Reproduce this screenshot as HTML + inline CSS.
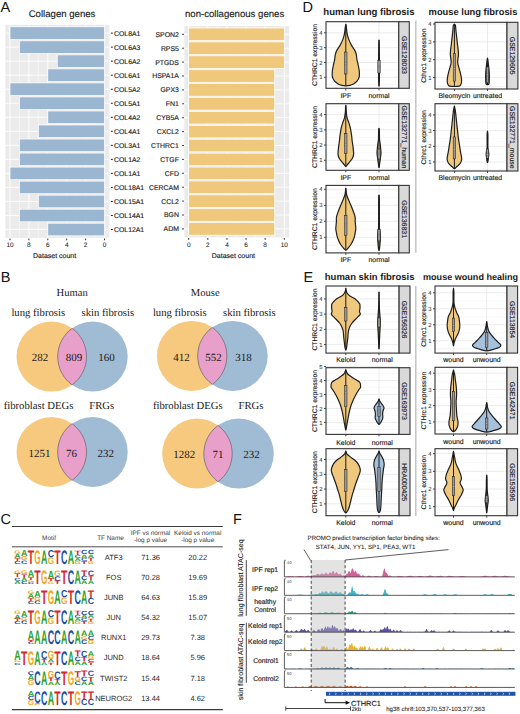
<!DOCTYPE html>
<html><head><meta charset="utf-8"><style>
html,body{margin:0;padding:0;background:#fff;}
svg{display:block;}
text{text-rendering:geometricPrecision;}
</style></head><body>
<svg width="520" height="714" viewBox="0 0 520 714">
<rect width="520" height="714" fill="#fff"/>
<text x="0.60" y="12.20" font-size="14.5" font-family='"Liberation Sans", sans-serif' font-weight="normal" fill="#111" text-anchor="start" >A</text>
<rect x="5.30" y="24.70" width="104.10" height="213.20" fill="#ebebeb" />
<line x1="104.50" y1="24.70" x2="104.50" y2="237.90" stroke="#ffffff" stroke-width="0.9" />
<line x1="95.05" y1="24.70" x2="95.05" y2="237.90" stroke="#ffffff" stroke-width="0.45" />
<line x1="85.60" y1="24.70" x2="85.60" y2="237.90" stroke="#ffffff" stroke-width="0.9" />
<line x1="76.15" y1="24.70" x2="76.15" y2="237.90" stroke="#ffffff" stroke-width="0.45" />
<line x1="66.70" y1="24.70" x2="66.70" y2="237.90" stroke="#ffffff" stroke-width="0.9" />
<line x1="57.25" y1="24.70" x2="57.25" y2="237.90" stroke="#ffffff" stroke-width="0.45" />
<line x1="47.80" y1="24.70" x2="47.80" y2="237.90" stroke="#ffffff" stroke-width="0.9" />
<line x1="38.35" y1="24.70" x2="38.35" y2="237.90" stroke="#ffffff" stroke-width="0.45" />
<line x1="28.90" y1="24.70" x2="28.90" y2="237.90" stroke="#ffffff" stroke-width="0.9" />
<line x1="19.45" y1="24.70" x2="19.45" y2="237.90" stroke="#ffffff" stroke-width="0.45" />
<line x1="10.00" y1="24.70" x2="10.00" y2="237.90" stroke="#ffffff" stroke-width="0.9" />
<line x1="5.30" y1="33.10" x2="109.40" y2="33.10" stroke="#ffffff" stroke-width="0.9" />
<line x1="5.30" y1="47.13" x2="109.40" y2="47.13" stroke="#ffffff" stroke-width="0.9" />
<line x1="5.30" y1="61.16" x2="109.40" y2="61.16" stroke="#ffffff" stroke-width="0.9" />
<line x1="5.30" y1="75.19" x2="109.40" y2="75.19" stroke="#ffffff" stroke-width="0.9" />
<line x1="5.30" y1="89.22" x2="109.40" y2="89.22" stroke="#ffffff" stroke-width="0.9" />
<line x1="5.30" y1="103.25" x2="109.40" y2="103.25" stroke="#ffffff" stroke-width="0.9" />
<line x1="5.30" y1="117.28" x2="109.40" y2="117.28" stroke="#ffffff" stroke-width="0.9" />
<line x1="5.30" y1="131.31" x2="109.40" y2="131.31" stroke="#ffffff" stroke-width="0.9" />
<line x1="5.30" y1="145.34" x2="109.40" y2="145.34" stroke="#ffffff" stroke-width="0.9" />
<line x1="5.30" y1="159.37" x2="109.40" y2="159.37" stroke="#ffffff" stroke-width="0.9" />
<line x1="5.30" y1="173.40" x2="109.40" y2="173.40" stroke="#ffffff" stroke-width="0.9" />
<line x1="5.30" y1="187.43" x2="109.40" y2="187.43" stroke="#ffffff" stroke-width="0.9" />
<line x1="5.30" y1="201.46" x2="109.40" y2="201.46" stroke="#ffffff" stroke-width="0.9" />
<line x1="5.30" y1="215.49" x2="109.40" y2="215.49" stroke="#ffffff" stroke-width="0.9" />
<line x1="5.30" y1="229.52" x2="109.40" y2="229.52" stroke="#ffffff" stroke-width="0.9" />
<rect x="10.00" y="26.80" width="94.50" height="12.60" fill="#9bb6d0" stroke="#ffffff" stroke-width="0.7"/>
<line x1="110.90" y1="33.10" x2="112.80" y2="33.10" stroke="#222" stroke-width="1.0" />
<text x="114.10" y="35.55" font-size="6.85" font-family='"Liberation Sans", sans-serif' font-weight="normal" fill="#1e1e1e" text-anchor="start"  stroke="#1e1e1e" stroke-width="0.15">COL8A1</text>
<rect x="19.45" y="40.83" width="85.05" height="12.60" fill="#9bb6d0" stroke="#ffffff" stroke-width="0.7"/>
<line x1="110.90" y1="47.13" x2="112.80" y2="47.13" stroke="#222" stroke-width="1.0" />
<text x="114.10" y="49.58" font-size="6.85" font-family='"Liberation Sans", sans-serif' font-weight="normal" fill="#1e1e1e" text-anchor="start"  stroke="#1e1e1e" stroke-width="0.15">COL6A3</text>
<rect x="57.25" y="54.86" width="47.25" height="12.60" fill="#9bb6d0" stroke="#ffffff" stroke-width="0.7"/>
<line x1="110.90" y1="61.16" x2="112.80" y2="61.16" stroke="#222" stroke-width="1.0" />
<text x="114.10" y="63.61" font-size="6.85" font-family='"Liberation Sans", sans-serif' font-weight="normal" fill="#1e1e1e" text-anchor="start"  stroke="#1e1e1e" stroke-width="0.15">COL6A2</text>
<rect x="47.80" y="68.89" width="56.70" height="12.60" fill="#9bb6d0" stroke="#ffffff" stroke-width="0.7"/>
<line x1="110.90" y1="75.19" x2="112.80" y2="75.19" stroke="#222" stroke-width="1.0" />
<text x="114.10" y="77.64" font-size="6.85" font-family='"Liberation Sans", sans-serif' font-weight="normal" fill="#1e1e1e" text-anchor="start"  stroke="#1e1e1e" stroke-width="0.15">COL6A1</text>
<rect x="10.00" y="82.92" width="94.50" height="12.60" fill="#9bb6d0" stroke="#ffffff" stroke-width="0.7"/>
<line x1="110.90" y1="89.22" x2="112.80" y2="89.22" stroke="#222" stroke-width="1.0" />
<text x="114.10" y="91.67" font-size="6.85" font-family='"Liberation Sans", sans-serif' font-weight="normal" fill="#1e1e1e" text-anchor="start"  stroke="#1e1e1e" stroke-width="0.15">COL5A2</text>
<rect x="19.45" y="96.95" width="85.05" height="12.60" fill="#9bb6d0" stroke="#ffffff" stroke-width="0.7"/>
<line x1="110.90" y1="103.25" x2="112.80" y2="103.25" stroke="#222" stroke-width="1.0" />
<text x="114.10" y="105.70" font-size="6.85" font-family='"Liberation Sans", sans-serif' font-weight="normal" fill="#1e1e1e" text-anchor="start"  stroke="#1e1e1e" stroke-width="0.15">COL5A1</text>
<rect x="47.80" y="110.98" width="56.70" height="12.60" fill="#9bb6d0" stroke="#ffffff" stroke-width="0.7"/>
<line x1="110.90" y1="117.28" x2="112.80" y2="117.28" stroke="#222" stroke-width="1.0" />
<text x="114.10" y="119.73" font-size="6.85" font-family='"Liberation Sans", sans-serif' font-weight="normal" fill="#1e1e1e" text-anchor="start"  stroke="#1e1e1e" stroke-width="0.15">COL4A2</text>
<rect x="38.35" y="125.01" width="66.15" height="12.60" fill="#9bb6d0" stroke="#ffffff" stroke-width="0.7"/>
<line x1="110.90" y1="131.31" x2="112.80" y2="131.31" stroke="#222" stroke-width="1.0" />
<text x="114.10" y="133.76" font-size="6.85" font-family='"Liberation Sans", sans-serif' font-weight="normal" fill="#1e1e1e" text-anchor="start"  stroke="#1e1e1e" stroke-width="0.15">COL4A1</text>
<rect x="19.45" y="139.04" width="85.05" height="12.60" fill="#9bb6d0" stroke="#ffffff" stroke-width="0.7"/>
<line x1="110.90" y1="145.34" x2="112.80" y2="145.34" stroke="#222" stroke-width="1.0" />
<text x="114.10" y="147.79" font-size="6.85" font-family='"Liberation Sans", sans-serif' font-weight="normal" fill="#1e1e1e" text-anchor="start"  stroke="#1e1e1e" stroke-width="0.15">COL3A1</text>
<rect x="19.45" y="153.07" width="85.05" height="12.60" fill="#9bb6d0" stroke="#ffffff" stroke-width="0.7"/>
<line x1="110.90" y1="159.37" x2="112.80" y2="159.37" stroke="#222" stroke-width="1.0" />
<text x="114.10" y="161.82" font-size="6.85" font-family='"Liberation Sans", sans-serif' font-weight="normal" fill="#1e1e1e" text-anchor="start"  stroke="#1e1e1e" stroke-width="0.15">COL1A2</text>
<rect x="10.00" y="167.10" width="94.50" height="12.60" fill="#9bb6d0" stroke="#ffffff" stroke-width="0.7"/>
<line x1="110.90" y1="173.40" x2="112.80" y2="173.40" stroke="#222" stroke-width="1.0" />
<text x="114.10" y="175.85" font-size="6.85" font-family='"Liberation Sans", sans-serif' font-weight="normal" fill="#1e1e1e" text-anchor="start"  stroke="#1e1e1e" stroke-width="0.15">COL1A1</text>
<rect x="19.45" y="181.13" width="85.05" height="12.60" fill="#9bb6d0" stroke="#ffffff" stroke-width="0.7"/>
<line x1="110.90" y1="187.43" x2="112.80" y2="187.43" stroke="#222" stroke-width="1.0" />
<text x="114.10" y="189.88" font-size="6.85" font-family='"Liberation Sans", sans-serif' font-weight="normal" fill="#1e1e1e" text-anchor="start"  stroke="#1e1e1e" stroke-width="0.15">COL18A1</text>
<rect x="38.35" y="195.16" width="66.15" height="12.60" fill="#9bb6d0" stroke="#ffffff" stroke-width="0.7"/>
<line x1="110.90" y1="201.46" x2="112.80" y2="201.46" stroke="#222" stroke-width="1.0" />
<text x="114.10" y="203.91" font-size="6.85" font-family='"Liberation Sans", sans-serif' font-weight="normal" fill="#1e1e1e" text-anchor="start"  stroke="#1e1e1e" stroke-width="0.15">COL15A1</text>
<rect x="19.45" y="209.19" width="85.05" height="12.60" fill="#9bb6d0" stroke="#ffffff" stroke-width="0.7"/>
<line x1="110.90" y1="215.49" x2="112.80" y2="215.49" stroke="#222" stroke-width="1.0" />
<text x="114.10" y="217.94" font-size="6.85" font-family='"Liberation Sans", sans-serif' font-weight="normal" fill="#1e1e1e" text-anchor="start"  stroke="#1e1e1e" stroke-width="0.15">COL14A1</text>
<rect x="47.80" y="223.22" width="56.70" height="12.60" fill="#9bb6d0" stroke="#ffffff" stroke-width="0.7"/>
<line x1="110.90" y1="229.52" x2="112.80" y2="229.52" stroke="#222" stroke-width="1.0" />
<text x="114.10" y="231.97" font-size="6.85" font-family='"Liberation Sans", sans-serif' font-weight="normal" fill="#1e1e1e" text-anchor="start"  stroke="#1e1e1e" stroke-width="0.15">COL12A1</text>
<line x1="104.50" y1="238.50" x2="104.50" y2="240.30" stroke="#222" stroke-width="0.9" />
<text x="104.50" y="247.00" font-size="6.5" font-family='"Liberation Sans", sans-serif' font-weight="normal" fill="#222" text-anchor="middle"  stroke="#222" stroke-width="0.06">0</text>
<line x1="85.60" y1="238.50" x2="85.60" y2="240.30" stroke="#222" stroke-width="0.9" />
<text x="85.60" y="247.00" font-size="6.5" font-family='"Liberation Sans", sans-serif' font-weight="normal" fill="#222" text-anchor="middle"  stroke="#222" stroke-width="0.06">2</text>
<line x1="66.70" y1="238.50" x2="66.70" y2="240.30" stroke="#222" stroke-width="0.9" />
<text x="66.70" y="247.00" font-size="6.5" font-family='"Liberation Sans", sans-serif' font-weight="normal" fill="#222" text-anchor="middle"  stroke="#222" stroke-width="0.06">4</text>
<line x1="47.80" y1="238.50" x2="47.80" y2="240.30" stroke="#222" stroke-width="0.9" />
<text x="47.80" y="247.00" font-size="6.5" font-family='"Liberation Sans", sans-serif' font-weight="normal" fill="#222" text-anchor="middle"  stroke="#222" stroke-width="0.06">6</text>
<line x1="28.90" y1="238.50" x2="28.90" y2="240.30" stroke="#222" stroke-width="0.9" />
<text x="28.90" y="247.00" font-size="6.5" font-family='"Liberation Sans", sans-serif' font-weight="normal" fill="#222" text-anchor="middle"  stroke="#222" stroke-width="0.06">8</text>
<line x1="10.00" y1="238.50" x2="10.00" y2="240.30" stroke="#222" stroke-width="0.9" />
<text x="10.00" y="247.00" font-size="6.5" font-family='"Liberation Sans", sans-serif' font-weight="normal" fill="#222" text-anchor="middle"  stroke="#222" stroke-width="0.06">10</text>
<text x="54.60" y="258.00" font-size="7.0" font-family='"Liberation Sans", sans-serif' font-weight="normal" fill="#222" text-anchor="middle"  stroke="#222" stroke-width="0.15">Dataset count</text>
<text x="28.70" y="16.90" font-size="9.6" font-family='"Liberation Sans", sans-serif' font-weight="normal" fill="#222" text-anchor="start"  stroke="#222" stroke-width="0.15">Collagen genes</text>
<rect x="184.30" y="26.00" width="104.80" height="211.40" fill="#ebebeb" />
<line x1="188.70" y1="26.00" x2="188.70" y2="237.40" stroke="#ffffff" stroke-width="0.9" />
<line x1="198.26" y1="26.00" x2="198.26" y2="237.40" stroke="#ffffff" stroke-width="0.45" />
<line x1="207.82" y1="26.00" x2="207.82" y2="237.40" stroke="#ffffff" stroke-width="0.9" />
<line x1="217.38" y1="26.00" x2="217.38" y2="237.40" stroke="#ffffff" stroke-width="0.45" />
<line x1="226.94" y1="26.00" x2="226.94" y2="237.40" stroke="#ffffff" stroke-width="0.9" />
<line x1="236.50" y1="26.00" x2="236.50" y2="237.40" stroke="#ffffff" stroke-width="0.45" />
<line x1="246.06" y1="26.00" x2="246.06" y2="237.40" stroke="#ffffff" stroke-width="0.9" />
<line x1="255.62" y1="26.00" x2="255.62" y2="237.40" stroke="#ffffff" stroke-width="0.45" />
<line x1="265.18" y1="26.00" x2="265.18" y2="237.40" stroke="#ffffff" stroke-width="0.9" />
<line x1="274.74" y1="26.00" x2="274.74" y2="237.40" stroke="#ffffff" stroke-width="0.45" />
<line x1="284.30" y1="26.00" x2="284.30" y2="237.40" stroke="#ffffff" stroke-width="0.9" />
<line x1="184.30" y1="34.30" x2="289.10" y2="34.30" stroke="#ffffff" stroke-width="0.9" />
<line x1="184.30" y1="48.20" x2="289.10" y2="48.20" stroke="#ffffff" stroke-width="0.9" />
<line x1="184.30" y1="62.10" x2="289.10" y2="62.10" stroke="#ffffff" stroke-width="0.9" />
<line x1="184.30" y1="76.00" x2="289.10" y2="76.00" stroke="#ffffff" stroke-width="0.9" />
<line x1="184.30" y1="89.90" x2="289.10" y2="89.90" stroke="#ffffff" stroke-width="0.9" />
<line x1="184.30" y1="103.80" x2="289.10" y2="103.80" stroke="#ffffff" stroke-width="0.9" />
<line x1="184.30" y1="117.70" x2="289.10" y2="117.70" stroke="#ffffff" stroke-width="0.9" />
<line x1="184.30" y1="131.60" x2="289.10" y2="131.60" stroke="#ffffff" stroke-width="0.9" />
<line x1="184.30" y1="145.50" x2="289.10" y2="145.50" stroke="#ffffff" stroke-width="0.9" />
<line x1="184.30" y1="159.40" x2="289.10" y2="159.40" stroke="#ffffff" stroke-width="0.9" />
<line x1="184.30" y1="173.30" x2="289.10" y2="173.30" stroke="#ffffff" stroke-width="0.9" />
<line x1="184.30" y1="187.20" x2="289.10" y2="187.20" stroke="#ffffff" stroke-width="0.9" />
<line x1="184.30" y1="201.10" x2="289.10" y2="201.10" stroke="#ffffff" stroke-width="0.9" />
<line x1="184.30" y1="215.00" x2="289.10" y2="215.00" stroke="#ffffff" stroke-width="0.9" />
<line x1="184.30" y1="228.90" x2="289.10" y2="228.90" stroke="#ffffff" stroke-width="0.9" />
<rect x="188.70" y="28.05" width="95.60" height="12.50" fill="#efc87b" stroke="#ffffff" stroke-width="0.7"/>
<line x1="182.20" y1="34.30" x2="183.90" y2="34.30" stroke="#222" stroke-width="1.0" />
<text x="178.90" y="36.75" font-size="6.9" font-family='"Liberation Sans", sans-serif' font-weight="normal" fill="#1e1e1e" text-anchor="end"  stroke="#1e1e1e" stroke-width="0.15">SPON2</text>
<rect x="188.70" y="41.95" width="95.60" height="12.50" fill="#efc87b" stroke="#ffffff" stroke-width="0.7"/>
<line x1="182.20" y1="48.20" x2="183.90" y2="48.20" stroke="#222" stroke-width="1.0" />
<text x="178.90" y="50.65" font-size="6.9" font-family='"Liberation Sans", sans-serif' font-weight="normal" fill="#1e1e1e" text-anchor="end"  stroke="#1e1e1e" stroke-width="0.15">RPS5</text>
<rect x="188.70" y="55.85" width="95.60" height="12.50" fill="#efc87b" stroke="#ffffff" stroke-width="0.7"/>
<line x1="182.20" y1="62.10" x2="183.90" y2="62.10" stroke="#222" stroke-width="1.0" />
<text x="178.90" y="64.55" font-size="6.9" font-family='"Liberation Sans", sans-serif' font-weight="normal" fill="#1e1e1e" text-anchor="end"  stroke="#1e1e1e" stroke-width="0.15">PTGDS</text>
<rect x="188.70" y="69.75" width="86.04" height="12.50" fill="#efc87b" stroke="#ffffff" stroke-width="0.7"/>
<line x1="182.20" y1="76.00" x2="183.90" y2="76.00" stroke="#222" stroke-width="1.0" />
<text x="178.90" y="78.45" font-size="6.9" font-family='"Liberation Sans", sans-serif' font-weight="normal" fill="#1e1e1e" text-anchor="end"  stroke="#1e1e1e" stroke-width="0.15">HSPA1A</text>
<rect x="188.70" y="83.65" width="86.04" height="12.50" fill="#efc87b" stroke="#ffffff" stroke-width="0.7"/>
<line x1="182.20" y1="89.90" x2="183.90" y2="89.90" stroke="#222" stroke-width="1.0" />
<text x="178.90" y="92.35" font-size="6.9" font-family='"Liberation Sans", sans-serif' font-weight="normal" fill="#1e1e1e" text-anchor="end"  stroke="#1e1e1e" stroke-width="0.15">GPX3</text>
<rect x="188.70" y="97.55" width="86.04" height="12.50" fill="#efc87b" stroke="#ffffff" stroke-width="0.7"/>
<line x1="182.20" y1="103.80" x2="183.90" y2="103.80" stroke="#222" stroke-width="1.0" />
<text x="178.90" y="106.25" font-size="6.9" font-family='"Liberation Sans", sans-serif' font-weight="normal" fill="#1e1e1e" text-anchor="end"  stroke="#1e1e1e" stroke-width="0.15">FN1</text>
<rect x="188.70" y="111.45" width="86.04" height="12.50" fill="#efc87b" stroke="#ffffff" stroke-width="0.7"/>
<line x1="182.20" y1="117.70" x2="183.90" y2="117.70" stroke="#222" stroke-width="1.0" />
<text x="178.90" y="120.15" font-size="6.9" font-family='"Liberation Sans", sans-serif' font-weight="normal" fill="#1e1e1e" text-anchor="end"  stroke="#1e1e1e" stroke-width="0.15">CYB5A</text>
<rect x="188.70" y="125.35" width="86.04" height="12.50" fill="#efc87b" stroke="#ffffff" stroke-width="0.7"/>
<line x1="182.20" y1="131.60" x2="183.90" y2="131.60" stroke="#222" stroke-width="1.0" />
<text x="178.90" y="134.05" font-size="6.9" font-family='"Liberation Sans", sans-serif' font-weight="normal" fill="#1e1e1e" text-anchor="end"  stroke="#1e1e1e" stroke-width="0.15">CXCL2</text>
<rect x="188.70" y="139.25" width="86.04" height="12.50" fill="#efc87b" stroke="#ffffff" stroke-width="0.7"/>
<line x1="182.20" y1="145.50" x2="183.90" y2="145.50" stroke="#222" stroke-width="1.0" />
<text x="178.90" y="147.95" font-size="6.9" font-family='"Liberation Sans", sans-serif' font-weight="normal" fill="#1e1e1e" text-anchor="end"  stroke="#1e1e1e" stroke-width="0.15">CTHRC1</text>
<rect x="188.70" y="153.15" width="86.04" height="12.50" fill="#efc87b" stroke="#ffffff" stroke-width="0.7"/>
<line x1="182.20" y1="159.40" x2="183.90" y2="159.40" stroke="#222" stroke-width="1.0" />
<text x="178.90" y="161.85" font-size="6.9" font-family='"Liberation Sans", sans-serif' font-weight="normal" fill="#1e1e1e" text-anchor="end"  stroke="#1e1e1e" stroke-width="0.15">CTGF</text>
<rect x="188.70" y="167.05" width="86.04" height="12.50" fill="#efc87b" stroke="#ffffff" stroke-width="0.7"/>
<line x1="182.20" y1="173.30" x2="183.90" y2="173.30" stroke="#222" stroke-width="1.0" />
<text x="178.90" y="175.75" font-size="6.9" font-family='"Liberation Sans", sans-serif' font-weight="normal" fill="#1e1e1e" text-anchor="end"  stroke="#1e1e1e" stroke-width="0.15">CFD</text>
<rect x="188.70" y="180.95" width="86.04" height="12.50" fill="#efc87b" stroke="#ffffff" stroke-width="0.7"/>
<line x1="182.20" y1="187.20" x2="183.90" y2="187.20" stroke="#222" stroke-width="1.0" />
<text x="178.90" y="189.65" font-size="6.9" font-family='"Liberation Sans", sans-serif' font-weight="normal" fill="#1e1e1e" text-anchor="end"  stroke="#1e1e1e" stroke-width="0.15">CERCAM</text>
<rect x="188.70" y="194.85" width="86.04" height="12.50" fill="#efc87b" stroke="#ffffff" stroke-width="0.7"/>
<line x1="182.20" y1="201.10" x2="183.90" y2="201.10" stroke="#222" stroke-width="1.0" />
<text x="178.90" y="203.55" font-size="6.9" font-family='"Liberation Sans", sans-serif' font-weight="normal" fill="#1e1e1e" text-anchor="end"  stroke="#1e1e1e" stroke-width="0.15">CCL2</text>
<rect x="188.70" y="208.75" width="86.04" height="12.50" fill="#efc87b" stroke="#ffffff" stroke-width="0.7"/>
<line x1="182.20" y1="215.00" x2="183.90" y2="215.00" stroke="#222" stroke-width="1.0" />
<text x="178.90" y="217.45" font-size="6.9" font-family='"Liberation Sans", sans-serif' font-weight="normal" fill="#1e1e1e" text-anchor="end"  stroke="#1e1e1e" stroke-width="0.15">BGN</text>
<rect x="188.70" y="222.65" width="86.04" height="12.50" fill="#efc87b" stroke="#ffffff" stroke-width="0.7"/>
<line x1="182.20" y1="228.90" x2="183.90" y2="228.90" stroke="#222" stroke-width="1.0" />
<text x="178.90" y="231.35" font-size="6.9" font-family='"Liberation Sans", sans-serif' font-weight="normal" fill="#1e1e1e" text-anchor="end"  stroke="#1e1e1e" stroke-width="0.15">ADM</text>
<line x1="188.70" y1="238.00" x2="188.70" y2="239.80" stroke="#222" stroke-width="0.9" />
<text x="188.70" y="247.00" font-size="6.5" font-family='"Liberation Sans", sans-serif' font-weight="normal" fill="#222" text-anchor="middle"  stroke="#222" stroke-width="0.06">0</text>
<line x1="207.82" y1="238.00" x2="207.82" y2="239.80" stroke="#222" stroke-width="0.9" />
<text x="207.82" y="247.00" font-size="6.5" font-family='"Liberation Sans", sans-serif' font-weight="normal" fill="#222" text-anchor="middle"  stroke="#222" stroke-width="0.06">2</text>
<line x1="226.94" y1="238.00" x2="226.94" y2="239.80" stroke="#222" stroke-width="0.9" />
<text x="226.94" y="247.00" font-size="6.5" font-family='"Liberation Sans", sans-serif' font-weight="normal" fill="#222" text-anchor="middle"  stroke="#222" stroke-width="0.06">4</text>
<line x1="246.06" y1="238.00" x2="246.06" y2="239.80" stroke="#222" stroke-width="0.9" />
<text x="246.06" y="247.00" font-size="6.5" font-family='"Liberation Sans", sans-serif' font-weight="normal" fill="#222" text-anchor="middle"  stroke="#222" stroke-width="0.06">6</text>
<line x1="265.18" y1="238.00" x2="265.18" y2="239.80" stroke="#222" stroke-width="0.9" />
<text x="265.18" y="247.00" font-size="6.5" font-family='"Liberation Sans", sans-serif' font-weight="normal" fill="#222" text-anchor="middle"  stroke="#222" stroke-width="0.06">8</text>
<line x1="284.30" y1="238.00" x2="284.30" y2="239.80" stroke="#222" stroke-width="0.9" />
<text x="284.30" y="247.00" font-size="6.5" font-family='"Liberation Sans", sans-serif' font-weight="normal" fill="#222" text-anchor="middle"  stroke="#222" stroke-width="0.06">10</text>
<text x="233.40" y="258.00" font-size="7.0" font-family='"Liberation Sans", sans-serif' font-weight="normal" fill="#222" text-anchor="middle"  stroke="#222" stroke-width="0.15">Dataset count</text>
<text x="185.00" y="17.10" font-size="9.6" font-family='"Liberation Sans", sans-serif' font-weight="normal" fill="#222" text-anchor="start"  stroke="#222" stroke-width="0.15">non-collagenous genes</text>
<text x="0.80" y="282.40" font-size="14.5" font-family='"Liberation Sans", sans-serif' font-weight="normal" fill="#111" text-anchor="start" >B</text>
<text x="56.60" y="295.70" font-size="10.6" font-family='"Liberation Serif", serif' font-weight="normal" fill="#1a1a1a" text-anchor="start" >Human</text>
<text x="190.80" y="296.20" font-size="10.6" font-family='"Liberation Serif", serif' font-weight="normal" fill="#1a1a1a" text-anchor="start" >Mouse</text>
<text x="11.40" y="316.00" font-size="10.7" font-family='"Liberation Serif", serif' font-weight="normal" fill="#1a1a1a" text-anchor="start" >lung fibrosis</text>
<text x="81.50" y="316.00" font-size="10.7" font-family='"Liberation Serif", serif' font-weight="normal" fill="#1a1a1a" text-anchor="start" >skin fibrosis</text>
<text x="152.90" y="316.00" font-size="10.7" font-family='"Liberation Serif", serif' font-weight="normal" fill="#1a1a1a" text-anchor="start" >lung fibrosis</text>
<text x="223.00" y="316.00" font-size="10.7" font-family='"Liberation Serif", serif' font-weight="normal" fill="#1a1a1a" text-anchor="start" >skin fibrosis</text>
<circle cx="51.5" cy="356.6" r="35" fill="#f6c97e"/>
<circle cx="92.7" cy="356.6" r="35" fill="#a0bbd4"/>
<path d="M72.10,328.30 A35,35 0 0 1 72.10,384.90 A35,35 0 0 1 72.10,328.30 Z" fill="#e89fca" stroke="#555" stroke-width="0.6"/>
<text x="40.10" y="360.60" font-size="11" font-family='"Liberation Serif", serif' font-weight="normal" fill="#1a1a1a" text-anchor="middle" >282</text>
<text x="74.10" y="360.60" font-size="11" font-family='"Liberation Serif", serif' font-weight="normal" fill="#1a1a1a" text-anchor="middle" >809</text>
<text x="106.50" y="360.60" font-size="11" font-family='"Liberation Serif", serif' font-weight="normal" fill="#1a1a1a" text-anchor="middle" >160</text>
<circle cx="191.9" cy="355.9" r="35" fill="#f6c97e"/>
<circle cx="232.7" cy="355.9" r="35" fill="#a0bbd4"/>
<path d="M212.30,327.46 A35,35 0 0 1 212.30,384.34 A35,35 0 0 1 212.30,327.46 Z" fill="#e89fca" stroke="#555" stroke-width="0.6"/>
<text x="181.50" y="361.20" font-size="11" font-family='"Liberation Serif", serif' font-weight="normal" fill="#1a1a1a" text-anchor="middle" >412</text>
<text x="213.50" y="361.20" font-size="11" font-family='"Liberation Serif", serif' font-weight="normal" fill="#1a1a1a" text-anchor="middle" >552</text>
<text x="243.40" y="361.20" font-size="11" font-family='"Liberation Serif", serif' font-weight="normal" fill="#1a1a1a" text-anchor="middle" >318</text>
<text x="3.70" y="409.00" font-size="10.7" font-family='"Liberation Serif", serif' font-weight="normal" fill="#1a1a1a" text-anchor="start" >fibroblast DEGs</text>
<text x="89.20" y="409.00" font-size="10.7" font-family='"Liberation Serif", serif' font-weight="normal" fill="#1a1a1a" text-anchor="start" >FRGs</text>
<text x="152.90" y="409.00" font-size="10.7" font-family='"Liberation Serif", serif' font-weight="normal" fill="#1a1a1a" text-anchor="start" >fibroblast DEGs</text>
<text x="238.50" y="409.00" font-size="10.7" font-family='"Liberation Serif", serif' font-weight="normal" fill="#1a1a1a" text-anchor="start" >FRGs</text>
<circle cx="51.5" cy="452.0" r="35" fill="#f6c97e"/>
<circle cx="92.7" cy="452.0" r="35" fill="#a0bbd4"/>
<path d="M72.10,423.70 A35,35 0 0 1 72.10,480.30 A35,35 0 0 1 72.10,423.70 Z" fill="#e89fca" stroke="#555" stroke-width="0.6"/>
<text x="39.50" y="456.80" font-size="11" font-family='"Liberation Serif", serif' font-weight="normal" fill="#1a1a1a" text-anchor="middle" >1251</text>
<text x="71.50" y="456.80" font-size="11" font-family='"Liberation Serif", serif' font-weight="normal" fill="#1a1a1a" text-anchor="middle" >76</text>
<text x="105.80" y="456.80" font-size="11" font-family='"Liberation Serif", serif' font-weight="normal" fill="#1a1a1a" text-anchor="middle" >232</text>
<circle cx="197.2" cy="453.6" r="35" fill="#f6c97e"/>
<circle cx="238.8" cy="453.6" r="35" fill="#a0bbd4"/>
<path d="M218.00,425.45 A35,35 0 0 1 218.00,481.75 A35,35 0 0 1 218.00,425.45 Z" fill="#e89fca" stroke="#555" stroke-width="0.6"/>
<text x="184.30" y="458.30" font-size="11" font-family='"Liberation Serif", serif' font-weight="normal" fill="#1a1a1a" text-anchor="middle" >1282</text>
<text x="218.00" y="458.30" font-size="11" font-family='"Liberation Serif", serif' font-weight="normal" fill="#1a1a1a" text-anchor="middle" >71</text>
<text x="251.50" y="458.30" font-size="11" font-family='"Liberation Serif", serif' font-weight="normal" fill="#1a1a1a" text-anchor="middle" >232</text>
<text x="0.60" y="523.90" font-size="14.5" font-family='"Liberation Sans", sans-serif' font-weight="normal" fill="#111" text-anchor="start" >C</text>
<line x1="12.00" y1="526.50" x2="222.80" y2="526.50" stroke="#3a3a3a" stroke-width="1.2" />
<line x1="12.00" y1="546.80" x2="222.80" y2="546.80" stroke="#3a3a3a" stroke-width="0.9" />
<line x1="12.00" y1="709.60" x2="222.80" y2="709.60" stroke="#3a3a3a" stroke-width="1.2" />
<text x="49.00" y="540.40" font-size="6.4" font-family='"Liberation Sans", sans-serif' font-weight="normal" fill="#3a3a3a" text-anchor="middle" stroke="none">Motif</text>
<text x="110.50" y="540.40" font-size="6.4" font-family='"Liberation Sans", sans-serif' font-weight="normal" fill="#3a3a3a" text-anchor="middle" stroke="none">TF Name</text>
<text x="150.50" y="535.10" font-size="6.4" font-family='"Liberation Sans", sans-serif' font-weight="normal" fill="#3a3a3a" text-anchor="middle" stroke="none">IPF vs normal</text>
<text x="150.50" y="542.40" font-size="6.4" font-family='"Liberation Sans", sans-serif' font-weight="normal" fill="#3a3a3a" text-anchor="middle" stroke="none">-log p value</text>
<text x="197.70" y="535.10" font-size="6.4" font-family='"Liberation Sans", sans-serif' font-weight="normal" fill="#3a3a3a" text-anchor="middle" stroke="none">Keloid vs normal</text>
<text x="197.70" y="542.40" font-size="6.4" font-family='"Liberation Sans", sans-serif' font-weight="normal" fill="#3a3a3a" text-anchor="middle" stroke="none">-log p value</text>
<text x="113.70" y="559.70" font-size="7.5" font-family='"Liberation Sans", sans-serif' font-weight="normal" fill="#2a2a2a" text-anchor="middle" stroke="none">ATF3</text>
<text x="150.60" y="559.70" font-size="7.5" font-family='"Liberation Sans", sans-serif' font-weight="normal" fill="#2a2a2a" text-anchor="middle" stroke="none">71.36</text>
<text x="197.70" y="559.70" font-size="7.5" font-family='"Liberation Sans", sans-serif' font-weight="normal" fill="#2a2a2a" text-anchor="middle" stroke="none">20.22</text>
<text transform="translate(14.29,553.74) scale(0.820,0.514)" font-size="10" font-weight="bold" font-family='"Liberation Sans", sans-serif' fill="#f2a626">G</text>
<text transform="translate(14.29,558.09) scale(0.884,0.633)" font-size="10" font-weight="bold" font-family='"Liberation Sans", sans-serif' fill="#2fa22f">A</text>
<text transform="translate(14.29,560.81) scale(1.044,0.395)" font-size="10" font-weight="bold" font-family='"Liberation Sans", sans-serif' fill="#d8262a">T</text>
<text transform="translate(14.29,563.80) scale(0.884,0.435)" font-size="10" font-weight="bold" font-family='"Liberation Sans", sans-serif' fill="#1d4f9f">C</text>
<text transform="translate(20.97,556.32) scale(0.884,0.890)" font-size="10" font-weight="bold" font-family='"Liberation Sans", sans-serif' fill="#2fa22f">A</text>
<text transform="translate(20.97,560.40) scale(0.820,0.593)" font-size="10" font-weight="bold" font-family='"Liberation Sans", sans-serif' fill="#f2a626">G</text>
<text transform="translate(20.97,563.80) scale(0.884,0.494)" font-size="10" font-weight="bold" font-family='"Liberation Sans", sans-serif' fill="#1d4f9f">C</text>
<text transform="translate(27.65,563.80) scale(1.044,1.977)" font-size="10" font-weight="bold" font-family='"Liberation Sans", sans-serif' fill="#d8262a">T</text>
<text transform="translate(34.33,563.80) scale(0.820,1.977)" font-size="10" font-weight="bold" font-family='"Liberation Sans", sans-serif' fill="#f2a626">G</text>
<text transform="translate(41.01,563.80) scale(0.884,1.977)" font-size="10" font-weight="bold" font-family='"Liberation Sans", sans-serif' fill="#2fa22f">A</text>
<text transform="translate(47.69,557.00) scale(0.884,0.988)" font-size="10" font-weight="bold" font-family='"Liberation Sans", sans-serif' fill="#1d4f9f">C</text>
<text transform="translate(47.69,563.80) scale(0.820,0.988)" font-size="10" font-weight="bold" font-family='"Liberation Sans", sans-serif' fill="#f2a626">G</text>
<text transform="translate(54.37,563.80) scale(1.044,1.977)" font-size="10" font-weight="bold" font-family='"Liberation Sans", sans-serif' fill="#d8262a">T</text>
<text transform="translate(61.05,563.80) scale(0.884,1.977)" font-size="10" font-weight="bold" font-family='"Liberation Sans", sans-serif' fill="#1d4f9f">C</text>
<text transform="translate(67.73,563.80) scale(0.884,1.977)" font-size="10" font-weight="bold" font-family='"Liberation Sans", sans-serif' fill="#2fa22f">A</text>
<text transform="translate(74.41,554.55) scale(1.044,0.633)" font-size="10" font-weight="bold" font-family='"Liberation Sans", sans-serif' fill="#d8262a">T</text>
<text transform="translate(74.41,557.82) scale(0.884,0.474)" font-size="10" font-weight="bold" font-family='"Liberation Sans", sans-serif' fill="#1d4f9f">C</text>
<text transform="translate(74.41,560.81) scale(0.884,0.435)" font-size="10" font-weight="bold" font-family='"Liberation Sans", sans-serif' fill="#2fa22f">A</text>
<text transform="translate(74.41,563.80) scale(0.820,0.435)" font-size="10" font-weight="bold" font-family='"Liberation Sans", sans-serif' fill="#f2a626">G</text>
<text transform="translate(81.09,554.28) scale(0.884,0.593)" font-size="10" font-weight="bold" font-family='"Liberation Sans", sans-serif' fill="#1d4f9f">C</text>
<text transform="translate(81.09,557.54) scale(0.884,0.474)" font-size="10" font-weight="bold" font-family='"Liberation Sans", sans-serif' fill="#2fa22f">A</text>
<text transform="translate(81.09,560.81) scale(0.884,0.474)" font-size="10" font-weight="bold" font-family='"Liberation Sans", sans-serif' fill="#1d4f9f">C</text>
<text transform="translate(81.09,563.80) scale(1.044,0.435)" font-size="10" font-weight="bold" font-family='"Liberation Sans", sans-serif' fill="#d8262a">T</text>
<text transform="translate(87.77,554.28) scale(0.884,0.593)" font-size="10" font-weight="bold" font-family='"Liberation Sans", sans-serif' fill="#1d4f9f">C</text>
<text transform="translate(87.77,557.82) scale(0.884,0.514)" font-size="10" font-weight="bold" font-family='"Liberation Sans", sans-serif' fill="#2fa22f">A</text>
<text transform="translate(87.77,561.08) scale(1.044,0.474)" font-size="10" font-weight="bold" font-family='"Liberation Sans", sans-serif' fill="#d8262a">T</text>
<text transform="translate(87.77,563.80) scale(0.820,0.395)" font-size="10" font-weight="bold" font-family='"Liberation Sans", sans-serif' fill="#f2a626">G</text>
<text x="113.70" y="579.84" font-size="7.5" font-family='"Liberation Sans", sans-serif' font-weight="normal" fill="#2a2a2a" text-anchor="middle" stroke="none">FOS</text>
<text x="150.60" y="579.84" font-size="7.5" font-family='"Liberation Sans", sans-serif' font-weight="normal" fill="#2a2a2a" text-anchor="middle" stroke="none">70.28</text>
<text x="197.70" y="579.84" font-size="7.5" font-family='"Liberation Sans", sans-serif' font-weight="normal" fill="#2a2a2a" text-anchor="middle" stroke="none">19.69</text>
<text transform="translate(14.29,573.88) scale(0.820,0.514)" font-size="10" font-weight="bold" font-family='"Liberation Sans", sans-serif' fill="#f2a626">G</text>
<text transform="translate(14.29,577.41) scale(1.044,0.514)" font-size="10" font-weight="bold" font-family='"Liberation Sans", sans-serif' fill="#d8262a">T</text>
<text transform="translate(14.29,580.68) scale(0.884,0.474)" font-size="10" font-weight="bold" font-family='"Liberation Sans", sans-serif' fill="#1d4f9f">C</text>
<text transform="translate(14.29,583.94) scale(0.884,0.474)" font-size="10" font-weight="bold" font-family='"Liberation Sans", sans-serif' fill="#2fa22f">A</text>
<text transform="translate(20.97,574.15) scale(0.820,0.553)" font-size="10" font-weight="bold" font-family='"Liberation Sans", sans-serif' fill="#f2a626">G</text>
<text transform="translate(20.97,577.68) scale(1.044,0.514)" font-size="10" font-weight="bold" font-family='"Liberation Sans", sans-serif' fill="#d8262a">T</text>
<text transform="translate(20.97,580.95) scale(0.884,0.474)" font-size="10" font-weight="bold" font-family='"Liberation Sans", sans-serif' fill="#2fa22f">A</text>
<text transform="translate(20.97,583.94) scale(0.884,0.435)" font-size="10" font-weight="bold" font-family='"Liberation Sans", sans-serif' fill="#1d4f9f">C</text>
<text transform="translate(27.65,577.14) scale(0.884,0.988)" font-size="10" font-weight="bold" font-family='"Liberation Sans", sans-serif' fill="#2fa22f">A</text>
<text transform="translate(27.65,579.86) scale(1.044,0.395)" font-size="10" font-weight="bold" font-family='"Liberation Sans", sans-serif' fill="#d8262a">T</text>
<text transform="translate(27.65,581.90) scale(0.820,0.297)" font-size="10" font-weight="bold" font-family='"Liberation Sans", sans-serif' fill="#f2a626">G</text>
<text transform="translate(27.65,583.94) scale(0.884,0.297)" font-size="10" font-weight="bold" font-family='"Liberation Sans", sans-serif' fill="#1d4f9f">C</text>
<text transform="translate(34.33,583.94) scale(1.044,1.977)" font-size="10" font-weight="bold" font-family='"Liberation Sans", sans-serif' fill="#d8262a">T</text>
<text transform="translate(41.01,583.94) scale(0.820,1.977)" font-size="10" font-weight="bold" font-family='"Liberation Sans", sans-serif' fill="#f2a626">G</text>
<text transform="translate(47.69,578.50) scale(0.884,1.186)" font-size="10" font-weight="bold" font-family='"Liberation Sans", sans-serif' fill="#2fa22f">A</text>
<text transform="translate(47.69,581.49) scale(1.044,0.435)" font-size="10" font-weight="bold" font-family='"Liberation Sans", sans-serif' fill="#d8262a">T</text>
<text transform="translate(47.69,583.94) scale(0.820,0.356)" font-size="10" font-weight="bold" font-family='"Liberation Sans", sans-serif' fill="#f2a626">G</text>
<text transform="translate(54.37,575.78) scale(0.820,0.791)" font-size="10" font-weight="bold" font-family='"Liberation Sans", sans-serif' fill="#f2a626">G</text>
<text transform="translate(54.37,580.54) scale(0.884,0.692)" font-size="10" font-weight="bold" font-family='"Liberation Sans", sans-serif' fill="#1d4f9f">C</text>
<text transform="translate(54.37,583.94) scale(1.044,0.494)" font-size="10" font-weight="bold" font-family='"Liberation Sans", sans-serif' fill="#d8262a">T</text>
<text transform="translate(61.05,583.94) scale(1.044,1.977)" font-size="10" font-weight="bold" font-family='"Liberation Sans", sans-serif' fill="#d8262a">T</text>
<text transform="translate(67.73,583.94) scale(0.884,1.977)" font-size="10" font-weight="bold" font-family='"Liberation Sans", sans-serif' fill="#1d4f9f">C</text>
<text transform="translate(74.41,583.94) scale(0.884,1.977)" font-size="10" font-weight="bold" font-family='"Liberation Sans", sans-serif' fill="#2fa22f">A</text>
<text transform="translate(81.09,575.78) scale(1.044,0.791)" font-size="10" font-weight="bold" font-family='"Liberation Sans", sans-serif' fill="#d8262a">T</text>
<text transform="translate(81.09,580.13) scale(0.884,0.633)" font-size="10" font-weight="bold" font-family='"Liberation Sans", sans-serif' fill="#1d4f9f">C</text>
<text transform="translate(81.09,583.94) scale(0.884,0.553)" font-size="10" font-weight="bold" font-family='"Liberation Sans", sans-serif' fill="#2fa22f">A</text>
<text transform="translate(87.77,575.78) scale(0.884,0.791)" font-size="10" font-weight="bold" font-family='"Liberation Sans", sans-serif' fill="#1d4f9f">C</text>
<text transform="translate(87.77,580.13) scale(1.044,0.633)" font-size="10" font-weight="bold" font-family='"Liberation Sans", sans-serif' fill="#d8262a">T</text>
<text transform="translate(87.77,583.94) scale(0.884,0.553)" font-size="10" font-weight="bold" font-family='"Liberation Sans", sans-serif' fill="#2fa22f">A</text>
<text x="113.70" y="599.98" font-size="7.5" font-family='"Liberation Sans", sans-serif' font-weight="normal" fill="#2a2a2a" text-anchor="middle" stroke="none">JUNB</text>
<text x="150.60" y="599.98" font-size="7.5" font-family='"Liberation Sans", sans-serif' font-weight="normal" fill="#2a2a2a" text-anchor="middle" stroke="none">64.63</text>
<text x="197.70" y="599.98" font-size="7.5" font-family='"Liberation Sans", sans-serif' font-weight="normal" fill="#2a2a2a" text-anchor="middle" stroke="none">15.89</text>
<text transform="translate(27.65,594.02) scale(0.820,0.514)" font-size="10" font-weight="bold" font-family='"Liberation Sans", sans-serif' fill="#f2a626">G</text>
<text transform="translate(27.65,598.37) scale(0.884,0.633)" font-size="10" font-weight="bold" font-family='"Liberation Sans", sans-serif' fill="#2fa22f">A</text>
<text transform="translate(27.65,601.09) scale(1.044,0.395)" font-size="10" font-weight="bold" font-family='"Liberation Sans", sans-serif' fill="#d8262a">T</text>
<text transform="translate(27.65,604.08) scale(0.884,0.435)" font-size="10" font-weight="bold" font-family='"Liberation Sans", sans-serif' fill="#1d4f9f">C</text>
<text transform="translate(34.33,596.60) scale(0.884,0.890)" font-size="10" font-weight="bold" font-family='"Liberation Sans", sans-serif' fill="#2fa22f">A</text>
<text transform="translate(34.33,600.68) scale(0.820,0.593)" font-size="10" font-weight="bold" font-family='"Liberation Sans", sans-serif' fill="#f2a626">G</text>
<text transform="translate(34.33,604.08) scale(0.884,0.494)" font-size="10" font-weight="bold" font-family='"Liberation Sans", sans-serif' fill="#1d4f9f">C</text>
<text transform="translate(41.01,604.08) scale(1.044,1.977)" font-size="10" font-weight="bold" font-family='"Liberation Sans", sans-serif' fill="#d8262a">T</text>
<text transform="translate(47.69,604.08) scale(0.820,1.977)" font-size="10" font-weight="bold" font-family='"Liberation Sans", sans-serif' fill="#f2a626">G</text>
<text transform="translate(54.37,604.08) scale(0.884,1.977)" font-size="10" font-weight="bold" font-family='"Liberation Sans", sans-serif' fill="#2fa22f">A</text>
<text transform="translate(61.05,597.28) scale(0.884,0.988)" font-size="10" font-weight="bold" font-family='"Liberation Sans", sans-serif' fill="#1d4f9f">C</text>
<text transform="translate(61.05,604.08) scale(0.820,0.988)" font-size="10" font-weight="bold" font-family='"Liberation Sans", sans-serif' fill="#f2a626">G</text>
<text transform="translate(67.73,604.08) scale(1.044,1.977)" font-size="10" font-weight="bold" font-family='"Liberation Sans", sans-serif' fill="#d8262a">T</text>
<text transform="translate(74.41,604.08) scale(0.884,1.977)" font-size="10" font-weight="bold" font-family='"Liberation Sans", sans-serif' fill="#1d4f9f">C</text>
<text transform="translate(81.09,604.08) scale(0.884,1.977)" font-size="10" font-weight="bold" font-family='"Liberation Sans", sans-serif' fill="#2fa22f">A</text>
<text transform="translate(87.77,597.96) scale(1.044,1.087)" font-size="10" font-weight="bold" font-family='"Liberation Sans", sans-serif' fill="#d8262a">T</text>
<text transform="translate(87.77,604.08) scale(0.884,0.890)" font-size="10" font-weight="bold" font-family='"Liberation Sans", sans-serif' fill="#1d4f9f">C</text>
<text x="113.70" y="620.12" font-size="7.5" font-family='"Liberation Sans", sans-serif' font-weight="normal" fill="#2a2a2a" text-anchor="middle" stroke="none">JUN</text>
<text x="150.60" y="620.12" font-size="7.5" font-family='"Liberation Sans", sans-serif' font-weight="normal" fill="#2a2a2a" text-anchor="middle" stroke="none">54.32</text>
<text x="197.70" y="620.12" font-size="7.5" font-family='"Liberation Sans", sans-serif' font-weight="normal" fill="#2a2a2a" text-anchor="middle" stroke="none">15.07</text>
<text transform="translate(14.29,614.16) scale(0.820,0.514)" font-size="10" font-weight="bold" font-family='"Liberation Sans", sans-serif' fill="#f2a626">G</text>
<text transform="translate(14.29,618.51) scale(0.884,0.633)" font-size="10" font-weight="bold" font-family='"Liberation Sans", sans-serif' fill="#2fa22f">A</text>
<text transform="translate(14.29,621.23) scale(1.044,0.395)" font-size="10" font-weight="bold" font-family='"Liberation Sans", sans-serif' fill="#d8262a">T</text>
<text transform="translate(14.29,624.22) scale(0.884,0.435)" font-size="10" font-weight="bold" font-family='"Liberation Sans", sans-serif' fill="#1d4f9f">C</text>
<text transform="translate(20.97,616.74) scale(0.884,0.890)" font-size="10" font-weight="bold" font-family='"Liberation Sans", sans-serif' fill="#2fa22f">A</text>
<text transform="translate(20.97,620.82) scale(0.820,0.593)" font-size="10" font-weight="bold" font-family='"Liberation Sans", sans-serif' fill="#f2a626">G</text>
<text transform="translate(20.97,624.22) scale(0.884,0.494)" font-size="10" font-weight="bold" font-family='"Liberation Sans", sans-serif' fill="#1d4f9f">C</text>
<text transform="translate(27.65,624.22) scale(1.044,1.977)" font-size="10" font-weight="bold" font-family='"Liberation Sans", sans-serif' fill="#d8262a">T</text>
<text transform="translate(34.33,624.22) scale(0.820,1.977)" font-size="10" font-weight="bold" font-family='"Liberation Sans", sans-serif' fill="#f2a626">G</text>
<text transform="translate(41.01,624.22) scale(0.884,1.977)" font-size="10" font-weight="bold" font-family='"Liberation Sans", sans-serif' fill="#2fa22f">A</text>
<text transform="translate(47.69,617.42) scale(0.884,0.988)" font-size="10" font-weight="bold" font-family='"Liberation Sans", sans-serif' fill="#1d4f9f">C</text>
<text transform="translate(47.69,624.22) scale(0.820,0.988)" font-size="10" font-weight="bold" font-family='"Liberation Sans", sans-serif' fill="#f2a626">G</text>
<text transform="translate(54.37,624.22) scale(1.044,1.977)" font-size="10" font-weight="bold" font-family='"Liberation Sans", sans-serif' fill="#d8262a">T</text>
<text transform="translate(61.05,624.22) scale(0.884,1.977)" font-size="10" font-weight="bold" font-family='"Liberation Sans", sans-serif' fill="#1d4f9f">C</text>
<text transform="translate(67.73,624.22) scale(0.884,1.977)" font-size="10" font-weight="bold" font-family='"Liberation Sans", sans-serif' fill="#2fa22f">A</text>
<text transform="translate(74.41,614.97) scale(1.044,0.633)" font-size="10" font-weight="bold" font-family='"Liberation Sans", sans-serif' fill="#d8262a">T</text>
<text transform="translate(74.41,618.24) scale(0.884,0.474)" font-size="10" font-weight="bold" font-family='"Liberation Sans", sans-serif' fill="#1d4f9f">C</text>
<text transform="translate(74.41,621.23) scale(0.884,0.435)" font-size="10" font-weight="bold" font-family='"Liberation Sans", sans-serif' fill="#2fa22f">A</text>
<text transform="translate(74.41,624.22) scale(0.820,0.435)" font-size="10" font-weight="bold" font-family='"Liberation Sans", sans-serif' fill="#f2a626">G</text>
<text transform="translate(81.09,614.70) scale(0.884,0.593)" font-size="10" font-weight="bold" font-family='"Liberation Sans", sans-serif' fill="#1d4f9f">C</text>
<text transform="translate(81.09,617.96) scale(0.884,0.474)" font-size="10" font-weight="bold" font-family='"Liberation Sans", sans-serif' fill="#2fa22f">A</text>
<text transform="translate(81.09,621.23) scale(0.884,0.474)" font-size="10" font-weight="bold" font-family='"Liberation Sans", sans-serif' fill="#1d4f9f">C</text>
<text transform="translate(81.09,624.22) scale(1.044,0.435)" font-size="10" font-weight="bold" font-family='"Liberation Sans", sans-serif' fill="#d8262a">T</text>
<text transform="translate(87.77,614.70) scale(0.884,0.593)" font-size="10" font-weight="bold" font-family='"Liberation Sans", sans-serif' fill="#1d4f9f">C</text>
<text transform="translate(87.77,618.24) scale(0.884,0.514)" font-size="10" font-weight="bold" font-family='"Liberation Sans", sans-serif' fill="#2fa22f">A</text>
<text transform="translate(87.77,621.50) scale(1.044,0.474)" font-size="10" font-weight="bold" font-family='"Liberation Sans", sans-serif' fill="#d8262a">T</text>
<text transform="translate(87.77,624.22) scale(0.820,0.395)" font-size="10" font-weight="bold" font-family='"Liberation Sans", sans-serif' fill="#f2a626">G</text>
<text x="113.70" y="640.26" font-size="7.5" font-family='"Liberation Sans", sans-serif' font-weight="normal" fill="#2a2a2a" text-anchor="middle" stroke="none">RUNX1</text>
<text x="150.60" y="640.26" font-size="7.5" font-family='"Liberation Sans", sans-serif' font-weight="normal" fill="#2a2a2a" text-anchor="middle" stroke="none">29.73</text>
<text x="197.70" y="640.26" font-size="7.5" font-family='"Liberation Sans", sans-serif' font-weight="normal" fill="#2a2a2a" text-anchor="middle" stroke="none">7.38</text>
<text transform="translate(27.65,640.01) scale(0.884,1.344)" font-size="10" font-weight="bold" font-family='"Liberation Sans", sans-serif' fill="#2fa22f">A</text>
<text transform="translate(27.65,641.91) scale(1.044,0.277)" font-size="10" font-weight="bold" font-family='"Liberation Sans", sans-serif' fill="#d8262a">T</text>
<text transform="translate(27.65,644.36) scale(0.884,0.356)" font-size="10" font-weight="bold" font-family='"Liberation Sans", sans-serif' fill="#1d4f9f">C</text>
<text transform="translate(34.33,644.36) scale(0.884,1.977)" font-size="10" font-weight="bold" font-family='"Liberation Sans", sans-serif' fill="#2fa22f">A</text>
<text transform="translate(41.01,644.36) scale(0.884,1.977)" font-size="10" font-weight="bold" font-family='"Liberation Sans", sans-serif' fill="#2fa22f">A</text>
<text transform="translate(47.69,644.36) scale(0.884,1.977)" font-size="10" font-weight="bold" font-family='"Liberation Sans", sans-serif' fill="#1d4f9f">C</text>
<text transform="translate(54.37,644.36) scale(0.884,1.977)" font-size="10" font-weight="bold" font-family='"Liberation Sans", sans-serif' fill="#1d4f9f">C</text>
<text transform="translate(61.05,644.36) scale(0.884,1.977)" font-size="10" font-weight="bold" font-family='"Liberation Sans", sans-serif' fill="#2fa22f">A</text>
<text transform="translate(67.73,644.36) scale(0.884,1.977)" font-size="10" font-weight="bold" font-family='"Liberation Sans", sans-serif' fill="#1d4f9f">C</text>
<text transform="translate(74.41,644.36) scale(0.884,1.977)" font-size="10" font-weight="bold" font-family='"Liberation Sans", sans-serif' fill="#2fa22f">A</text>
<text transform="translate(81.09,636.20) scale(0.884,0.791)" font-size="10" font-weight="bold" font-family='"Liberation Sans", sans-serif' fill="#2fa22f">A</text>
<text transform="translate(81.09,640.01) scale(0.820,0.553)" font-size="10" font-weight="bold" font-family='"Liberation Sans", sans-serif' fill="#f2a626">G</text>
<text transform="translate(81.09,644.36) scale(0.884,0.633)" font-size="10" font-weight="bold" font-family='"Liberation Sans", sans-serif' fill="#1d4f9f">C</text>
<text transform="translate(87.77,636.20) scale(0.884,0.791)" font-size="10" font-weight="bold" font-family='"Liberation Sans", sans-serif' fill="#2fa22f">A</text>
<text transform="translate(87.77,640.28) scale(0.884,0.593)" font-size="10" font-weight="bold" font-family='"Liberation Sans", sans-serif' fill="#1d4f9f">C</text>
<text transform="translate(87.77,644.36) scale(0.820,0.593)" font-size="10" font-weight="bold" font-family='"Liberation Sans", sans-serif' fill="#f2a626">G</text>
<text x="113.70" y="660.40" font-size="7.5" font-family='"Liberation Sans", sans-serif' font-weight="normal" fill="#2a2a2a" text-anchor="middle" stroke="none">JUND</text>
<text x="150.60" y="660.40" font-size="7.5" font-family='"Liberation Sans", sans-serif' font-weight="normal" fill="#2a2a2a" text-anchor="middle" stroke="none">18.64</text>
<text x="197.70" y="660.40" font-size="7.5" font-family='"Liberation Sans", sans-serif' font-weight="normal" fill="#2a2a2a" text-anchor="middle" stroke="none">5.96</text>
<text transform="translate(14.29,660.42) scale(0.884,1.384)" font-size="10" font-weight="bold" font-family='"Liberation Sans", sans-serif' fill="#2fa22f">A</text>
<text transform="translate(14.29,662.46) scale(0.820,0.297)" font-size="10" font-weight="bold" font-family='"Liberation Sans", sans-serif' fill="#f2a626">G</text>
<text transform="translate(14.29,664.50) scale(0.884,0.297)" font-size="10" font-weight="bold" font-family='"Liberation Sans", sans-serif' fill="#1d4f9f">C</text>
<text transform="translate(20.97,664.50) scale(1.044,1.977)" font-size="10" font-weight="bold" font-family='"Liberation Sans", sans-serif' fill="#d8262a">T</text>
<text transform="translate(27.65,664.50) scale(0.820,1.977)" font-size="10" font-weight="bold" font-family='"Liberation Sans", sans-serif' fill="#f2a626">G</text>
<text transform="translate(34.33,664.50) scale(0.884,1.977)" font-size="10" font-weight="bold" font-family='"Liberation Sans", sans-serif' fill="#2fa22f">A</text>
<text transform="translate(41.01,658.79) scale(0.884,1.147)" font-size="10" font-weight="bold" font-family='"Liberation Sans", sans-serif' fill="#1d4f9f">C</text>
<text transform="translate(41.01,661.78) scale(1.044,0.435)" font-size="10" font-weight="bold" font-family='"Liberation Sans", sans-serif' fill="#d8262a">T</text>
<text transform="translate(41.01,664.50) scale(0.884,0.395)" font-size="10" font-weight="bold" font-family='"Liberation Sans", sans-serif' fill="#2fa22f">A</text>
<text transform="translate(47.69,659.33) scale(0.820,1.226)" font-size="10" font-weight="bold" font-family='"Liberation Sans", sans-serif' fill="#f2a626">G</text>
<text transform="translate(47.69,662.32) scale(0.884,0.435)" font-size="10" font-weight="bold" font-family='"Liberation Sans", sans-serif' fill="#2fa22f">A</text>
<text transform="translate(47.69,664.50) scale(1.044,0.316)" font-size="10" font-weight="bold" font-family='"Liberation Sans", sans-serif' fill="#d8262a">T</text>
<text transform="translate(54.37,664.50) scale(1.044,1.977)" font-size="10" font-weight="bold" font-family='"Liberation Sans", sans-serif' fill="#d8262a">T</text>
<text transform="translate(61.05,664.50) scale(0.884,1.977)" font-size="10" font-weight="bold" font-family='"Liberation Sans", sans-serif' fill="#1d4f9f">C</text>
<text transform="translate(67.73,664.50) scale(0.884,1.977)" font-size="10" font-weight="bold" font-family='"Liberation Sans", sans-serif' fill="#2fa22f">A</text>
<text transform="translate(74.41,656.34) scale(1.044,0.791)" font-size="10" font-weight="bold" font-family='"Liberation Sans", sans-serif' fill="#d8262a">T</text>
<text transform="translate(74.41,660.69) scale(0.884,0.633)" font-size="10" font-weight="bold" font-family='"Liberation Sans", sans-serif' fill="#1d4f9f">C</text>
<text transform="translate(74.41,664.50) scale(0.884,0.553)" font-size="10" font-weight="bold" font-family='"Liberation Sans", sans-serif' fill="#2fa22f">A</text>
<text transform="translate(81.09,657.02) scale(0.884,0.890)" font-size="10" font-weight="bold" font-family='"Liberation Sans", sans-serif' fill="#1d4f9f">C</text>
<text transform="translate(81.09,661.10) scale(1.044,0.593)" font-size="10" font-weight="bold" font-family='"Liberation Sans", sans-serif' fill="#d8262a">T</text>
<text transform="translate(81.09,664.50) scale(0.884,0.494)" font-size="10" font-weight="bold" font-family='"Liberation Sans", sans-serif' fill="#2fa22f">A</text>
<text transform="translate(87.77,655.66) scale(0.884,0.692)" font-size="10" font-weight="bold" font-family='"Liberation Sans", sans-serif' fill="#2fa22f">A</text>
<text transform="translate(87.77,659.06) scale(0.820,0.494)" font-size="10" font-weight="bold" font-family='"Liberation Sans", sans-serif' fill="#f2a626">G</text>
<text transform="translate(87.77,662.05) scale(0.884,0.435)" font-size="10" font-weight="bold" font-family='"Liberation Sans", sans-serif' fill="#1d4f9f">C</text>
<text transform="translate(87.77,664.50) scale(1.044,0.356)" font-size="10" font-weight="bold" font-family='"Liberation Sans", sans-serif' fill="#d8262a">T</text>
<text x="113.70" y="680.54" font-size="7.5" font-family='"Liberation Sans", sans-serif' font-weight="normal" fill="#2a2a2a" text-anchor="middle" stroke="none">TWIST2</text>
<text x="150.60" y="680.54" font-size="7.5" font-family='"Liberation Sans", sans-serif' font-weight="normal" fill="#2a2a2a" text-anchor="middle" stroke="none">15.44</text>
<text x="197.70" y="680.54" font-size="7.5" font-family='"Liberation Sans", sans-serif' font-weight="normal" fill="#2a2a2a" text-anchor="middle" stroke="none">7.18</text>
<text transform="translate(27.65,674.85) scale(0.884,0.553)" font-size="10" font-weight="bold" font-family='"Liberation Sans", sans-serif' fill="#1d4f9f">C</text>
<text transform="translate(27.65,679.74) scale(0.884,0.712)" font-size="10" font-weight="bold" font-family='"Liberation Sans", sans-serif' fill="#2fa22f">A</text>
<text transform="translate(27.65,684.64) scale(0.820,0.712)" font-size="10" font-weight="bold" font-family='"Liberation Sans", sans-serif' fill="#f2a626">G</text>
<text transform="translate(34.33,684.64) scale(0.884,1.977)" font-size="10" font-weight="bold" font-family='"Liberation Sans", sans-serif' fill="#1d4f9f">C</text>
<text transform="translate(41.01,684.64) scale(0.884,1.977)" font-size="10" font-weight="bold" font-family='"Liberation Sans", sans-serif' fill="#2fa22f">A</text>
<text transform="translate(47.69,678.11) scale(0.820,1.028)" font-size="10" font-weight="bold" font-family='"Liberation Sans", sans-serif' fill="#f2a626">G</text>
<text transform="translate(47.69,681.38) scale(1.044,0.474)" font-size="10" font-weight="bold" font-family='"Liberation Sans", sans-serif' fill="#d8262a">T</text>
<text transform="translate(47.69,684.64) scale(0.884,0.474)" font-size="10" font-weight="bold" font-family='"Liberation Sans", sans-serif' fill="#2fa22f">A</text>
<text transform="translate(54.37,678.52) scale(0.884,1.087)" font-size="10" font-weight="bold" font-family='"Liberation Sans", sans-serif' fill="#1d4f9f">C</text>
<text transform="translate(54.37,681.65) scale(1.044,0.455)" font-size="10" font-weight="bold" font-family='"Liberation Sans", sans-serif' fill="#d8262a">T</text>
<text transform="translate(54.37,684.64) scale(0.884,0.435)" font-size="10" font-weight="bold" font-family='"Liberation Sans", sans-serif' fill="#2fa22f">A</text>
<text transform="translate(61.05,684.64) scale(1.044,1.977)" font-size="10" font-weight="bold" font-family='"Liberation Sans", sans-serif' fill="#d8262a">T</text>
<text transform="translate(67.73,684.64) scale(0.820,1.977)" font-size="10" font-weight="bold" font-family='"Liberation Sans", sans-serif' fill="#f2a626">G</text>
<text transform="translate(74.41,676.75) scale(1.044,0.830)" font-size="10" font-weight="bold" font-family='"Liberation Sans", sans-serif' fill="#d8262a">T</text>
<text transform="translate(74.41,680.83) scale(0.820,0.593)" font-size="10" font-weight="bold" font-family='"Liberation Sans", sans-serif' fill="#f2a626">G</text>
<text transform="translate(74.41,684.64) scale(0.884,0.553)" font-size="10" font-weight="bold" font-family='"Liberation Sans", sans-serif' fill="#1d4f9f">C</text>
<text transform="translate(81.09,676.48) scale(1.044,0.791)" font-size="10" font-weight="bold" font-family='"Liberation Sans", sans-serif' fill="#d8262a">T</text>
<text transform="translate(81.09,680.83) scale(0.884,0.633)" font-size="10" font-weight="bold" font-family='"Liberation Sans", sans-serif' fill="#1d4f9f">C</text>
<text transform="translate(81.09,684.64) scale(0.884,0.553)" font-size="10" font-weight="bold" font-family='"Liberation Sans", sans-serif' fill="#2fa22f">A</text>
<text transform="translate(87.77,676.48) scale(0.884,0.791)" font-size="10" font-weight="bold" font-family='"Liberation Sans", sans-serif' fill="#1d4f9f">C</text>
<text transform="translate(87.77,680.56) scale(1.044,0.593)" font-size="10" font-weight="bold" font-family='"Liberation Sans", sans-serif' fill="#d8262a">T</text>
<text transform="translate(87.77,684.64) scale(0.884,0.593)" font-size="10" font-weight="bold" font-family='"Liberation Sans", sans-serif' fill="#2fa22f">A</text>
<text x="113.70" y="700.68" font-size="7.5" font-family='"Liberation Sans", sans-serif' font-weight="normal" fill="#2a2a2a" text-anchor="middle" stroke="none">NEUROG2</text>
<text x="150.60" y="700.68" font-size="7.5" font-family='"Liberation Sans", sans-serif' font-weight="normal" fill="#2a2a2a" text-anchor="middle" stroke="none">13.44</text>
<text x="197.70" y="700.68" font-size="7.5" font-family='"Liberation Sans", sans-serif' font-weight="normal" fill="#2a2a2a" text-anchor="middle" stroke="none">4.62</text>
<text transform="translate(27.65,696.08) scale(0.884,0.712)" font-size="10" font-weight="bold" font-family='"Liberation Sans", sans-serif' fill="#2fa22f">A</text>
<text transform="translate(27.65,700.16) scale(0.884,0.593)" font-size="10" font-weight="bold" font-family='"Liberation Sans", sans-serif' fill="#1d4f9f">C</text>
<text transform="translate(27.65,704.78) scale(0.820,0.672)" font-size="10" font-weight="bold" font-family='"Liberation Sans", sans-serif' fill="#f2a626">G</text>
<text transform="translate(34.33,702.60) scale(0.884,1.660)" font-size="10" font-weight="bold" font-family='"Liberation Sans", sans-serif' fill="#1d4f9f">C</text>
<text transform="translate(34.33,703.69) scale(0.884,0.158)" font-size="10" font-weight="bold" font-family='"Liberation Sans", sans-serif' fill="#2fa22f">A</text>
<text transform="translate(34.33,704.78) scale(0.820,0.158)" font-size="10" font-weight="bold" font-family='"Liberation Sans", sans-serif' fill="#f2a626">G</text>
<text transform="translate(41.01,704.78) scale(0.884,1.977)" font-size="10" font-weight="bold" font-family='"Liberation Sans", sans-serif' fill="#1d4f9f">C</text>
<text transform="translate(47.69,704.78) scale(0.884,1.977)" font-size="10" font-weight="bold" font-family='"Liberation Sans", sans-serif' fill="#2fa22f">A</text>
<text transform="translate(54.37,704.78) scale(1.044,1.977)" font-size="10" font-weight="bold" font-family='"Liberation Sans", sans-serif' fill="#d8262a">T</text>
<text transform="translate(61.05,704.78) scale(0.884,1.977)" font-size="10" font-weight="bold" font-family='"Liberation Sans", sans-serif' fill="#1d4f9f">C</text>
<text transform="translate(67.73,704.78) scale(1.044,1.977)" font-size="10" font-weight="bold" font-family='"Liberation Sans", sans-serif' fill="#d8262a">T</text>
<text transform="translate(74.41,704.78) scale(0.820,1.977)" font-size="10" font-weight="bold" font-family='"Liberation Sans", sans-serif' fill="#f2a626">G</text>
<text transform="translate(81.09,698.66) scale(1.044,1.087)" font-size="10" font-weight="bold" font-family='"Liberation Sans", sans-serif' fill="#d8262a">T</text>
<text transform="translate(81.09,704.78) scale(0.884,0.890)" font-size="10" font-weight="bold" font-family='"Liberation Sans", sans-serif' fill="#1d4f9f">C</text>
<text transform="translate(87.77,698.66) scale(1.044,1.087)" font-size="10" font-weight="bold" font-family='"Liberation Sans", sans-serif' fill="#d8262a">T</text>
<text transform="translate(87.77,704.78) scale(0.884,0.890)" font-size="10" font-weight="bold" font-family='"Liberation Sans", sans-serif' fill="#1d4f9f">C</text>
<text x="302.60" y="11.50" font-size="14.5" font-family='"Liberation Sans", sans-serif' font-weight="normal" fill="#111" text-anchor="start" >D</text>
<text x="303.40" y="282.30" font-size="14.5" font-family='"Liberation Sans", sans-serif' font-weight="normal" fill="#111" text-anchor="start" >E</text>
<text x="323.30" y="15.00" font-size="9.55" font-family='"Liberation Sans", sans-serif' font-weight="bold" fill="#1a1a1a" text-anchor="start" >human lung fibrosis</text>
<text x="428.60" y="15.00" font-size="9.35" font-family='"Liberation Sans", sans-serif' font-weight="bold" fill="#1a1a1a" text-anchor="start" >mouse lung fibrosis</text>
<text x="324.80" y="279.70" font-size="9.5" font-family='"Liberation Sans", sans-serif' font-weight="bold" fill="#1a1a1a" text-anchor="start" >human skin fibrosis</text>
<text x="423.00" y="279.70" font-size="9.07" font-family='"Liberation Sans", sans-serif' font-weight="bold" fill="#1a1a1a" text-anchor="start" >mouse wound healing</text>
<line x1="415.80" y1="20.50" x2="415.80" y2="252.80" stroke="#c4c4c4" stroke-width="1.5" />
<line x1="415.80" y1="286.00" x2="415.80" y2="516.00" stroke="#c4c4c4" stroke-width="1.5" />
<rect x="326.00" y="21.70" width="72.80" height="66.60" fill="#ffffff" />
<line x1="326.00" y1="69.88" x2="398.80" y2="69.88" stroke="#f2f2f2" stroke-width="0.5" />
<line x1="326.00" y1="55.05" x2="398.80" y2="55.05" stroke="#f2f2f2" stroke-width="0.5" />
<line x1="326.00" y1="40.23" x2="398.80" y2="40.23" stroke="#f2f2f2" stroke-width="0.5" />
<line x1="326.00" y1="25.39" x2="398.80" y2="25.39" stroke="#f2f2f2" stroke-width="0.5" />
<line x1="326.00" y1="84.71" x2="398.80" y2="84.71" stroke="#f2f2f2" stroke-width="0.5" />
<line x1="326.00" y1="84.72" x2="398.80" y2="84.72" stroke="#f2f2f2" stroke-width="0.5" />
<line x1="326.00" y1="77.30" x2="398.80" y2="77.30" stroke="#e6e6e6" stroke-width="0.8" />
<line x1="326.00" y1="62.47" x2="398.80" y2="62.47" stroke="#e6e6e6" stroke-width="0.8" />
<line x1="326.00" y1="47.64" x2="398.80" y2="47.64" stroke="#e6e6e6" stroke-width="0.8" />
<line x1="326.00" y1="32.81" x2="398.80" y2="32.81" stroke="#e6e6e6" stroke-width="0.8" />
<line x1="345.80" y1="21.70" x2="345.80" y2="88.30" stroke="#e6e6e6" stroke-width="0.8" />
<line x1="379.00" y1="21.70" x2="379.00" y2="88.30" stroke="#e6e6e6" stroke-width="0.8" />
<path d="M345.80,24.30 C345.85,24.58 345.98,25.30 346.10,26.00 C346.22,26.70 346.32,27.13 346.50,28.50 C346.68,29.87 346.80,32.30 347.20,34.20 C347.60,36.10 348.15,38.00 348.90,39.90 C349.65,41.80 350.77,43.93 351.70,45.60 C352.63,47.27 353.75,48.48 354.50,49.90 C355.25,51.32 355.78,52.45 356.20,54.10 C356.62,55.75 356.65,57.90 357.00,59.80 C357.35,61.70 357.92,63.60 358.30,65.50 C358.68,67.40 359.15,69.30 359.30,71.20 C359.45,73.10 359.58,75.23 359.20,76.90 C358.82,78.57 357.95,80.02 357.00,81.20 C356.05,82.38 354.70,83.30 353.50,84.00 C352.30,84.70 351.08,85.10 349.80,85.40 C348.52,85.70 347.13,85.80 345.80,85.80 C344.47,85.80 343.08,85.70 341.80,85.40 C340.52,85.10 339.30,84.70 338.10,84.00 C336.90,83.30 335.55,82.38 334.60,81.20 C333.65,80.02 332.78,78.57 332.40,76.90 C332.02,75.23 332.15,73.10 332.30,71.20 C332.45,69.30 332.92,67.40 333.30,65.50 C333.68,63.60 334.25,61.70 334.60,59.80 C334.95,57.90 334.98,55.75 335.40,54.10 C335.82,52.45 336.35,51.32 337.10,49.90 C337.85,48.48 338.97,47.27 339.90,45.60 C340.83,43.93 341.95,41.80 342.70,39.90 C343.45,38.00 344.00,36.10 344.40,34.20 C344.80,32.30 344.92,29.87 345.10,28.50 C345.28,27.13 345.38,26.70 345.50,26.00 C345.62,25.30 345.75,24.58 345.80,24.30 Z" fill="#efc87e" stroke="#1e1e1e" stroke-width="1.2" stroke-linejoin="round"/>
<line x1="345.80" y1="24.30" x2="345.80" y2="85.80" stroke="#1a1a1a" stroke-width="1.0"/>
<rect x="344.60" y="52.00" width="2.4" height="22.00" fill="#9a9a9a" stroke="#222" stroke-width="0.55"/>
<circle cx="345.80" cy="63.40" r="0.9" fill="#d8d8d8" stroke="#333" stroke-width="0.4"/>
<path d="M379.00,40.00 C379.03,40.83 379.15,42.50 379.20,45.00 C379.25,47.50 379.27,52.17 379.30,55.00 C379.33,57.83 379.37,59.83 379.40,62.00 C379.43,64.17 379.50,65.83 379.50,68.00 C379.50,70.17 379.43,72.67 379.40,75.00 C379.37,77.33 379.37,80.12 379.30,82.00 C379.23,83.88 379.10,86.30 379.00,86.30 C378.90,86.30 378.77,83.88 378.70,82.00 C378.63,80.12 378.63,77.33 378.60,75.00 C378.57,72.67 378.50,70.17 378.50,68.00 C378.50,65.83 378.57,64.17 378.60,62.00 C378.63,59.83 378.67,57.83 378.70,55.00 C378.73,52.17 378.75,47.50 378.80,45.00 C378.85,42.50 378.97,40.83 379.00,40.00 Z" fill="#efc87e" stroke="#1e1e1e" stroke-width="1.2" stroke-linejoin="round"/>
<line x1="379.00" y1="40.00" x2="379.00" y2="86.30" stroke="#1a1a1a" stroke-width="1.0"/>
<rect x="377.80" y="60.30" width="2.4" height="12.70" fill="#9a9a9a" stroke="#222" stroke-width="0.55"/>
<circle cx="379.00" cy="66.60" r="0.9" fill="#d8d8d8" stroke="#333" stroke-width="0.4"/>
<rect x="326.00" y="21.70" width="72.80" height="66.60" fill="none" stroke="#333" stroke-width="1.1"/>
<rect x="398.80" y="21.70" width="10.50" height="66.60" fill="#d9d9d9" stroke="#333" stroke-width="1.1"/>
<text transform="translate(401.55,55.00) rotate(90)" font-size="6.95" font-family='"Liberation Sans", sans-serif' fill="#1a1a1a" stroke="#1a1a1a" stroke-width="0.15" text-anchor="middle">GSE128033</text>
<line x1="324.00" y1="77.30" x2="326.00" y2="77.30" stroke="#333" stroke-width="0.9" />
<text x="322.60" y="79.40" font-size="5.9" font-family='"Liberation Sans", sans-serif' font-weight="normal" fill="#333" text-anchor="end"  stroke="#333" stroke-width="0.06">1</text>
<line x1="324.00" y1="62.47" x2="326.00" y2="62.47" stroke="#333" stroke-width="0.9" />
<text x="322.60" y="64.57" font-size="5.9" font-family='"Liberation Sans", sans-serif' font-weight="normal" fill="#333" text-anchor="end"  stroke="#333" stroke-width="0.06">2</text>
<line x1="324.00" y1="47.64" x2="326.00" y2="47.64" stroke="#333" stroke-width="0.9" />
<text x="322.60" y="49.74" font-size="5.9" font-family='"Liberation Sans", sans-serif' font-weight="normal" fill="#333" text-anchor="end"  stroke="#333" stroke-width="0.06">3</text>
<line x1="324.00" y1="32.81" x2="326.00" y2="32.81" stroke="#333" stroke-width="0.9" />
<text x="322.60" y="34.91" font-size="5.9" font-family='"Liberation Sans", sans-serif' font-weight="normal" fill="#333" text-anchor="end"  stroke="#333" stroke-width="0.06">4</text>
<line x1="345.80" y1="88.30" x2="345.80" y2="90.30" stroke="#333" stroke-width="0.9" />
<text x="345.80" y="98.00" font-size="6.9" font-family='"Liberation Sans", sans-serif' font-weight="normal" fill="#1a1a1a" text-anchor="middle"  stroke="#1a1a1a" stroke-width="0.15">IPF</text>
<line x1="379.00" y1="88.30" x2="379.00" y2="90.30" stroke="#333" stroke-width="0.9" />
<text x="379.00" y="98.00" font-size="6.9" font-family='"Liberation Sans", sans-serif' font-weight="normal" fill="#1a1a1a" text-anchor="middle"  stroke="#1a1a1a" stroke-width="0.15">normal</text>
<text transform="translate(317.10,55.00) rotate(-90)" font-size="6.75" font-family='"Liberation Sans", sans-serif' fill="#1a1a1a" stroke="#1a1a1a" stroke-width="0.15" text-anchor="middle">CTHRC1 expression</text>
<rect x="435.00" y="22.30" width="72.00" height="66.70" fill="#ffffff" />
<line x1="435.00" y1="68.66" x2="507.00" y2="68.66" stroke="#f2f2f2" stroke-width="0.5" />
<line x1="435.00" y1="50.79" x2="507.00" y2="50.79" stroke="#f2f2f2" stroke-width="0.5" />
<line x1="435.00" y1="32.92" x2="507.00" y2="32.92" stroke="#f2f2f2" stroke-width="0.5" />
<line x1="435.00" y1="86.53" x2="507.00" y2="86.53" stroke="#f2f2f2" stroke-width="0.5" />
<line x1="435.00" y1="86.53" x2="507.00" y2="86.53" stroke="#f2f2f2" stroke-width="0.5" />
<line x1="435.00" y1="77.60" x2="507.00" y2="77.60" stroke="#e6e6e6" stroke-width="0.8" />
<line x1="435.00" y1="59.73" x2="507.00" y2="59.73" stroke="#e6e6e6" stroke-width="0.8" />
<line x1="435.00" y1="41.86" x2="507.00" y2="41.86" stroke="#e6e6e6" stroke-width="0.8" />
<line x1="435.00" y1="23.99" x2="507.00" y2="23.99" stroke="#e6e6e6" stroke-width="0.8" />
<line x1="454.40" y1="22.30" x2="454.40" y2="89.00" stroke="#e6e6e6" stroke-width="0.8" />
<line x1="487.50" y1="22.30" x2="487.50" y2="89.00" stroke="#e6e6e6" stroke-width="0.8" />
<path d="M454.40,24.20 C454.48,24.27 454.72,24.35 454.90,24.60 C455.08,24.85 455.32,24.57 455.50,25.70 C455.68,26.83 455.80,29.50 456.00,31.40 C456.20,33.30 456.48,35.20 456.70,37.10 C456.92,39.00 457.08,40.92 457.30,42.80 C457.52,44.68 457.80,46.52 458.00,48.40 C458.20,50.28 458.50,52.43 458.50,54.10 C458.50,55.77 458.13,56.97 458.00,58.40 C457.87,59.83 457.58,61.28 457.70,62.70 C457.82,64.12 458.33,65.48 458.70,66.90 C459.07,68.32 459.48,69.53 459.90,71.20 C460.32,72.87 460.92,75.23 461.20,76.90 C461.48,78.57 461.68,79.90 461.60,81.20 C461.52,82.50 461.10,83.88 460.70,84.70 C460.30,85.52 460.25,85.80 459.20,86.10 C458.15,86.40 456.00,86.50 454.40,86.50 C452.80,86.50 450.65,86.40 449.60,86.10 C448.55,85.80 448.50,85.52 448.10,84.70 C447.70,83.88 447.28,82.50 447.20,81.20 C447.12,79.90 447.32,78.57 447.60,76.90 C447.88,75.23 448.48,72.87 448.90,71.20 C449.32,69.53 449.73,68.32 450.10,66.90 C450.47,65.48 450.98,64.12 451.10,62.70 C451.22,61.28 450.93,59.83 450.80,58.40 C450.67,56.97 450.30,55.77 450.30,54.10 C450.30,52.43 450.60,50.28 450.80,48.40 C451.00,46.52 451.28,44.68 451.50,42.80 C451.72,40.92 451.88,39.00 452.10,37.10 C452.32,35.20 452.60,33.30 452.80,31.40 C453.00,29.50 453.12,26.83 453.30,25.70 C453.48,24.57 453.72,24.85 453.90,24.60 C454.08,24.35 454.32,24.27 454.40,24.20 Z" fill="#efc87e" stroke="#1e1e1e" stroke-width="1.2" stroke-linejoin="round"/>
<line x1="454.40" y1="24.20" x2="454.40" y2="86.50" stroke="#1a1a1a" stroke-width="1.0"/>
<rect x="453.20" y="53.40" width="2.4" height="27.80" fill="#9a9a9a" stroke="#222" stroke-width="0.55"/>
<circle cx="454.40" cy="68.40" r="0.9" fill="#d8d8d8" stroke="#333" stroke-width="0.4"/>
<path d="M487.50,58.10 C487.57,58.42 487.78,59.23 487.90,60.00 C488.02,60.77 488.03,61.30 488.20,62.70 C488.37,64.10 488.72,66.52 488.90,68.40 C489.08,70.28 489.23,72.12 489.30,74.00 C489.37,75.88 489.37,78.03 489.30,79.70 C489.23,81.37 489.20,83.17 488.90,84.00 C488.60,84.83 487.97,84.70 487.50,84.70 C487.03,84.70 486.40,84.83 486.10,84.00 C485.80,83.17 485.77,81.37 485.70,79.70 C485.63,78.03 485.63,75.88 485.70,74.00 C485.77,72.12 485.92,70.28 486.10,68.40 C486.28,66.52 486.63,64.10 486.80,62.70 C486.97,61.30 486.98,60.77 487.10,60.00 C487.22,59.23 487.43,58.42 487.50,58.10 Z" fill="#6a6a6a" stroke="#1e1e1e" stroke-width="1.2" stroke-linejoin="round"/>
<line x1="487.50" y1="58.10" x2="487.50" y2="84.70" stroke="#1a1a1a" stroke-width="1.0"/>
<rect x="486.30" y="67.00" width="2.4" height="15.60" fill="#9a9a9a" stroke="#222" stroke-width="0.55"/>
<circle cx="487.50" cy="74.80" r="0.9" fill="#d8d8d8" stroke="#333" stroke-width="0.4"/>
<rect x="435.00" y="22.30" width="72.00" height="66.70" fill="none" stroke="#333" stroke-width="1.1"/>
<rect x="507.00" y="22.30" width="10.90" height="66.70" fill="#d9d9d9" stroke="#333" stroke-width="1.1"/>
<text transform="translate(509.95,55.65) rotate(90)" font-size="6.95" font-family='"Liberation Sans", sans-serif' fill="#1a1a1a" stroke="#1a1a1a" stroke-width="0.15" text-anchor="middle">GSE129605</text>
<line x1="433.00" y1="77.60" x2="435.00" y2="77.60" stroke="#333" stroke-width="0.9" />
<text x="431.60" y="79.70" font-size="5.9" font-family='"Liberation Sans", sans-serif' font-weight="normal" fill="#333" text-anchor="end"  stroke="#333" stroke-width="0.06">1</text>
<line x1="433.00" y1="59.73" x2="435.00" y2="59.73" stroke="#333" stroke-width="0.9" />
<text x="431.60" y="61.83" font-size="5.9" font-family='"Liberation Sans", sans-serif' font-weight="normal" fill="#333" text-anchor="end"  stroke="#333" stroke-width="0.06">2</text>
<line x1="433.00" y1="41.86" x2="435.00" y2="41.86" stroke="#333" stroke-width="0.9" />
<text x="431.60" y="43.96" font-size="5.9" font-family='"Liberation Sans", sans-serif' font-weight="normal" fill="#333" text-anchor="end"  stroke="#333" stroke-width="0.06">3</text>
<line x1="433.00" y1="23.99" x2="435.00" y2="23.99" stroke="#333" stroke-width="0.9" />
<text x="431.60" y="26.09" font-size="5.9" font-family='"Liberation Sans", sans-serif' font-weight="normal" fill="#333" text-anchor="end"  stroke="#333" stroke-width="0.06">4</text>
<line x1="454.40" y1="89.00" x2="454.40" y2="91.00" stroke="#333" stroke-width="0.9" />
<text x="454.40" y="98.20" font-size="6.9" font-family='"Liberation Sans", sans-serif' font-weight="normal" fill="#1a1a1a" text-anchor="middle"  stroke="#1a1a1a" stroke-width="0.15">Bleomycin</text>
<line x1="487.50" y1="89.00" x2="487.50" y2="91.00" stroke="#333" stroke-width="0.9" />
<text x="487.50" y="98.20" font-size="6.9" font-family='"Liberation Sans", sans-serif' font-weight="normal" fill="#1a1a1a" text-anchor="middle"  stroke="#1a1a1a" stroke-width="0.15">untreated</text>
<text transform="translate(425.70,55.65) rotate(-90)" font-size="6.75" font-family='"Liberation Sans", sans-serif' fill="#1a1a1a" stroke="#1a1a1a" stroke-width="0.15" text-anchor="middle">Cthrc1 expression</text>
<rect x="326.00" y="103.70" width="72.80" height="66.60" fill="#ffffff" />
<line x1="326.00" y1="152.69" x2="398.80" y2="152.69" stroke="#f2f2f2" stroke-width="0.5" />
<line x1="326.00" y1="137.46" x2="398.80" y2="137.46" stroke="#f2f2f2" stroke-width="0.5" />
<line x1="326.00" y1="122.23" x2="398.80" y2="122.23" stroke="#f2f2f2" stroke-width="0.5" />
<line x1="326.00" y1="107.00" x2="398.80" y2="107.00" stroke="#f2f2f2" stroke-width="0.5" />
<line x1="326.00" y1="167.91" x2="398.80" y2="167.91" stroke="#f2f2f2" stroke-width="0.5" />
<line x1="326.00" y1="167.92" x2="398.80" y2="167.92" stroke="#f2f2f2" stroke-width="0.5" />
<line x1="326.00" y1="160.30" x2="398.80" y2="160.30" stroke="#e6e6e6" stroke-width="0.8" />
<line x1="326.00" y1="145.07" x2="398.80" y2="145.07" stroke="#e6e6e6" stroke-width="0.8" />
<line x1="326.00" y1="129.84" x2="398.80" y2="129.84" stroke="#e6e6e6" stroke-width="0.8" />
<line x1="326.00" y1="114.61" x2="398.80" y2="114.61" stroke="#e6e6e6" stroke-width="0.8" />
<line x1="345.80" y1="103.70" x2="345.80" y2="170.30" stroke="#e6e6e6" stroke-width="0.8" />
<line x1="379.00" y1="103.70" x2="379.00" y2="170.30" stroke="#e6e6e6" stroke-width="0.8" />
<path d="M345.80,105.40 C345.85,106.00 346.02,107.82 346.10,109.00 C346.18,110.18 346.12,110.97 346.30,112.50 C346.48,114.03 346.82,116.62 347.20,118.20 C347.58,119.78 348.12,120.57 348.60,122.00 C349.08,123.43 349.70,125.20 350.10,126.80 C350.50,128.40 350.73,130.02 351.00,131.60 C351.27,133.18 351.50,134.72 351.70,136.30 C351.90,137.88 352.00,139.50 352.20,141.10 C352.40,142.70 352.70,144.32 352.90,145.90 C353.10,147.48 353.28,149.18 353.40,150.60 C353.52,152.02 353.77,153.13 353.60,154.40 C353.43,155.67 353.07,156.93 352.40,158.20 C351.73,159.47 350.47,160.88 349.60,162.00 C348.73,163.12 347.83,164.13 347.20,164.90 C346.57,165.67 346.27,166.60 345.80,166.60 C345.33,166.60 345.03,165.67 344.40,164.90 C343.77,164.13 342.87,163.12 342.00,162.00 C341.13,160.88 339.87,159.47 339.20,158.20 C338.53,156.93 338.17,155.67 338.00,154.40 C337.83,153.13 338.08,152.02 338.20,150.60 C338.32,149.18 338.50,147.48 338.70,145.90 C338.90,144.32 339.20,142.70 339.40,141.10 C339.60,139.50 339.70,137.88 339.90,136.30 C340.10,134.72 340.33,133.18 340.60,131.60 C340.87,130.02 341.10,128.40 341.50,126.80 C341.90,125.20 342.52,123.43 343.00,122.00 C343.48,120.57 344.02,119.78 344.40,118.20 C344.78,116.62 345.12,114.03 345.30,112.50 C345.48,110.97 345.42,110.18 345.50,109.00 C345.58,107.82 345.75,106.00 345.80,105.40 Z" fill="#efc87e" stroke="#1e1e1e" stroke-width="1.2" stroke-linejoin="round"/>
<line x1="345.80" y1="105.40" x2="345.80" y2="166.60" stroke="#1a1a1a" stroke-width="1.0"/>
<rect x="344.60" y="133.50" width="2.4" height="20.00" fill="#9a9a9a" stroke="#222" stroke-width="0.55"/>
<circle cx="345.80" cy="144.40" r="0.9" fill="#d8d8d8" stroke="#333" stroke-width="0.4"/>
<path d="M379.00,128.30 C379.07,128.92 379.32,130.22 379.40,132.00 C379.48,133.78 379.35,136.88 379.50,139.00 C379.65,141.12 380.10,143.03 380.30,144.70 C380.50,146.37 380.58,147.58 380.70,149.00 C380.82,150.42 381.07,151.55 381.00,153.20 C380.93,154.85 380.55,157.00 380.30,158.90 C380.05,160.80 379.72,163.13 379.50,164.60 C379.28,166.07 379.17,167.70 379.00,167.70 C378.83,167.70 378.72,166.07 378.50,164.60 C378.28,163.13 377.95,160.80 377.70,158.90 C377.45,157.00 377.07,154.85 377.00,153.20 C376.93,151.55 377.18,150.42 377.30,149.00 C377.42,147.58 377.50,146.37 377.70,144.70 C377.90,143.03 378.35,141.12 378.50,139.00 C378.65,136.88 378.52,133.78 378.60,132.00 C378.68,130.22 378.93,128.92 379.00,128.30 Z" fill="#efc87e" stroke="#1e1e1e" stroke-width="1.2" stroke-linejoin="round"/>
<line x1="379.00" y1="128.30" x2="379.00" y2="167.70" stroke="#1a1a1a" stroke-width="1.0"/>
<rect x="377.80" y="149.00" width="2.4" height="9.90" fill="#9a9a9a" stroke="#222" stroke-width="0.55"/>
<circle cx="379.00" cy="153.90" r="0.9" fill="#d8d8d8" stroke="#333" stroke-width="0.4"/>
<rect x="326.00" y="103.70" width="72.80" height="66.60" fill="none" stroke="#333" stroke-width="1.1"/>
<rect x="398.80" y="103.70" width="10.50" height="66.60" fill="#d9d9d9" stroke="#333" stroke-width="1.1"/>
<text transform="translate(401.55,137.00) rotate(90)" font-size="6.95" font-family='"Liberation Sans", sans-serif' fill="#1a1a1a" stroke="#1a1a1a" stroke-width="0.15" text-anchor="middle">GSE132771_human</text>
<line x1="324.00" y1="160.30" x2="326.00" y2="160.30" stroke="#333" stroke-width="0.9" />
<text x="322.60" y="162.40" font-size="5.9" font-family='"Liberation Sans", sans-serif' font-weight="normal" fill="#333" text-anchor="end"  stroke="#333" stroke-width="0.06">1</text>
<line x1="324.00" y1="145.07" x2="326.00" y2="145.07" stroke="#333" stroke-width="0.9" />
<text x="322.60" y="147.17" font-size="5.9" font-family='"Liberation Sans", sans-serif' font-weight="normal" fill="#333" text-anchor="end"  stroke="#333" stroke-width="0.06">2</text>
<line x1="324.00" y1="129.84" x2="326.00" y2="129.84" stroke="#333" stroke-width="0.9" />
<text x="322.60" y="131.94" font-size="5.9" font-family='"Liberation Sans", sans-serif' font-weight="normal" fill="#333" text-anchor="end"  stroke="#333" stroke-width="0.06">3</text>
<line x1="324.00" y1="114.61" x2="326.00" y2="114.61" stroke="#333" stroke-width="0.9" />
<text x="322.60" y="116.71" font-size="5.9" font-family='"Liberation Sans", sans-serif' font-weight="normal" fill="#333" text-anchor="end"  stroke="#333" stroke-width="0.06">4</text>
<line x1="345.80" y1="170.30" x2="345.80" y2="172.30" stroke="#333" stroke-width="0.9" />
<text x="345.80" y="179.90" font-size="6.9" font-family='"Liberation Sans", sans-serif' font-weight="normal" fill="#1a1a1a" text-anchor="middle"  stroke="#1a1a1a" stroke-width="0.15">IPF</text>
<line x1="379.00" y1="170.30" x2="379.00" y2="172.30" stroke="#333" stroke-width="0.9" />
<text x="379.00" y="179.90" font-size="6.9" font-family='"Liberation Sans", sans-serif' font-weight="normal" fill="#1a1a1a" text-anchor="middle"  stroke="#1a1a1a" stroke-width="0.15">normal</text>
<text transform="translate(317.10,137.00) rotate(-90)" font-size="6.75" font-family='"Liberation Sans", sans-serif' fill="#1a1a1a" stroke="#1a1a1a" stroke-width="0.15" text-anchor="middle">CTHRC1 expression</text>
<rect x="435.00" y="103.70" width="72.00" height="67.30" fill="#ffffff" />
<line x1="435.00" y1="154.15" x2="507.00" y2="154.15" stroke="#f2f2f2" stroke-width="0.5" />
<line x1="435.00" y1="138.45" x2="507.00" y2="138.45" stroke="#f2f2f2" stroke-width="0.5" />
<line x1="435.00" y1="122.75" x2="507.00" y2="122.75" stroke="#f2f2f2" stroke-width="0.5" />
<line x1="435.00" y1="107.05" x2="507.00" y2="107.05" stroke="#f2f2f2" stroke-width="0.5" />
<line x1="435.00" y1="169.85" x2="507.00" y2="169.85" stroke="#f2f2f2" stroke-width="0.5" />
<line x1="435.00" y1="169.85" x2="507.00" y2="169.85" stroke="#f2f2f2" stroke-width="0.5" />
<line x1="435.00" y1="162.00" x2="507.00" y2="162.00" stroke="#e6e6e6" stroke-width="0.8" />
<line x1="435.00" y1="146.30" x2="507.00" y2="146.30" stroke="#e6e6e6" stroke-width="0.8" />
<line x1="435.00" y1="130.60" x2="507.00" y2="130.60" stroke="#e6e6e6" stroke-width="0.8" />
<line x1="435.00" y1="114.90" x2="507.00" y2="114.90" stroke="#e6e6e6" stroke-width="0.8" />
<line x1="454.40" y1="103.70" x2="454.40" y2="171.00" stroke="#e6e6e6" stroke-width="0.8" />
<line x1="487.50" y1="103.70" x2="487.50" y2="171.00" stroke="#e6e6e6" stroke-width="0.8" />
<path d="M454.40,106.00 C454.47,106.33 454.65,107.25 454.80,108.00 C454.95,108.75 455.10,109.13 455.30,110.50 C455.50,111.87 455.77,114.07 456.00,116.20 C456.23,118.33 456.45,120.93 456.70,123.30 C456.95,125.67 457.23,128.02 457.50,130.40 C457.77,132.78 457.98,135.22 458.30,137.60 C458.62,139.98 459.03,142.33 459.40,144.70 C459.77,147.07 460.12,149.43 460.50,151.80 C460.88,154.17 461.73,157.00 461.70,158.90 C461.67,160.80 461.13,161.90 460.30,163.20 C459.47,164.50 457.68,165.80 456.70,166.70 C455.72,167.60 455.17,168.60 454.40,168.60 C453.63,168.60 453.08,167.60 452.10,166.70 C451.12,165.80 449.33,164.50 448.50,163.20 C447.67,161.90 447.13,160.80 447.10,158.90 C447.07,157.00 447.92,154.17 448.30,151.80 C448.68,149.43 449.03,147.07 449.40,144.70 C449.77,142.33 450.18,139.98 450.50,137.60 C450.82,135.22 451.03,132.78 451.30,130.40 C451.57,128.02 451.85,125.67 452.10,123.30 C452.35,120.93 452.57,118.33 452.80,116.20 C453.03,114.07 453.30,111.87 453.50,110.50 C453.70,109.13 453.85,108.75 454.00,108.00 C454.15,107.25 454.33,106.33 454.40,106.00 Z" fill="#efc87e" stroke="#1e1e1e" stroke-width="1.2" stroke-linejoin="round"/>
<line x1="454.40" y1="106.00" x2="454.40" y2="168.60" stroke="#1a1a1a" stroke-width="1.0"/>
<rect x="453.20" y="136.90" width="2.4" height="22.00" fill="#9a9a9a" stroke="#222" stroke-width="0.55"/>
<circle cx="454.40" cy="149.70" r="0.9" fill="#d8d8d8" stroke="#333" stroke-width="0.4"/>
<path d="M487.50,131.20 C487.57,131.83 487.83,132.28 487.90,135.00 C487.97,137.72 487.78,144.70 487.90,147.50 C488.02,150.30 488.45,150.62 488.60,151.80 C488.75,152.98 488.85,153.42 488.80,154.60 C488.75,155.78 488.45,157.75 488.30,158.90 C488.15,160.05 488.03,160.90 487.90,161.50 C487.77,162.10 487.63,162.50 487.50,162.50 C487.37,162.50 487.23,162.10 487.10,161.50 C486.97,160.90 486.85,160.05 486.70,158.90 C486.55,157.75 486.25,155.78 486.20,154.60 C486.15,153.42 486.25,152.98 486.40,151.80 C486.55,150.62 486.98,150.30 487.10,147.50 C487.22,144.70 487.03,137.72 487.10,135.00 C487.17,132.28 487.43,131.83 487.50,131.20 Z" fill="#efc87e" stroke="#1e1e1e" stroke-width="1.2" stroke-linejoin="round"/>
<line x1="487.50" y1="131.20" x2="487.50" y2="162.50" stroke="#1a1a1a" stroke-width="1.0"/>
<rect x="486.30" y="149.00" width="2.4" height="9.20" fill="#9a9a9a" stroke="#222" stroke-width="0.55"/>
<circle cx="487.50" cy="154.60" r="0.9" fill="#d8d8d8" stroke="#333" stroke-width="0.4"/>
<rect x="435.00" y="103.70" width="72.00" height="67.30" fill="none" stroke="#333" stroke-width="1.1"/>
<rect x="507.00" y="103.70" width="10.90" height="67.30" fill="#d9d9d9" stroke="#333" stroke-width="1.1"/>
<text transform="translate(509.95,137.35) rotate(90)" font-size="6.95" font-family='"Liberation Sans", sans-serif' fill="#1a1a1a" stroke="#1a1a1a" stroke-width="0.15" text-anchor="middle">GSE132771_mouse</text>
<line x1="433.00" y1="162.00" x2="435.00" y2="162.00" stroke="#333" stroke-width="0.9" />
<text x="431.60" y="164.10" font-size="5.9" font-family='"Liberation Sans", sans-serif' font-weight="normal" fill="#333" text-anchor="end"  stroke="#333" stroke-width="0.06">1</text>
<line x1="433.00" y1="146.30" x2="435.00" y2="146.30" stroke="#333" stroke-width="0.9" />
<text x="431.60" y="148.40" font-size="5.9" font-family='"Liberation Sans", sans-serif' font-weight="normal" fill="#333" text-anchor="end"  stroke="#333" stroke-width="0.06">2</text>
<line x1="433.00" y1="130.60" x2="435.00" y2="130.60" stroke="#333" stroke-width="0.9" />
<text x="431.60" y="132.70" font-size="5.9" font-family='"Liberation Sans", sans-serif' font-weight="normal" fill="#333" text-anchor="end"  stroke="#333" stroke-width="0.06">3</text>
<line x1="433.00" y1="114.90" x2="435.00" y2="114.90" stroke="#333" stroke-width="0.9" />
<text x="431.60" y="117.00" font-size="5.9" font-family='"Liberation Sans", sans-serif' font-weight="normal" fill="#333" text-anchor="end"  stroke="#333" stroke-width="0.06">4</text>
<line x1="454.40" y1="171.00" x2="454.40" y2="173.00" stroke="#333" stroke-width="0.9" />
<text x="454.40" y="180.10" font-size="6.9" font-family='"Liberation Sans", sans-serif' font-weight="normal" fill="#1a1a1a" text-anchor="middle"  stroke="#1a1a1a" stroke-width="0.15">Bleomycin</text>
<line x1="487.50" y1="171.00" x2="487.50" y2="173.00" stroke="#333" stroke-width="0.9" />
<text x="487.50" y="180.10" font-size="6.9" font-family='"Liberation Sans", sans-serif' font-weight="normal" fill="#1a1a1a" text-anchor="middle"  stroke="#1a1a1a" stroke-width="0.15">untreated</text>
<text transform="translate(425.70,137.35) rotate(-90)" font-size="6.75" font-family='"Liberation Sans", sans-serif' fill="#1a1a1a" stroke="#1a1a1a" stroke-width="0.15" text-anchor="middle">Cthrc1 expression</text>
<rect x="326.00" y="185.40" width="72.80" height="67.50" fill="#ffffff" />
<line x1="326.00" y1="229.30" x2="398.80" y2="229.30" stroke="#f2f2f2" stroke-width="0.5" />
<line x1="326.00" y1="213.30" x2="398.80" y2="213.30" stroke="#f2f2f2" stroke-width="0.5" />
<line x1="326.00" y1="197.30" x2="398.80" y2="197.30" stroke="#f2f2f2" stroke-width="0.5" />
<line x1="326.00" y1="245.30" x2="398.80" y2="245.30" stroke="#f2f2f2" stroke-width="0.5" />
<line x1="326.00" y1="245.30" x2="398.80" y2="245.30" stroke="#f2f2f2" stroke-width="0.5" />
<line x1="326.00" y1="237.30" x2="398.80" y2="237.30" stroke="#e6e6e6" stroke-width="0.8" />
<line x1="326.00" y1="221.30" x2="398.80" y2="221.30" stroke="#e6e6e6" stroke-width="0.8" />
<line x1="326.00" y1="205.30" x2="398.80" y2="205.30" stroke="#e6e6e6" stroke-width="0.8" />
<line x1="326.00" y1="189.30" x2="398.80" y2="189.30" stroke="#e6e6e6" stroke-width="0.8" />
<line x1="345.80" y1="185.40" x2="345.80" y2="252.90" stroke="#e6e6e6" stroke-width="0.8" />
<line x1="379.00" y1="185.40" x2="379.00" y2="252.90" stroke="#e6e6e6" stroke-width="0.8" />
<path d="M345.80,188.30 C345.85,188.75 345.97,189.97 346.10,191.00 C346.23,192.03 346.23,193.12 346.60,194.50 C346.97,195.88 347.68,197.72 348.30,199.30 C348.92,200.88 349.63,202.42 350.30,204.00 C350.97,205.58 351.67,207.20 352.30,208.80 C352.93,210.40 353.62,212.17 354.10,213.60 C354.58,215.03 355.02,216.13 355.20,217.40 C355.38,218.67 355.15,219.93 355.20,221.20 C355.25,222.47 355.40,223.73 355.50,225.00 C355.60,226.27 355.85,227.53 355.80,228.80 C355.75,230.07 355.42,231.33 355.20,232.60 C354.98,233.87 354.85,235.13 354.50,236.40 C354.15,237.67 353.65,238.93 353.10,240.20 C352.55,241.47 352.00,242.72 351.20,244.00 C350.40,245.28 349.20,246.87 348.30,247.90 C347.40,248.93 346.63,250.20 345.80,250.20 C344.97,250.20 344.20,248.93 343.30,247.90 C342.40,246.87 341.20,245.28 340.40,244.00 C339.60,242.72 339.05,241.47 338.50,240.20 C337.95,238.93 337.45,237.67 337.10,236.40 C336.75,235.13 336.62,233.87 336.40,232.60 C336.18,231.33 335.85,230.07 335.80,228.80 C335.75,227.53 336.00,226.27 336.10,225.00 C336.20,223.73 336.35,222.47 336.40,221.20 C336.45,219.93 336.22,218.67 336.40,217.40 C336.58,216.13 337.02,215.03 337.50,213.60 C337.98,212.17 338.67,210.40 339.30,208.80 C339.93,207.20 340.63,205.58 341.30,204.00 C341.97,202.42 342.68,200.88 343.30,199.30 C343.92,197.72 344.63,195.88 345.00,194.50 C345.37,193.12 345.37,192.03 345.50,191.00 C345.63,189.97 345.75,188.75 345.80,188.30 Z" fill="#efc87e" stroke="#1e1e1e" stroke-width="1.2" stroke-linejoin="round"/>
<line x1="345.80" y1="188.30" x2="345.80" y2="250.20" stroke="#1a1a1a" stroke-width="1.0"/>
<rect x="344.60" y="215.50" width="2.4" height="20.00" fill="#9a9a9a" stroke="#222" stroke-width="0.55"/>
<circle cx="345.80" cy="225.00" r="0.9" fill="#d8d8d8" stroke="#333" stroke-width="0.4"/>
<path d="M379.00,195.10 C379.05,195.92 379.23,194.73 379.30,200.00 C379.37,205.27 379.28,221.53 379.40,226.70 C379.52,231.87 379.85,229.35 380.00,231.00 C380.15,232.65 380.30,234.48 380.30,236.60 C380.30,238.72 380.13,241.68 380.00,243.70 C379.87,245.72 379.67,247.55 379.50,248.70 C379.33,249.85 379.17,250.60 379.00,250.60 C378.83,250.60 378.67,249.85 378.50,248.70 C378.33,247.55 378.13,245.72 378.00,243.70 C377.87,241.68 377.70,238.72 377.70,236.60 C377.70,234.48 377.85,232.65 378.00,231.00 C378.15,229.35 378.48,231.87 378.60,226.70 C378.72,221.53 378.63,205.27 378.70,200.00 C378.77,194.73 378.95,195.92 379.00,195.10 Z" fill="#efc87e" stroke="#1e1e1e" stroke-width="1.2" stroke-linejoin="round"/>
<line x1="379.00" y1="195.10" x2="379.00" y2="250.60" stroke="#1a1a1a" stroke-width="1.0"/>
<rect x="377.80" y="229.50" width="2.4" height="11.40" fill="#9a9a9a" stroke="#222" stroke-width="0.55"/>
<circle cx="379.00" cy="235.20" r="0.9" fill="#d8d8d8" stroke="#333" stroke-width="0.4"/>
<rect x="326.00" y="185.40" width="72.80" height="67.50" fill="none" stroke="#333" stroke-width="1.1"/>
<rect x="398.80" y="185.40" width="10.50" height="67.50" fill="#d9d9d9" stroke="#333" stroke-width="1.1"/>
<text transform="translate(401.55,219.15) rotate(90)" font-size="6.95" font-family='"Liberation Sans", sans-serif' fill="#1a1a1a" stroke="#1a1a1a" stroke-width="0.15" text-anchor="middle">GSE136831</text>
<line x1="324.00" y1="237.30" x2="326.00" y2="237.30" stroke="#333" stroke-width="0.9" />
<text x="322.60" y="239.40" font-size="5.9" font-family='"Liberation Sans", sans-serif' font-weight="normal" fill="#333" text-anchor="end"  stroke="#333" stroke-width="0.06">1</text>
<line x1="324.00" y1="221.30" x2="326.00" y2="221.30" stroke="#333" stroke-width="0.9" />
<text x="322.60" y="223.40" font-size="5.9" font-family='"Liberation Sans", sans-serif' font-weight="normal" fill="#333" text-anchor="end"  stroke="#333" stroke-width="0.06">2</text>
<line x1="324.00" y1="205.30" x2="326.00" y2="205.30" stroke="#333" stroke-width="0.9" />
<text x="322.60" y="207.40" font-size="5.9" font-family='"Liberation Sans", sans-serif' font-weight="normal" fill="#333" text-anchor="end"  stroke="#333" stroke-width="0.06">3</text>
<line x1="324.00" y1="189.30" x2="326.00" y2="189.30" stroke="#333" stroke-width="0.9" />
<text x="322.60" y="191.40" font-size="5.9" font-family='"Liberation Sans", sans-serif' font-weight="normal" fill="#333" text-anchor="end"  stroke="#333" stroke-width="0.06">4</text>
<line x1="345.80" y1="252.90" x2="345.80" y2="254.90" stroke="#333" stroke-width="0.9" />
<text x="345.80" y="261.80" font-size="6.9" font-family='"Liberation Sans", sans-serif' font-weight="normal" fill="#1a1a1a" text-anchor="middle"  stroke="#1a1a1a" stroke-width="0.15">IPF</text>
<line x1="379.00" y1="252.90" x2="379.00" y2="254.90" stroke="#333" stroke-width="0.9" />
<text x="379.00" y="261.80" font-size="6.9" font-family='"Liberation Sans", sans-serif' font-weight="normal" fill="#1a1a1a" text-anchor="middle"  stroke="#1a1a1a" stroke-width="0.15">normal</text>
<text transform="translate(317.10,219.15) rotate(-90)" font-size="6.75" font-family='"Liberation Sans", sans-serif' fill="#1a1a1a" stroke="#1a1a1a" stroke-width="0.15" text-anchor="middle">CTHRC1 expression</text>
<rect x="326.00" y="286.00" width="73.10" height="67.10" fill="#ffffff" />
<line x1="326.00" y1="336.99" x2="399.10" y2="336.99" stroke="#f2f2f2" stroke-width="0.5" />
<line x1="326.00" y1="321.75" x2="399.10" y2="321.75" stroke="#f2f2f2" stroke-width="0.5" />
<line x1="326.00" y1="306.53" x2="399.10" y2="306.53" stroke="#f2f2f2" stroke-width="0.5" />
<line x1="326.00" y1="291.30" x2="399.10" y2="291.30" stroke="#f2f2f2" stroke-width="0.5" />
<line x1="326.00" y1="352.22" x2="399.10" y2="352.22" stroke="#f2f2f2" stroke-width="0.5" />
<line x1="326.00" y1="352.22" x2="399.10" y2="352.22" stroke="#f2f2f2" stroke-width="0.5" />
<line x1="326.00" y1="344.60" x2="399.10" y2="344.60" stroke="#e6e6e6" stroke-width="0.8" />
<line x1="326.00" y1="329.37" x2="399.10" y2="329.37" stroke="#e6e6e6" stroke-width="0.8" />
<line x1="326.00" y1="314.14" x2="399.10" y2="314.14" stroke="#e6e6e6" stroke-width="0.8" />
<line x1="326.00" y1="298.91" x2="399.10" y2="298.91" stroke="#e6e6e6" stroke-width="0.8" />
<line x1="345.80" y1="286.00" x2="345.80" y2="353.10" stroke="#e6e6e6" stroke-width="0.8" />
<line x1="379.00" y1="286.00" x2="379.00" y2="353.10" stroke="#e6e6e6" stroke-width="0.8" />
<path d="M345.80,288.30 C345.85,288.67 345.93,289.80 346.10,290.50 C346.27,291.20 346.52,291.92 346.80,292.50 C347.08,293.08 347.42,293.52 347.80,294.00 C348.18,294.48 348.52,294.93 349.10,295.40 C349.68,295.87 350.47,296.33 351.30,296.80 C352.13,297.27 353.33,297.73 354.10,298.20 C354.87,298.67 355.37,299.13 355.90,299.60 C356.43,300.07 356.80,300.47 357.30,301.00 C357.80,301.53 358.47,302.20 358.90,302.80 C359.33,303.40 359.72,303.70 359.90,304.60 C360.08,305.50 360.03,307.30 360.00,308.20 C359.97,309.10 359.78,309.42 359.70,310.00 C359.62,310.58 359.40,311.05 359.50,311.70 C359.60,312.35 360.30,313.30 360.30,313.90 C360.30,314.50 359.87,314.83 359.50,315.30 C359.13,315.77 358.72,316.08 358.10,316.70 C357.48,317.32 356.50,318.28 355.80,319.00 C355.10,319.72 354.52,320.33 353.90,321.00 C353.28,321.67 352.65,322.28 352.10,323.00 C351.55,323.72 351.07,324.47 350.60,325.30 C350.13,326.13 349.65,327.07 349.30,328.00 C348.95,328.93 348.70,329.90 348.50,330.90 C348.30,331.90 348.22,332.82 348.10,334.00 C347.98,335.18 347.97,336.38 347.80,338.00 C347.63,339.62 347.30,342.12 347.10,343.70 C346.90,345.28 346.82,346.43 346.60,347.50 C346.38,348.57 346.07,350.10 345.80,350.10 C345.53,350.10 345.22,348.57 345.00,347.50 C344.78,346.43 344.70,345.28 344.50,343.70 C344.30,342.12 343.97,339.62 343.80,338.00 C343.63,336.38 343.62,335.18 343.50,334.00 C343.38,332.82 343.30,331.90 343.10,330.90 C342.90,329.90 342.65,328.93 342.30,328.00 C341.95,327.07 341.47,326.13 341.00,325.30 C340.53,324.47 340.05,323.72 339.50,323.00 C338.95,322.28 338.32,321.67 337.70,321.00 C337.08,320.33 336.50,319.72 335.80,319.00 C335.10,318.28 334.12,317.32 333.50,316.70 C332.88,316.08 332.47,315.77 332.10,315.30 C331.73,314.83 331.30,314.50 331.30,313.90 C331.30,313.30 332.00,312.35 332.10,311.70 C332.20,311.05 331.98,310.58 331.90,310.00 C331.82,309.42 331.63,309.10 331.60,308.20 C331.57,307.30 331.52,305.50 331.70,304.60 C331.88,303.70 332.27,303.40 332.70,302.80 C333.13,302.20 333.80,301.53 334.30,301.00 C334.80,300.47 335.17,300.07 335.70,299.60 C336.23,299.13 336.73,298.67 337.50,298.20 C338.27,297.73 339.47,297.27 340.30,296.80 C341.13,296.33 341.92,295.87 342.50,295.40 C343.08,294.93 343.42,294.48 343.80,294.00 C344.18,293.52 344.52,293.08 344.80,292.50 C345.08,291.92 345.33,291.20 345.50,290.50 C345.67,289.80 345.75,288.67 345.80,288.30 Z" fill="#efc87e" stroke="#1e1e1e" stroke-width="1.2" stroke-linejoin="round"/>
<line x1="345.80" y1="288.30" x2="345.80" y2="350.10" stroke="#1a1a1a" stroke-width="1.0"/>
<rect x="344.60" y="307.50" width="2.4" height="13.50" fill="#9a9a9a" stroke="#222" stroke-width="0.55"/>
<circle cx="345.80" cy="313.90" r="0.9" fill="#d8d8d8" stroke="#333" stroke-width="0.4"/>
<path d="M379.00,292.00 C379.02,293.33 379.02,297.00 379.10,300.00 C379.18,303.00 379.33,307.00 379.50,310.00 C379.67,313.00 379.97,316.00 380.10,318.00 C380.23,320.00 380.30,320.33 380.30,322.00 C380.30,323.67 380.20,325.83 380.10,328.00 C380.00,330.17 379.82,332.67 379.70,335.00 C379.58,337.33 379.52,339.67 379.40,342.00 C379.28,344.33 379.13,349.00 379.00,349.00 C378.87,349.00 378.72,344.33 378.60,342.00 C378.48,339.67 378.42,337.33 378.30,335.00 C378.18,332.67 378.00,330.17 377.90,328.00 C377.80,325.83 377.70,323.67 377.70,322.00 C377.70,320.33 377.77,320.00 377.90,318.00 C378.03,316.00 378.33,313.00 378.50,310.00 C378.67,307.00 378.82,303.00 378.90,300.00 C378.98,297.00 378.98,293.33 379.00,292.00 Z" fill="#efc87e" stroke="#1e1e1e" stroke-width="1.2" stroke-linejoin="round"/>
<line x1="379.00" y1="292.00" x2="379.00" y2="349.00" stroke="#1a1a1a" stroke-width="1.0"/>
<rect x="377.80" y="318.00" width="2.4" height="9.00" fill="#9a9a9a" stroke="#222" stroke-width="0.55"/>
<circle cx="379.00" cy="322.50" r="0.9" fill="#d8d8d8" stroke="#333" stroke-width="0.4"/>
<rect x="326.00" y="286.00" width="73.10" height="67.10" fill="none" stroke="#333" stroke-width="1.1"/>
<rect x="399.10" y="286.00" width="10.90" height="67.10" fill="#d9d9d9" stroke="#333" stroke-width="1.1"/>
<text transform="translate(402.05,319.55) rotate(90)" font-size="6.95" font-family='"Liberation Sans", sans-serif' fill="#1a1a1a" stroke="#1a1a1a" stroke-width="0.15" text-anchor="middle">GSE156326</text>
<line x1="324.00" y1="344.60" x2="326.00" y2="344.60" stroke="#333" stroke-width="0.9" />
<text x="322.60" y="346.70" font-size="5.9" font-family='"Liberation Sans", sans-serif' font-weight="normal" fill="#333" text-anchor="end"  stroke="#333" stroke-width="0.06">1</text>
<line x1="324.00" y1="329.37" x2="326.00" y2="329.37" stroke="#333" stroke-width="0.9" />
<text x="322.60" y="331.47" font-size="5.9" font-family='"Liberation Sans", sans-serif' font-weight="normal" fill="#333" text-anchor="end"  stroke="#333" stroke-width="0.06">2</text>
<line x1="324.00" y1="314.14" x2="326.00" y2="314.14" stroke="#333" stroke-width="0.9" />
<text x="322.60" y="316.24" font-size="5.9" font-family='"Liberation Sans", sans-serif' font-weight="normal" fill="#333" text-anchor="end"  stroke="#333" stroke-width="0.06">3</text>
<line x1="324.00" y1="298.91" x2="326.00" y2="298.91" stroke="#333" stroke-width="0.9" />
<text x="322.60" y="301.01" font-size="5.9" font-family='"Liberation Sans", sans-serif' font-weight="normal" fill="#333" text-anchor="end"  stroke="#333" stroke-width="0.06">4</text>
<line x1="345.80" y1="353.10" x2="345.80" y2="355.10" stroke="#333" stroke-width="0.9" />
<text x="345.80" y="362.10" font-size="6.9" font-family='"Liberation Sans", sans-serif' font-weight="normal" fill="#1a1a1a" text-anchor="middle"  stroke="#1a1a1a" stroke-width="0.15">Keloid</text>
<line x1="379.00" y1="353.10" x2="379.00" y2="355.10" stroke="#333" stroke-width="0.9" />
<text x="382.30" y="362.10" font-size="6.9" font-family='"Liberation Sans", sans-serif' font-weight="normal" fill="#1a1a1a" text-anchor="middle"  stroke="#1a1a1a" stroke-width="0.15">normal</text>
<text transform="translate(317.10,319.55) rotate(-90)" font-size="6.75" font-family='"Liberation Sans", sans-serif' fill="#1a1a1a" stroke="#1a1a1a" stroke-width="0.15" text-anchor="middle">CTHRC1 expression</text>
<rect x="435.00" y="286.00" width="72.00" height="67.10" fill="#ffffff" />
<line x1="435.00" y1="332.80" x2="507.00" y2="332.80" stroke="#f2f2f2" stroke-width="0.5" />
<line x1="435.00" y1="316.80" x2="507.00" y2="316.80" stroke="#f2f2f2" stroke-width="0.5" />
<line x1="435.00" y1="300.80" x2="507.00" y2="300.80" stroke="#f2f2f2" stroke-width="0.5" />
<line x1="435.00" y1="348.80" x2="507.00" y2="348.80" stroke="#f2f2f2" stroke-width="0.5" />
<line x1="435.00" y1="348.80" x2="507.00" y2="348.80" stroke="#f2f2f2" stroke-width="0.5" />
<line x1="435.00" y1="340.80" x2="507.00" y2="340.80" stroke="#e6e6e6" stroke-width="0.8" />
<line x1="435.00" y1="324.80" x2="507.00" y2="324.80" stroke="#e6e6e6" stroke-width="0.8" />
<line x1="435.00" y1="308.80" x2="507.00" y2="308.80" stroke="#e6e6e6" stroke-width="0.8" />
<line x1="435.00" y1="292.80" x2="507.00" y2="292.80" stroke="#e6e6e6" stroke-width="0.8" />
<line x1="453.50" y1="286.00" x2="453.50" y2="353.10" stroke="#e6e6e6" stroke-width="0.8" />
<line x1="486.70" y1="286.00" x2="486.70" y2="353.10" stroke="#e6e6e6" stroke-width="0.8" />
<path d="M453.50,288.30 C453.57,288.92 453.83,290.05 453.90,292.00 C453.97,293.95 453.87,298.02 453.90,300.00 C453.93,301.98 453.90,302.53 454.10,303.90 C454.30,305.27 454.68,306.78 455.10,308.20 C455.52,309.62 456.00,310.98 456.60,312.40 C457.20,313.82 458.23,315.27 458.70,316.70 C459.17,318.13 459.22,319.57 459.40,321.00 C459.58,322.43 459.80,323.88 459.80,325.30 C459.80,326.72 459.70,328.08 459.40,329.50 C459.10,330.92 458.60,332.38 458.00,333.80 C457.40,335.22 456.43,336.58 455.80,338.00 C455.17,339.42 454.58,340.98 454.20,342.30 C453.82,343.62 453.73,345.90 453.50,345.90 C453.27,345.90 453.18,343.62 452.80,342.30 C452.42,340.98 451.83,339.42 451.20,338.00 C450.57,336.58 449.60,335.22 449.00,333.80 C448.40,332.38 447.90,330.92 447.60,329.50 C447.30,328.08 447.20,326.72 447.20,325.30 C447.20,323.88 447.42,322.43 447.60,321.00 C447.78,319.57 447.83,318.13 448.30,316.70 C448.77,315.27 449.80,313.82 450.40,312.40 C451.00,310.98 451.48,309.62 451.90,308.20 C452.32,306.78 452.70,305.27 452.90,303.90 C453.10,302.53 453.07,301.98 453.10,300.00 C453.13,298.02 453.03,293.95 453.10,292.00 C453.17,290.05 453.43,288.92 453.50,288.30 Z" fill="#efc87e" stroke="#1e1e1e" stroke-width="1.2" stroke-linejoin="round"/>
<line x1="453.50" y1="288.30" x2="453.50" y2="345.90" stroke="#1a1a1a" stroke-width="1.0"/>
<rect x="452.30" y="318.10" width="2.4" height="13.60" fill="#9a9a9a" stroke="#222" stroke-width="0.55"/>
<circle cx="453.50" cy="325.30" r="0.9" fill="#d8d8d8" stroke="#333" stroke-width="0.4"/>
<path d="M486.70,321.70 C486.77,322.08 486.97,323.17 487.10,324.00 C487.23,324.83 487.23,325.55 487.50,326.70 C487.77,327.85 488.03,329.48 488.70,330.90 C489.37,332.32 490.50,333.88 491.50,335.20 C492.50,336.52 493.58,337.62 494.70,338.80 C495.82,339.98 497.17,341.23 498.20,342.30 C499.23,343.37 500.70,344.37 500.90,345.20 C501.10,346.03 500.68,346.60 499.40,347.30 C498.12,348.00 495.32,348.80 493.20,349.40 C491.08,350.00 488.87,350.90 486.70,350.90 C484.53,350.90 482.32,350.00 480.20,349.40 C478.08,348.80 475.28,348.00 474.00,347.30 C472.72,346.60 472.30,346.03 472.50,345.20 C472.70,344.37 474.17,343.37 475.20,342.30 C476.23,341.23 477.58,339.98 478.70,338.80 C479.82,337.62 480.90,336.52 481.90,335.20 C482.90,333.88 484.03,332.32 484.70,330.90 C485.37,329.48 485.63,327.85 485.90,326.70 C486.17,325.55 486.17,324.83 486.30,324.00 C486.43,323.17 486.63,322.08 486.70,321.70 Z" fill="#a6c1db" stroke="#1e1e1e" stroke-width="1.2" stroke-linejoin="round"/>
<line x1="486.70" y1="321.70" x2="486.70" y2="350.90" stroke="#1a1a1a" stroke-width="1.0"/>
<rect x="485.50" y="332.40" width="2.4" height="15.10" fill="#9a9a9a" stroke="#222" stroke-width="0.55"/>
<circle cx="486.70" cy="343.00" r="0.9" fill="#d8d8d8" stroke="#333" stroke-width="0.4"/>
<rect x="435.00" y="286.00" width="72.00" height="67.10" fill="none" stroke="#333" stroke-width="1.1"/>
<rect x="507.00" y="286.00" width="10.60" height="67.10" fill="#d9d9d9" stroke="#333" stroke-width="1.1"/>
<text transform="translate(509.80,319.55) rotate(90)" font-size="6.95" font-family='"Liberation Sans", sans-serif' fill="#1a1a1a" stroke="#1a1a1a" stroke-width="0.15" text-anchor="middle">GSE113854</text>
<line x1="433.00" y1="340.80" x2="435.00" y2="340.80" stroke="#333" stroke-width="0.9" />
<text x="431.60" y="342.90" font-size="5.9" font-family='"Liberation Sans", sans-serif' font-weight="normal" fill="#333" text-anchor="end"  stroke="#333" stroke-width="0.06">1</text>
<line x1="433.00" y1="324.80" x2="435.00" y2="324.80" stroke="#333" stroke-width="0.9" />
<text x="431.60" y="326.90" font-size="5.9" font-family='"Liberation Sans", sans-serif' font-weight="normal" fill="#333" text-anchor="end"  stroke="#333" stroke-width="0.06">2</text>
<line x1="433.00" y1="308.80" x2="435.00" y2="308.80" stroke="#333" stroke-width="0.9" />
<text x="431.60" y="310.90" font-size="5.9" font-family='"Liberation Sans", sans-serif' font-weight="normal" fill="#333" text-anchor="end"  stroke="#333" stroke-width="0.06">3</text>
<line x1="433.00" y1="292.80" x2="435.00" y2="292.80" stroke="#333" stroke-width="0.9" />
<text x="431.60" y="294.90" font-size="5.9" font-family='"Liberation Sans", sans-serif' font-weight="normal" fill="#333" text-anchor="end"  stroke="#333" stroke-width="0.06">4</text>
<line x1="453.50" y1="353.10" x2="453.50" y2="355.10" stroke="#333" stroke-width="0.9" />
<text x="453.50" y="362.20" font-size="6.9" font-family='"Liberation Sans", sans-serif' font-weight="normal" fill="#1a1a1a" text-anchor="middle"  stroke="#1a1a1a" stroke-width="0.15">wound</text>
<line x1="486.70" y1="353.10" x2="486.70" y2="355.10" stroke="#333" stroke-width="0.9" />
<text x="486.70" y="362.20" font-size="6.9" font-family='"Liberation Sans", sans-serif' font-weight="normal" fill="#1a1a1a" text-anchor="middle"  stroke="#1a1a1a" stroke-width="0.15">unwound</text>
<text transform="translate(425.70,319.55) rotate(-90)" font-size="6.75" font-family='"Liberation Sans", sans-serif' fill="#1a1a1a" stroke="#1a1a1a" stroke-width="0.15" text-anchor="middle">Cthrc1 expression</text>
<rect x="326.00" y="367.70" width="73.10" height="66.70" fill="#ffffff" />
<line x1="326.00" y1="415.41" x2="399.10" y2="415.41" stroke="#f2f2f2" stroke-width="0.5" />
<line x1="326.00" y1="401.43" x2="399.10" y2="401.43" stroke="#f2f2f2" stroke-width="0.5" />
<line x1="326.00" y1="387.45" x2="399.10" y2="387.45" stroke="#f2f2f2" stroke-width="0.5" />
<line x1="326.00" y1="373.47" x2="399.10" y2="373.47" stroke="#f2f2f2" stroke-width="0.5" />
<line x1="326.00" y1="429.39" x2="399.10" y2="429.39" stroke="#f2f2f2" stroke-width="0.5" />
<line x1="326.00" y1="429.39" x2="399.10" y2="429.39" stroke="#f2f2f2" stroke-width="0.5" />
<line x1="326.00" y1="422.40" x2="399.10" y2="422.40" stroke="#e6e6e6" stroke-width="0.8" />
<line x1="326.00" y1="408.42" x2="399.10" y2="408.42" stroke="#e6e6e6" stroke-width="0.8" />
<line x1="326.00" y1="394.44" x2="399.10" y2="394.44" stroke="#e6e6e6" stroke-width="0.8" />
<line x1="326.00" y1="380.46" x2="399.10" y2="380.46" stroke="#e6e6e6" stroke-width="0.8" />
<line x1="326.00" y1="366.48" x2="399.10" y2="366.48" stroke="#e6e6e6" stroke-width="0.8" />
<line x1="345.80" y1="367.70" x2="345.80" y2="434.40" stroke="#e6e6e6" stroke-width="0.8" />
<line x1="379.00" y1="367.70" x2="379.00" y2="434.40" stroke="#e6e6e6" stroke-width="0.8" />
<path d="M345.80,369.70 C345.93,370.08 346.28,371.28 346.60,372.00 C346.92,372.72 347.08,373.33 347.70,374.00 C348.32,374.67 349.35,375.30 350.30,376.00 C351.25,376.70 352.32,377.48 353.40,378.20 C354.48,378.92 355.72,379.58 356.80,380.30 C357.88,381.02 359.27,381.42 359.90,382.50 C360.53,383.58 360.62,385.80 360.60,386.80 C360.58,387.80 360.15,387.92 359.80,388.50 C359.45,389.08 359.20,389.17 358.50,390.30 C357.80,391.43 356.55,393.52 355.60,395.30 C354.65,397.08 353.63,399.10 352.80,401.00 C351.97,402.90 351.20,404.80 350.60,406.70 C350.00,408.60 349.62,410.52 349.20,412.40 C348.78,414.28 348.45,416.12 348.10,418.00 C347.75,419.88 347.38,422.12 347.10,423.70 C346.82,425.28 346.62,426.43 346.40,427.50 C346.18,428.57 346.00,430.10 345.80,430.10 C345.60,430.10 345.42,428.57 345.20,427.50 C344.98,426.43 344.78,425.28 344.50,423.70 C344.22,422.12 343.85,419.88 343.50,418.00 C343.15,416.12 342.82,414.28 342.40,412.40 C341.98,410.52 341.60,408.60 341.00,406.70 C340.40,404.80 339.63,402.90 338.80,401.00 C337.97,399.10 336.95,397.08 336.00,395.30 C335.05,393.52 333.80,391.43 333.10,390.30 C332.40,389.17 332.15,389.08 331.80,388.50 C331.45,387.92 331.02,387.80 331.00,386.80 C330.98,385.80 331.07,383.58 331.70,382.50 C332.33,381.42 333.72,381.02 334.80,380.30 C335.88,379.58 337.12,378.92 338.20,378.20 C339.28,377.48 340.35,376.70 341.30,376.00 C342.25,375.30 343.28,374.67 343.90,374.00 C344.52,373.33 344.68,372.72 345.00,372.00 C345.32,371.28 345.67,370.08 345.80,369.70 Z" fill="#efc87e" stroke="#1e1e1e" stroke-width="1.2" stroke-linejoin="round"/>
<line x1="345.80" y1="369.70" x2="345.80" y2="430.10" stroke="#1a1a1a" stroke-width="1.0"/>
<rect x="344.60" y="385.30" width="2.4" height="21.40" fill="#9a9a9a" stroke="#222" stroke-width="0.55"/>
<circle cx="345.80" cy="392.40" r="0.9" fill="#d8d8d8" stroke="#333" stroke-width="0.4"/>
<path d="M379.00,398.90 C379.08,399.17 379.23,399.92 379.50,400.50 C379.77,401.08 380.05,401.60 380.60,402.40 C381.15,403.20 382.23,404.35 382.80,405.30 C383.37,406.25 383.97,407.15 384.00,408.10 C384.03,409.05 383.23,410.05 383.00,411.00 C382.77,411.95 382.63,412.63 382.60,413.80 C382.57,414.97 382.97,416.82 382.80,418.00 C382.63,419.18 382.08,419.95 381.60,420.90 C381.12,421.85 380.33,423.10 379.90,423.70 C379.47,424.30 379.30,424.50 379.00,424.50 C378.70,424.50 378.53,424.30 378.10,423.70 C377.67,423.10 376.88,421.85 376.40,420.90 C375.92,419.95 375.37,419.18 375.20,418.00 C375.03,416.82 375.43,414.97 375.40,413.80 C375.37,412.63 375.23,411.95 375.00,411.00 C374.77,410.05 373.97,409.05 374.00,408.10 C374.03,407.15 374.63,406.25 375.20,405.30 C375.77,404.35 376.85,403.20 377.40,402.40 C377.95,401.60 378.23,401.08 378.50,400.50 C378.77,399.92 378.92,399.17 379.00,398.90 Z" fill="#a6c1db" stroke="#1e1e1e" stroke-width="1.2" stroke-linejoin="round"/>
<line x1="379.00" y1="398.90" x2="379.00" y2="424.50" stroke="#1a1a1a" stroke-width="1.0"/>
<rect x="377.80" y="406.50" width="2.4" height="10.00" fill="#9a9a9a" stroke="#222" stroke-width="0.55"/>
<circle cx="379.00" cy="411.20" r="0.9" fill="#d8d8d8" stroke="#333" stroke-width="0.4"/>
<rect x="326.00" y="367.70" width="73.10" height="66.70" fill="none" stroke="#333" stroke-width="1.1"/>
<rect x="399.10" y="367.70" width="10.90" height="66.70" fill="#d9d9d9" stroke="#333" stroke-width="1.1"/>
<text transform="translate(402.05,401.05) rotate(90)" font-size="6.95" font-family='"Liberation Sans", sans-serif' fill="#1a1a1a" stroke="#1a1a1a" stroke-width="0.15" text-anchor="middle">GSE163973</text>
<line x1="324.00" y1="422.40" x2="326.00" y2="422.40" stroke="#333" stroke-width="0.9" />
<text x="322.60" y="424.50" font-size="5.9" font-family='"Liberation Sans", sans-serif' font-weight="normal" fill="#333" text-anchor="end"  stroke="#333" stroke-width="0.06">1</text>
<line x1="324.00" y1="408.42" x2="326.00" y2="408.42" stroke="#333" stroke-width="0.9" />
<text x="322.60" y="410.52" font-size="5.9" font-family='"Liberation Sans", sans-serif' font-weight="normal" fill="#333" text-anchor="end"  stroke="#333" stroke-width="0.06">2</text>
<line x1="324.00" y1="394.44" x2="326.00" y2="394.44" stroke="#333" stroke-width="0.9" />
<text x="322.60" y="396.54" font-size="5.9" font-family='"Liberation Sans", sans-serif' font-weight="normal" fill="#333" text-anchor="end"  stroke="#333" stroke-width="0.06">3</text>
<line x1="324.00" y1="380.46" x2="326.00" y2="380.46" stroke="#333" stroke-width="0.9" />
<text x="322.60" y="382.56" font-size="5.9" font-family='"Liberation Sans", sans-serif' font-weight="normal" fill="#333" text-anchor="end"  stroke="#333" stroke-width="0.06">4</text>
<line x1="324.00" y1="366.48" x2="326.00" y2="366.48" stroke="#333" stroke-width="0.9" />
<text x="322.60" y="368.58" font-size="5.9" font-family='"Liberation Sans", sans-serif' font-weight="normal" fill="#333" text-anchor="end"  stroke="#333" stroke-width="0.06">5</text>
<line x1="345.80" y1="434.40" x2="345.80" y2="436.40" stroke="#333" stroke-width="0.9" />
<text x="345.80" y="444.70" font-size="6.9" font-family='"Liberation Sans", sans-serif' font-weight="normal" fill="#1a1a1a" text-anchor="middle"  stroke="#1a1a1a" stroke-width="0.15">Keloid</text>
<line x1="379.00" y1="434.40" x2="379.00" y2="436.40" stroke="#333" stroke-width="0.9" />
<text x="382.30" y="444.70" font-size="6.9" font-family='"Liberation Sans", sans-serif' font-weight="normal" fill="#1a1a1a" text-anchor="middle"  stroke="#1a1a1a" stroke-width="0.15">normal</text>
<text transform="translate(317.10,401.05) rotate(-90)" font-size="6.75" font-family='"Liberation Sans", sans-serif' fill="#1a1a1a" stroke="#1a1a1a" stroke-width="0.15" text-anchor="middle">CTHRC1 expression</text>
<rect x="435.00" y="367.30" width="72.00" height="66.70" fill="#ffffff" />
<line x1="435.00" y1="413.78" x2="507.00" y2="413.78" stroke="#f2f2f2" stroke-width="0.5" />
<line x1="435.00" y1="397.55" x2="507.00" y2="397.55" stroke="#f2f2f2" stroke-width="0.5" />
<line x1="435.00" y1="381.32" x2="507.00" y2="381.32" stroke="#f2f2f2" stroke-width="0.5" />
<line x1="435.00" y1="430.01" x2="507.00" y2="430.01" stroke="#f2f2f2" stroke-width="0.5" />
<line x1="435.00" y1="430.01" x2="507.00" y2="430.01" stroke="#f2f2f2" stroke-width="0.5" />
<line x1="435.00" y1="421.90" x2="507.00" y2="421.90" stroke="#e6e6e6" stroke-width="0.8" />
<line x1="435.00" y1="405.67" x2="507.00" y2="405.67" stroke="#e6e6e6" stroke-width="0.8" />
<line x1="435.00" y1="389.44" x2="507.00" y2="389.44" stroke="#e6e6e6" stroke-width="0.8" />
<line x1="435.00" y1="373.21" x2="507.00" y2="373.21" stroke="#e6e6e6" stroke-width="0.8" />
<line x1="453.50" y1="367.30" x2="453.50" y2="434.00" stroke="#e6e6e6" stroke-width="0.8" />
<line x1="486.70" y1="367.30" x2="486.70" y2="434.00" stroke="#e6e6e6" stroke-width="0.8" />
<path d="M453.50,370.00 C453.58,370.33 453.80,371.25 454.00,372.00 C454.20,372.75 454.47,373.13 454.70,374.50 C454.93,375.87 455.13,378.07 455.40,380.20 C455.67,382.33 456.10,384.93 456.30,387.30 C456.50,389.67 456.63,392.02 456.60,394.40 C456.57,396.78 456.13,399.22 456.10,401.60 C456.07,403.98 456.27,406.33 456.40,408.70 C456.53,411.07 456.63,413.67 456.90,415.80 C457.17,417.93 457.85,419.85 458.00,421.50 C458.15,423.15 458.10,424.40 457.80,425.70 C457.50,427.00 456.92,428.30 456.20,429.30 C455.48,430.30 454.40,431.70 453.50,431.70 C452.60,431.70 451.52,430.30 450.80,429.30 C450.08,428.30 449.50,427.00 449.20,425.70 C448.90,424.40 448.85,423.15 449.00,421.50 C449.15,419.85 449.83,417.93 450.10,415.80 C450.37,413.67 450.47,411.07 450.60,408.70 C450.73,406.33 450.93,403.98 450.90,401.60 C450.87,399.22 450.43,396.78 450.40,394.40 C450.37,392.02 450.50,389.67 450.70,387.30 C450.90,384.93 451.33,382.33 451.60,380.20 C451.87,378.07 452.07,375.87 452.30,374.50 C452.53,373.13 452.80,372.75 453.00,372.00 C453.20,371.25 453.42,370.33 453.50,370.00 Z" fill="#efc87e" stroke="#1e1e1e" stroke-width="1.2" stroke-linejoin="round"/>
<line x1="453.50" y1="370.00" x2="453.50" y2="431.70" stroke="#1a1a1a" stroke-width="1.0"/>
<rect x="452.30" y="391.60" width="2.4" height="29.20" fill="#9a9a9a" stroke="#222" stroke-width="0.55"/>
<circle cx="453.50" cy="405.10" r="0.9" fill="#d8d8d8" stroke="#333" stroke-width="0.4"/>
<path d="M486.70,402.70 C486.78,403.08 487.07,404.23 487.20,405.00 C487.33,405.77 487.20,406.22 487.50,407.30 C487.80,408.38 488.22,410.08 489.00,411.50 C489.78,412.92 491.07,414.38 492.20,415.80 C493.33,417.22 494.67,418.70 495.80,420.00 C496.93,421.30 498.08,422.52 499.00,423.60 C499.92,424.68 501.22,425.67 501.30,426.50 C501.38,427.33 500.83,427.90 499.50,428.60 C498.17,429.30 495.43,430.12 493.30,430.70 C491.17,431.28 488.90,432.10 486.70,432.10 C484.50,432.10 482.23,431.28 480.10,430.70 C477.97,430.12 475.23,429.30 473.90,428.60 C472.57,427.90 472.02,427.33 472.10,426.50 C472.18,425.67 473.48,424.68 474.40,423.60 C475.32,422.52 476.47,421.30 477.60,420.00 C478.73,418.70 480.07,417.22 481.20,415.80 C482.33,414.38 483.62,412.92 484.40,411.50 C485.18,410.08 485.60,408.38 485.90,407.30 C486.20,406.22 486.07,405.77 486.20,405.00 C486.33,404.23 486.62,403.08 486.70,402.70 Z" fill="#a6c1db" stroke="#1e1e1e" stroke-width="1.2" stroke-linejoin="round"/>
<line x1="486.70" y1="402.70" x2="486.70" y2="432.10" stroke="#1a1a1a" stroke-width="1.0"/>
<rect x="485.50" y="418.00" width="2.4" height="11.00" fill="#9a9a9a" stroke="#222" stroke-width="0.55"/>
<circle cx="486.70" cy="423.60" r="0.9" fill="#d8d8d8" stroke="#333" stroke-width="0.4"/>
<rect x="435.00" y="367.30" width="72.00" height="66.70" fill="none" stroke="#333" stroke-width="1.1"/>
<rect x="507.00" y="367.30" width="10.60" height="66.70" fill="#d9d9d9" stroke="#333" stroke-width="1.1"/>
<text transform="translate(509.80,400.65) rotate(90)" font-size="6.95" font-family='"Liberation Sans", sans-serif' fill="#1a1a1a" stroke="#1a1a1a" stroke-width="0.15" text-anchor="middle">GSE142471</text>
<line x1="433.00" y1="421.90" x2="435.00" y2="421.90" stroke="#333" stroke-width="0.9" />
<text x="431.60" y="424.00" font-size="5.9" font-family='"Liberation Sans", sans-serif' font-weight="normal" fill="#333" text-anchor="end"  stroke="#333" stroke-width="0.06">1</text>
<line x1="433.00" y1="405.67" x2="435.00" y2="405.67" stroke="#333" stroke-width="0.9" />
<text x="431.60" y="407.77" font-size="5.9" font-family='"Liberation Sans", sans-serif' font-weight="normal" fill="#333" text-anchor="end"  stroke="#333" stroke-width="0.06">2</text>
<line x1="433.00" y1="389.44" x2="435.00" y2="389.44" stroke="#333" stroke-width="0.9" />
<text x="431.60" y="391.54" font-size="5.9" font-family='"Liberation Sans", sans-serif' font-weight="normal" fill="#333" text-anchor="end"  stroke="#333" stroke-width="0.06">3</text>
<line x1="433.00" y1="373.21" x2="435.00" y2="373.21" stroke="#333" stroke-width="0.9" />
<text x="431.60" y="375.31" font-size="5.9" font-family='"Liberation Sans", sans-serif' font-weight="normal" fill="#333" text-anchor="end"  stroke="#333" stroke-width="0.06">4</text>
<line x1="453.50" y1="434.00" x2="453.50" y2="436.00" stroke="#333" stroke-width="0.9" />
<text x="453.50" y="444.00" font-size="6.9" font-family='"Liberation Sans", sans-serif' font-weight="normal" fill="#1a1a1a" text-anchor="middle"  stroke="#1a1a1a" stroke-width="0.15">wound</text>
<line x1="486.70" y1="434.00" x2="486.70" y2="436.00" stroke="#333" stroke-width="0.9" />
<text x="486.70" y="444.00" font-size="6.9" font-family='"Liberation Sans", sans-serif' font-weight="normal" fill="#1a1a1a" text-anchor="middle"  stroke="#1a1a1a" stroke-width="0.15">unwound</text>
<text transform="translate(425.70,400.65) rotate(-90)" font-size="6.75" font-family='"Liberation Sans", sans-serif' fill="#1a1a1a" stroke="#1a1a1a" stroke-width="0.15" text-anchor="middle">CTHrc1 expression</text>
<rect x="326.00" y="448.70" width="73.10" height="67.00" fill="#ffffff" />
<line x1="326.00" y1="496.50" x2="399.10" y2="496.50" stroke="#f2f2f2" stroke-width="0.5" />
<line x1="326.00" y1="481.70" x2="399.10" y2="481.70" stroke="#f2f2f2" stroke-width="0.5" />
<line x1="326.00" y1="466.90" x2="399.10" y2="466.90" stroke="#f2f2f2" stroke-width="0.5" />
<line x1="326.00" y1="452.10" x2="399.10" y2="452.10" stroke="#f2f2f2" stroke-width="0.5" />
<line x1="326.00" y1="511.30" x2="399.10" y2="511.30" stroke="#f2f2f2" stroke-width="0.5" />
<line x1="326.00" y1="511.30" x2="399.10" y2="511.30" stroke="#f2f2f2" stroke-width="0.5" />
<line x1="326.00" y1="503.90" x2="399.10" y2="503.90" stroke="#e6e6e6" stroke-width="0.8" />
<line x1="326.00" y1="489.10" x2="399.10" y2="489.10" stroke="#e6e6e6" stroke-width="0.8" />
<line x1="326.00" y1="474.30" x2="399.10" y2="474.30" stroke="#e6e6e6" stroke-width="0.8" />
<line x1="326.00" y1="459.50" x2="399.10" y2="459.50" stroke="#e6e6e6" stroke-width="0.8" />
<line x1="345.80" y1="448.70" x2="345.80" y2="515.70" stroke="#e6e6e6" stroke-width="0.8" />
<line x1="379.00" y1="448.70" x2="379.00" y2="515.70" stroke="#e6e6e6" stroke-width="0.8" />
<path d="M345.80,451.00 C345.90,451.30 346.13,452.22 346.40,452.80 C346.67,453.38 346.63,453.73 347.40,454.50 C348.17,455.27 349.75,456.45 351.00,457.40 C352.25,458.35 353.72,459.13 354.90,460.20 C356.08,461.27 357.30,462.62 358.10,463.80 C358.90,464.98 359.33,466.23 359.70,467.30 C360.07,468.37 360.33,469.13 360.30,470.20 C360.27,471.27 359.87,472.52 359.50,473.70 C359.13,474.88 358.68,475.75 358.10,477.30 C357.52,478.85 356.65,481.10 356.00,483.00 C355.35,484.90 354.80,486.80 354.20,488.70 C353.60,490.60 352.93,492.52 352.40,494.40 C351.87,496.28 351.47,498.12 351.00,500.00 C350.53,501.88 350.08,504.03 349.60,505.70 C349.12,507.37 348.73,508.80 348.10,510.00 C347.47,511.20 346.57,512.90 345.80,512.90 C345.03,512.90 344.13,511.20 343.50,510.00 C342.87,508.80 342.48,507.37 342.00,505.70 C341.52,504.03 341.07,501.88 340.60,500.00 C340.13,498.12 339.73,496.28 339.20,494.40 C338.67,492.52 338.00,490.60 337.40,488.70 C336.80,486.80 336.25,484.90 335.60,483.00 C334.95,481.10 334.08,478.85 333.50,477.30 C332.92,475.75 332.47,474.88 332.10,473.70 C331.73,472.52 331.33,471.27 331.30,470.20 C331.27,469.13 331.53,468.37 331.90,467.30 C332.27,466.23 332.70,464.98 333.50,463.80 C334.30,462.62 335.52,461.27 336.70,460.20 C337.88,459.13 339.35,458.35 340.60,457.40 C341.85,456.45 343.43,455.27 344.20,454.50 C344.97,453.73 344.93,453.38 345.20,452.80 C345.47,452.22 345.70,451.30 345.80,451.00 Z" fill="#efc87e" stroke="#1e1e1e" stroke-width="1.2" stroke-linejoin="round"/>
<line x1="345.80" y1="451.00" x2="345.80" y2="512.90" stroke="#1a1a1a" stroke-width="1.0"/>
<rect x="344.60" y="469.50" width="2.4" height="22.00" fill="#9a9a9a" stroke="#222" stroke-width="0.55"/>
<circle cx="345.80" cy="478.00" r="0.9" fill="#d8d8d8" stroke="#333" stroke-width="0.4"/>
<path d="M379.00,451.00 C379.10,451.30 379.33,452.22 379.60,452.80 C379.87,453.38 380.15,453.72 380.60,454.50 C381.05,455.28 381.82,456.55 382.30,457.50 C382.78,458.45 383.18,459.03 383.50,460.20 C383.82,461.37 384.20,463.07 384.20,464.50 C384.20,465.93 383.73,467.15 383.50,468.80 C383.27,470.45 383.03,472.27 382.80,474.40 C382.57,476.53 382.27,479.22 382.10,481.60 C381.93,483.98 381.93,486.10 381.80,488.70 C381.67,491.30 381.45,494.37 381.30,497.20 C381.15,500.03 381.07,503.45 380.90,505.70 C380.73,507.95 380.62,509.55 380.30,510.70 C379.98,511.85 379.43,512.60 379.00,512.60 C378.57,512.60 378.02,511.85 377.70,510.70 C377.38,509.55 377.27,507.95 377.10,505.70 C376.93,503.45 376.85,500.03 376.70,497.20 C376.55,494.37 376.33,491.30 376.20,488.70 C376.07,486.10 376.07,483.98 375.90,481.60 C375.73,479.22 375.43,476.53 375.20,474.40 C374.97,472.27 374.73,470.45 374.50,468.80 C374.27,467.15 373.80,465.93 373.80,464.50 C373.80,463.07 374.18,461.37 374.50,460.20 C374.82,459.03 375.22,458.45 375.70,457.50 C376.18,456.55 376.95,455.28 377.40,454.50 C377.85,453.72 378.13,453.38 378.40,452.80 C378.67,452.22 378.90,451.30 379.00,451.00 Z" fill="#a6c1db" stroke="#1e1e1e" stroke-width="1.2" stroke-linejoin="round"/>
<line x1="379.00" y1="451.00" x2="379.00" y2="512.60" stroke="#1a1a1a" stroke-width="1.0"/>
<rect x="377.80" y="467.30" width="2.4" height="24.20" fill="#9a9a9a" stroke="#222" stroke-width="0.55"/>
<circle cx="379.00" cy="475.90" r="0.9" fill="#d8d8d8" stroke="#333" stroke-width="0.4"/>
<rect x="326.00" y="448.70" width="73.10" height="67.00" fill="none" stroke="#333" stroke-width="1.1"/>
<rect x="399.10" y="448.70" width="10.90" height="67.00" fill="#d9d9d9" stroke="#333" stroke-width="1.1"/>
<text transform="translate(402.05,482.20) rotate(90)" font-size="6.95" font-family='"Liberation Sans", sans-serif' fill="#1a1a1a" stroke="#1a1a1a" stroke-width="0.15" text-anchor="middle">HRA000425</text>
<line x1="324.00" y1="503.90" x2="326.00" y2="503.90" stroke="#333" stroke-width="0.9" />
<text x="322.60" y="506.00" font-size="5.9" font-family='"Liberation Sans", sans-serif' font-weight="normal" fill="#333" text-anchor="end"  stroke="#333" stroke-width="0.06">1</text>
<line x1="324.00" y1="489.10" x2="326.00" y2="489.10" stroke="#333" stroke-width="0.9" />
<text x="322.60" y="491.20" font-size="5.9" font-family='"Liberation Sans", sans-serif' font-weight="normal" fill="#333" text-anchor="end"  stroke="#333" stroke-width="0.06">2</text>
<line x1="324.00" y1="474.30" x2="326.00" y2="474.30" stroke="#333" stroke-width="0.9" />
<text x="322.60" y="476.40" font-size="5.9" font-family='"Liberation Sans", sans-serif' font-weight="normal" fill="#333" text-anchor="end"  stroke="#333" stroke-width="0.06">3</text>
<line x1="324.00" y1="459.50" x2="326.00" y2="459.50" stroke="#333" stroke-width="0.9" />
<text x="322.60" y="461.60" font-size="5.9" font-family='"Liberation Sans", sans-serif' font-weight="normal" fill="#333" text-anchor="end"  stroke="#333" stroke-width="0.06">4</text>
<line x1="345.80" y1="515.70" x2="345.80" y2="517.70" stroke="#333" stroke-width="0.9" />
<text x="345.80" y="524.90" font-size="6.9" font-family='"Liberation Sans", sans-serif' font-weight="normal" fill="#1a1a1a" text-anchor="middle"  stroke="#1a1a1a" stroke-width="0.15">Keloid</text>
<line x1="379.00" y1="515.70" x2="379.00" y2="517.70" stroke="#333" stroke-width="0.9" />
<text x="382.30" y="524.90" font-size="6.9" font-family='"Liberation Sans", sans-serif' font-weight="normal" fill="#1a1a1a" text-anchor="middle"  stroke="#1a1a1a" stroke-width="0.15">normal</text>
<text transform="translate(317.10,482.20) rotate(-90)" font-size="6.75" font-family='"Liberation Sans", sans-serif' fill="#1a1a1a" stroke="#1a1a1a" stroke-width="0.15" text-anchor="middle">CTHRC1 expression</text>
<rect x="435.00" y="448.70" width="72.00" height="67.00" fill="#ffffff" />
<line x1="435.00" y1="497.87" x2="507.00" y2="497.87" stroke="#f2f2f2" stroke-width="0.5" />
<line x1="435.00" y1="480.19" x2="507.00" y2="480.19" stroke="#f2f2f2" stroke-width="0.5" />
<line x1="435.00" y1="462.53" x2="507.00" y2="462.53" stroke="#f2f2f2" stroke-width="0.5" />
<line x1="435.00" y1="506.70" x2="507.00" y2="506.70" stroke="#e6e6e6" stroke-width="0.8" />
<line x1="435.00" y1="489.03" x2="507.00" y2="489.03" stroke="#e6e6e6" stroke-width="0.8" />
<line x1="435.00" y1="471.36" x2="507.00" y2="471.36" stroke="#e6e6e6" stroke-width="0.8" />
<line x1="435.00" y1="453.69" x2="507.00" y2="453.69" stroke="#e6e6e6" stroke-width="0.8" />
<line x1="453.50" y1="448.70" x2="453.50" y2="515.70" stroke="#e6e6e6" stroke-width="0.8" />
<line x1="486.70" y1="448.70" x2="486.70" y2="515.70" stroke="#e6e6e6" stroke-width="0.8" />
<path d="M453.50,451.40 C453.58,451.83 453.80,453.00 454.00,454.00 C454.20,455.00 454.40,455.88 454.70,457.40 C455.00,458.92 455.20,461.20 455.80,463.10 C456.40,465.00 457.50,466.92 458.30,468.80 C459.10,470.68 460.08,472.75 460.60,474.40 C461.12,476.05 461.48,477.27 461.40,478.70 C461.32,480.13 459.97,481.57 460.10,483.00 C460.23,484.43 461.68,486.12 462.20,487.30 C462.72,488.48 463.32,488.92 463.20,490.10 C463.08,491.28 462.32,492.75 461.50,494.40 C460.68,496.05 459.30,498.12 458.30,500.00 C457.30,501.88 456.18,504.28 455.50,505.70 C454.82,507.12 454.53,507.67 454.20,508.50 C453.87,509.33 453.73,510.70 453.50,510.70 C453.27,510.70 453.13,509.33 452.80,508.50 C452.47,507.67 452.18,507.12 451.50,505.70 C450.82,504.28 449.70,501.88 448.70,500.00 C447.70,498.12 446.32,496.05 445.50,494.40 C444.68,492.75 443.92,491.28 443.80,490.10 C443.68,488.92 444.28,488.48 444.80,487.30 C445.32,486.12 446.77,484.43 446.90,483.00 C447.03,481.57 445.68,480.13 445.60,478.70 C445.52,477.27 445.88,476.05 446.40,474.40 C446.92,472.75 447.90,470.68 448.70,468.80 C449.50,466.92 450.60,465.00 451.20,463.10 C451.80,461.20 452.00,458.92 452.30,457.40 C452.60,455.88 452.80,455.00 453.00,454.00 C453.20,453.00 453.42,451.83 453.50,451.40 Z" fill="#efc87e" stroke="#1e1e1e" stroke-width="1.2" stroke-linejoin="round"/>
<line x1="453.50" y1="451.40" x2="453.50" y2="510.70" stroke="#1a1a1a" stroke-width="1.0"/>
<rect x="452.30" y="476.60" width="2.4" height="19.20" fill="#9a9a9a" stroke="#222" stroke-width="0.55"/>
<circle cx="453.50" cy="486.50" r="0.9" fill="#d8d8d8" stroke="#333" stroke-width="0.4"/>
<path d="M486.70,475.20 C486.75,476.00 486.93,477.75 487.00,480.00 C487.07,482.25 486.97,486.07 487.10,488.70 C487.23,491.33 487.62,493.92 487.80,495.80 C487.98,497.68 488.20,498.58 488.20,500.00 C488.20,501.42 487.97,502.87 487.80,504.30 C487.63,505.73 487.38,507.17 487.20,508.60 C487.02,510.03 486.87,512.90 486.70,512.90 C486.53,512.90 486.38,510.03 486.20,508.60 C486.02,507.17 485.77,505.73 485.60,504.30 C485.43,502.87 485.20,501.42 485.20,500.00 C485.20,498.58 485.42,497.68 485.60,495.80 C485.78,493.92 486.17,491.33 486.30,488.70 C486.43,486.07 486.33,482.25 486.40,480.00 C486.47,477.75 486.65,476.00 486.70,475.20 Z" fill="#efc87e" stroke="#1e1e1e" stroke-width="1.2" stroke-linejoin="round"/>
<line x1="486.70" y1="475.20" x2="486.70" y2="512.90" stroke="#1a1a1a" stroke-width="1.0"/>
<rect x="485.50" y="495.80" width="2.4" height="7.10" fill="#9a9a9a" stroke="#222" stroke-width="0.55"/>
<circle cx="486.70" cy="499.80" r="0.9" fill="#d8d8d8" stroke="#333" stroke-width="0.4"/>
<rect x="435.00" y="448.70" width="72.00" height="67.00" fill="none" stroke="#333" stroke-width="1.1"/>
<rect x="507.00" y="448.70" width="10.60" height="67.00" fill="#d9d9d9" stroke="#333" stroke-width="1.1"/>
<text transform="translate(509.80,482.20) rotate(90)" font-size="6.95" font-family='"Liberation Sans", sans-serif' fill="#1a1a1a" stroke="#1a1a1a" stroke-width="0.15" text-anchor="middle">GSE153596</text>
<line x1="433.00" y1="506.70" x2="435.00" y2="506.70" stroke="#333" stroke-width="0.9" />
<text x="431.60" y="508.80" font-size="5.9" font-family='"Liberation Sans", sans-serif' font-weight="normal" fill="#333" text-anchor="end"  stroke="#333" stroke-width="0.06">1</text>
<line x1="433.00" y1="489.03" x2="435.00" y2="489.03" stroke="#333" stroke-width="0.9" />
<text x="431.60" y="491.13" font-size="5.9" font-family='"Liberation Sans", sans-serif' font-weight="normal" fill="#333" text-anchor="end"  stroke="#333" stroke-width="0.06">2</text>
<line x1="433.00" y1="471.36" x2="435.00" y2="471.36" stroke="#333" stroke-width="0.9" />
<text x="431.60" y="473.46" font-size="5.9" font-family='"Liberation Sans", sans-serif' font-weight="normal" fill="#333" text-anchor="end"  stroke="#333" stroke-width="0.06">3</text>
<line x1="433.00" y1="453.69" x2="435.00" y2="453.69" stroke="#333" stroke-width="0.9" />
<text x="431.60" y="455.79" font-size="5.9" font-family='"Liberation Sans", sans-serif' font-weight="normal" fill="#333" text-anchor="end"  stroke="#333" stroke-width="0.06">4</text>
<line x1="453.50" y1="515.70" x2="453.50" y2="517.70" stroke="#333" stroke-width="0.9" />
<text x="453.50" y="525.00" font-size="6.9" font-family='"Liberation Sans", sans-serif' font-weight="normal" fill="#1a1a1a" text-anchor="middle"  stroke="#1a1a1a" stroke-width="0.15">wound</text>
<line x1="486.70" y1="515.70" x2="486.70" y2="517.70" stroke="#333" stroke-width="0.9" />
<text x="486.70" y="525.00" font-size="6.9" font-family='"Liberation Sans", sans-serif' font-weight="normal" fill="#1a1a1a" text-anchor="middle"  stroke="#1a1a1a" stroke-width="0.15">unwound</text>
<text transform="translate(425.70,482.20) rotate(-90)" font-size="6.75" font-family='"Liberation Sans", sans-serif' fill="#1a1a1a" stroke="#1a1a1a" stroke-width="0.15" text-anchor="middle">Cthrc1 expression</text>
<text x="233.10" y="523.80" font-size="14.5" font-family='"Liberation Sans", sans-serif' font-weight="normal" fill="#111" text-anchor="start" >F</text>
<text x="307.60" y="539.60" font-size="6.1" font-family='"Liberation Sans", sans-serif' font-weight="normal" fill="#222" text-anchor="start"  stroke="#222" stroke-width="0.06">PROMO predict transcription factor binding sites:</text>
<text x="315.70" y="548.90" font-size="6.2" font-family='"Liberation Sans", sans-serif' font-weight="normal" fill="#222" text-anchor="start"  stroke="#222" stroke-width="0.06">STAT4, JUN, YY1, SP1, PEA3, WT1</text>
<line x1="304.00" y1="549.60" x2="310.60" y2="560.40" stroke="#333" stroke-width="0.8" />
<line x1="345.10" y1="560.00" x2="448.50" y2="549.60" stroke="#333" stroke-width="0.8" />
<path d="M284.40,576.90 L284.40,576.72 L284.90,576.66 L285.40,576.50 L285.90,576.63 L286.40,576.56 L286.90,576.46 L287.40,576.53 L287.90,576.33 L288.40,576.22 L288.90,576.09 L289.40,576.29 L289.90,576.19 L290.40,576.28 L290.90,576.06 L291.40,576.16 L291.90,576.47 L292.40,576.22 L292.90,576.30 L293.40,576.48 L293.90,576.55 L294.40,576.76 L294.90,576.84 L295.40,576.62 L295.90,576.73 L296.40,576.61 L296.90,576.51 L297.40,576.48 L297.90,576.22 L298.40,576.13 L298.90,575.90 L299.40,575.95 L299.90,575.88 L300.40,575.94 L300.90,575.93 L301.40,576.08 L301.90,576.25 L302.40,576.10 L302.90,576.21 L303.40,576.35 L303.90,576.48 L304.40,576.67 L304.90,576.70 L305.40,576.58 L305.90,576.50 L306.40,576.07 L306.90,576.00 L307.40,575.68 L307.90,575.77 L308.40,575.60 L308.90,575.77 L309.40,576.26 L309.90,576.38 L310.40,576.31 L310.90,576.33 L311.40,575.95 L311.90,575.91 L312.40,575.77 L312.90,575.34 L313.40,575.11 L313.90,575.21 L314.40,575.31 L314.90,575.36 L315.40,575.36 L315.90,575.04 L316.40,574.78 L316.90,574.29 L317.40,574.02 L317.90,573.88 L318.40,573.69 L318.90,574.17 L319.40,574.44 L319.90,574.94 L320.40,574.48 L320.90,573.79 L321.40,573.63 L321.90,573.28 L322.40,573.54 L322.90,573.73 L323.40,574.26 L323.90,574.78 L324.40,573.93 L324.90,573.43 L325.40,573.19 L325.90,572.80 L326.40,573.11 L326.90,573.38 L327.40,573.74 L327.90,574.42 L328.40,574.39 L328.90,573.20 L329.40,572.77 L329.90,572.42 L330.40,572.39 L330.90,573.12 L331.40,573.85 L331.90,572.59 L332.40,571.44 L332.90,570.71 L333.40,571.08 L333.90,571.90 L334.40,573.29 L334.90,574.16 L335.40,573.06 L335.90,572.49 L336.40,572.11 L336.90,572.16 L337.40,573.00 L337.90,573.89 L338.40,574.54 L338.90,574.33 L339.40,574.05 L339.90,573.84 L340.40,573.75 L340.90,574.07 L341.40,574.90 L341.90,575.24 L342.40,575.67 L342.90,575.39 L343.40,575.26 L343.90,575.46 L344.40,575.80 L344.90,575.88 L345.40,575.74 L345.90,574.80 L346.40,574.21 L346.90,573.62 L347.40,573.88 L347.90,572.88 L348.40,571.55 L348.90,570.67 L349.40,571.20 L349.90,572.31 L350.40,573.59 L350.90,571.88 L351.40,570.29 L351.90,569.06 L352.40,568.20 L352.90,568.73 L353.40,569.89 L353.90,571.40 L354.40,572.46 L354.90,571.45 L355.40,570.85 L355.90,571.03 L356.40,571.91 L356.90,573.37 L357.40,574.00 L357.90,573.40 L358.40,573.56 L358.90,574.36 L359.40,574.17 L359.90,574.43 L360.40,575.34 L360.90,576.15 L361.40,576.59 L361.90,575.88 L362.40,575.46 L362.90,575.07 L363.40,575.54 L363.90,575.77 L364.40,576.29 L364.90,576.49 L365.40,576.75 L365.90,576.53 L366.40,576.81 L366.90,576.54 L367.40,576.28 L367.90,575.97 L368.40,575.78 L368.90,575.66 L369.40,575.68 L369.90,575.86 L370.40,576.32 L370.90,576.42 L371.40,576.48 L371.90,576.56 L372.40,576.71 L372.90,576.53 L373.40,576.42 L373.90,576.40 L374.40,576.23 L374.90,576.16 L375.40,575.96 L375.90,575.89 L376.40,576.10 L376.90,576.01 L377.40,576.04 L377.90,576.24 L378.40,576.43 L378.90,576.64 L379.40,576.58 L379.90,576.67 L380.40,576.73 L380.90,576.54 L381.40,576.64 L381.90,575.94 L382.40,575.17 L382.90,573.23 L383.40,571.03 L383.90,569.13 L384.40,568.16 L384.90,569.03 L385.40,570.99 L385.90,573.11 L386.40,572.83 L386.90,573.14 L387.40,573.90 L387.90,574.84 L388.40,575.89 L388.90,576.10 L389.40,575.54 L389.90,575.47 L390.40,575.62 L390.90,575.72 L391.40,576.24 L391.90,576.38 L392.40,576.71 L392.90,576.71 L393.40,576.61 L393.90,576.56 L394.40,576.56 L394.90,576.71 L395.40,576.60 L395.90,576.64 L396.40,576.63 L396.90,576.42 L397.40,576.20 L397.90,576.09 L398.40,576.03 L398.90,575.86 L399.40,576.03 L399.90,576.04 L400.40,575.95 L400.90,576.07 L401.40,576.17 L401.90,576.20 L402.40,576.23 L402.90,576.38 L403.40,576.54 L403.90,576.43 L404.40,576.44 L404.90,576.67 L405.40,576.75 L405.90,576.70 L406.40,576.32 L406.90,576.50 L407.40,576.14 L407.90,576.06 L408.40,576.02 L408.90,575.74 L409.40,575.93 L409.90,575.85 L410.40,575.76 L410.90,575.97 L411.40,575.79 L411.90,576.12 L412.40,576.29 L412.90,576.45 L413.40,576.37 L413.90,576.53 L414.40,576.54 L414.90,576.58 L415.40,576.51 L415.90,576.40 L416.40,576.41 L416.90,576.49 L417.40,576.28 L417.90,576.26 L418.40,576.20 L418.90,575.94 L419.40,575.78 L419.90,575.94 L420.40,575.92 L420.90,575.95 L421.40,575.92 L421.90,576.09 L422.40,576.18 L422.90,576.25 L423.40,576.48 L423.90,576.43 L424.40,576.45 L424.90,576.79 L425.40,576.45 L425.90,576.46 L426.40,576.58 L426.90,576.36 L427.40,576.17 L427.90,575.94 L428.40,575.99 L428.90,575.81 L429.40,575.63 L429.90,575.62 L430.40,575.59 L430.90,575.82 L431.40,575.85 L431.90,576.13 L432.40,576.09 L432.90,576.18 L433.40,576.36 L433.90,576.43 L434.40,576.68 L434.90,576.49 L435.40,576.45 L435.90,576.39 L436.40,576.47 L436.90,576.28 L437.40,576.33 L437.90,576.00 L438.40,575.90 L438.90,575.98 L439.40,576.00 L439.90,575.85 L440.40,575.82 L440.90,575.80 L441.40,575.99 L441.90,576.26 L442.40,576.11 L442.90,576.49 L443.40,576.34 L443.90,576.64 L444.40,576.65 L444.90,576.54 L445.40,576.74 L445.90,576.68 L446.40,576.47 L446.90,576.30 L447.40,576.15 L447.90,576.08 L448.40,575.87 L448.90,575.93 L449.40,575.70 L449.90,575.97 L450.40,575.94 L450.90,575.89 L451.40,576.06 L451.90,576.02 L452.40,576.17 L452.90,576.33 L453.40,576.32 L453.90,576.51 L454.40,576.66 L454.90,576.69 L455.40,576.56 L455.90,576.56 L456.40,576.79 L456.90,576.54 L457.40,576.46 L457.90,576.57 L458.40,576.48 L458.90,576.52 L459.40,576.31 L459.90,576.21 L460.40,576.07 L460.90,576.18 L461.40,575.79 L461.90,575.92 L462.40,575.97 L462.90,575.88 L463.40,576.05 L463.90,576.17 L464.40,576.21 L464.90,576.53 L465.40,576.46 L465.90,576.58 L466.40,576.45 L466.90,576.50 L467.40,576.76 L467.90,576.71 L468.40,576.84 L468.90,576.74 L469.40,576.61 L469.90,576.58 L470.40,576.73 L470.90,576.79 L471.40,576.83 L471.90,576.68 L472.40,576.58 L472.90,576.85 L473.40,576.63 L473.90,576.89 L474.40,576.83 L474.90,576.82 L475.40,576.66 L475.90,576.79 L476.40,576.78 L476.90,576.68 L477.40,576.86 L477.90,576.64 L478.40,576.85 L478.90,576.70 L479.40,576.77 L479.90,576.76 L480.40,576.61 L480.90,576.58 L481.40,576.52 L481.90,576.41 L482.40,576.26 L482.90,576.27 L483.40,576.13 L483.90,575.88 L484.40,575.81 L484.90,575.82 L485.40,575.72 L485.90,575.86 L486.40,575.86 L486.90,576.19 L487.40,576.13 L487.90,576.23 L488.40,576.30 L488.90,576.59 L489.40,576.66 L489.90,576.50 L490.40,576.70 L490.90,576.36 L491.40,576.32 L491.90,576.47 L492.40,576.31 L492.90,576.00 L493.40,576.04 L493.90,575.98 L494.40,575.64 L494.90,575.75 L495.40,575.64 L495.90,575.93 L496.40,575.94 L496.90,575.96 L497.40,576.33 L497.90,576.40 L498.40,576.35 L498.90,576.36 L499.40,576.42 L499.90,576.77 L500.40,576.60 L500.90,576.45 L501.40,576.45 L501.90,576.28 L502.40,576.33 L502.90,576.23 L503.40,576.09 L503.90,576.00 L504.40,575.74 L504.90,575.72 L505.40,575.72 L505.90,575.93 L506.40,576.01 L506.90,576.13 L507.40,576.04 L507.90,576.12 L508.40,576.26 L508.90,576.65 L509.40,576.73 L509.90,576.48 L510.40,576.68 L510.90,576.60 L511.40,576.77 L511.90,576.73 L512.40,576.72 L512.90,576.75 L513.40,576.69 L513.90,576.90 L514.40,576.65 L514.80,576.90 Z" fill="#d4609a"/>
<path d="M284.40,595.32 L284.40,595.15 L284.90,595.09 L285.40,595.09 L285.90,595.27 L286.40,595.32 L286.90,595.19 L287.40,595.22 L287.90,595.04 L288.40,595.08 L288.90,595.11 L289.40,595.12 L289.90,595.09 L290.40,595.27 L290.90,595.17 L291.40,595.26 L291.90,595.00 L292.40,595.30 L292.90,595.03 L293.40,595.29 L293.90,595.07 L294.40,595.18 L294.90,595.13 L295.40,594.95 L295.90,595.20 L296.40,595.13 L296.90,594.77 L297.40,594.84 L297.90,594.90 L298.40,594.51 L298.90,594.46 L299.40,594.70 L299.90,594.57 L300.40,594.68 L300.90,594.66 L301.40,594.61 L301.90,594.84 L302.40,594.74 L302.90,595.04 L303.40,595.07 L303.90,594.90 L304.40,595.09 L304.90,595.12 L305.40,595.08 L305.90,595.13 L306.40,595.18 L306.90,595.30 L307.40,595.06 L307.90,594.96 L308.40,594.93 L308.90,595.00 L309.40,595.02 L309.90,594.90 L310.40,594.63 L310.90,594.47 L311.40,594.54 L311.90,594.44 L312.40,594.42 L312.90,594.47 L313.40,594.52 L313.90,594.70 L314.40,594.64 L314.90,594.12 L315.40,594.06 L315.90,593.94 L316.40,594.08 L316.90,594.17 L317.40,594.41 L317.90,594.12 L318.40,593.88 L318.90,593.22 L319.40,592.95 L319.90,592.58 L320.40,592.90 L320.90,593.14 L321.40,592.73 L321.90,591.63 L322.40,591.32 L322.90,591.41 L323.40,592.35 L323.90,593.21 L324.40,592.52 L324.90,591.79 L325.40,591.54 L325.90,591.19 L326.40,591.55 L326.90,591.61 L327.40,592.33 L327.90,592.99 L328.40,593.40 L328.90,592.99 L329.40,592.69 L329.90,592.03 L330.40,591.44 L330.90,591.41 L331.40,591.52 L331.90,591.94 L332.40,592.44 L332.90,592.84 L333.40,593.32 L333.90,593.06 L334.40,592.65 L334.90,592.29 L335.40,591.79 L335.90,591.45 L336.40,591.51 L336.90,591.89 L337.40,592.52 L337.90,592.99 L338.40,593.47 L338.90,592.82 L339.40,592.46 L339.90,592.00 L340.40,592.11 L340.90,592.76 L341.40,593.29 L341.90,593.68 L342.40,593.92 L342.90,593.50 L343.40,593.73 L343.90,593.99 L344.40,594.39 L344.90,594.89 L345.40,595.07 L345.90,595.18 L346.40,595.02 L346.90,594.88 L347.40,594.76 L347.90,593.93 L348.40,593.32 L348.90,592.64 L349.40,592.18 L349.90,592.16 L350.40,592.95 L350.90,591.52 L351.40,588.74 L351.90,586.60 L352.40,586.44 L352.90,588.39 L353.40,591.03 L353.90,591.37 L354.40,590.86 L354.90,591.18 L355.40,592.16 L355.90,593.27 L356.40,593.68 L356.90,593.53 L357.40,593.81 L357.90,593.91 L358.40,594.27 L358.90,594.66 L359.40,594.85 L359.90,594.83 L360.40,594.77 L360.90,594.43 L361.40,594.32 L361.90,594.29 L362.40,594.26 L362.90,594.49 L363.40,594.54 L363.90,594.84 L364.40,595.03 L364.90,594.93 L365.40,594.92 L365.90,594.52 L366.40,594.21 L366.90,594.19 L367.40,594.30 L367.90,594.45 L368.40,594.75 L368.90,594.84 L369.40,595.17 L369.90,595.25 L370.40,595.20 L370.90,595.07 L371.40,595.05 L371.90,595.09 L372.40,594.99 L372.90,595.19 L373.40,595.31 L373.90,595.15 L374.40,595.16 L374.90,595.26 L375.40,595.09 L375.90,595.20 L376.40,595.24 L376.90,595.21 L377.40,594.99 L377.90,595.32 L378.40,595.19 L378.90,595.22 L379.40,595.25 L379.90,595.17 L380.40,595.24 L380.90,595.00 L381.40,595.14 L381.90,595.02 L382.40,595.04 L382.90,594.42 L383.40,593.24 L383.90,591.38 L384.40,589.81 L384.90,588.96 L385.40,589.59 L385.90,591.39 L386.40,593.37 L386.90,593.34 L387.40,593.42 L387.90,594.10 L388.40,594.56 L388.90,594.90 L389.40,594.93 L389.90,595.12 L390.40,595.08 L390.90,595.20 L391.40,595.06 L391.90,595.21 L392.40,595.15 L392.90,595.19 L393.40,595.21 L393.90,595.27 L394.40,595.24 L394.90,595.13 L395.40,595.23 L395.90,595.30 L396.40,595.04 L396.90,595.22 L397.40,594.99 L397.90,595.11 L398.40,595.18 L398.90,595.01 L399.40,595.01 L399.90,595.21 L400.40,595.28 L400.90,595.10 L401.40,595.03 L401.90,595.11 L402.40,595.05 L402.90,595.18 L403.40,595.10 L403.90,595.23 L404.40,595.18 L404.90,595.19 L405.40,595.19 L405.90,595.18 L406.40,595.04 L406.90,595.26 L407.40,595.25 L407.90,595.23 L408.40,594.98 L408.90,595.14 L409.40,595.30 L409.90,595.03 L410.40,595.01 L410.90,595.03 L411.40,595.19 L411.90,595.06 L412.40,595.21 L412.90,595.27 L413.40,595.02 L413.90,595.03 L414.40,595.25 L414.90,595.01 L415.40,595.31 L415.90,595.21 L416.40,595.32 L416.90,595.26 L417.40,595.26 L417.90,595.07 L418.40,595.22 L418.90,595.25 L419.40,595.25 L419.90,595.21 L420.40,595.01 L420.90,595.09 L421.40,595.24 L421.90,594.99 L422.40,594.96 L422.90,594.87 L423.40,594.69 L423.90,594.48 L424.40,594.30 L424.90,594.34 L425.40,594.33 L425.90,594.49 L426.40,594.58 L426.90,594.83 L427.40,594.96 L427.90,595.02 L428.40,595.01 L428.90,595.20 L429.40,594.99 L429.90,595.14 L430.40,595.01 L430.90,595.06 L431.40,594.93 L431.90,594.97 L432.40,594.95 L432.90,594.81 L433.40,594.55 L433.90,594.29 L434.40,594.10 L434.90,594.28 L435.40,594.33 L435.90,594.45 L436.40,594.65 L436.90,594.86 L437.40,595.04 L437.90,595.08 L438.40,595.21 L438.90,595.05 L439.40,595.09 L439.90,594.98 L440.40,594.98 L440.90,595.04 L441.40,594.94 L441.90,595.21 L442.40,595.04 L442.90,594.66 L443.40,594.65 L443.90,594.56 L444.40,594.23 L444.90,594.27 L445.40,594.26 L445.90,594.46 L446.40,594.66 L446.90,594.89 L447.40,594.86 L447.90,594.85 L448.40,594.91 L448.90,595.02 L449.40,594.98 L449.90,595.19 L450.40,595.21 L450.90,594.98 L451.40,595.07 L451.90,594.99 L452.40,595.14 L452.90,594.94 L453.40,594.70 L453.90,594.45 L454.40,594.29 L454.90,594.26 L455.40,594.43 L455.90,594.52 L456.40,594.50 L456.90,594.62 L457.40,594.93 L457.90,595.13 L458.40,595.04 L458.90,595.11 L459.40,595.18 L459.90,595.24 L460.40,595.18 L460.90,595.11 L461.40,595.28 L461.90,595.13 L462.40,594.99 L462.90,595.06 L463.40,595.23 L463.90,595.17 L464.40,595.28 L464.90,595.06 L465.40,595.10 L465.90,595.26 L466.40,595.13 L466.90,595.11 L467.40,595.12 L467.90,595.19 L468.40,595.21 L468.90,595.20 L469.40,594.97 L469.90,595.20 L470.40,595.14 L470.90,595.16 L471.40,595.26 L471.90,595.18 L472.40,595.25 L472.90,595.21 L473.40,595.19 L473.90,595.20 L474.40,594.99 L474.90,595.22 L475.40,595.20 L475.90,595.09 L476.40,595.18 L476.90,595.14 L477.40,595.09 L477.90,595.29 L478.40,595.08 L478.90,595.28 L479.40,595.23 L479.90,595.03 L480.40,594.97 L480.90,595.07 L481.40,595.22 L481.90,595.07 L482.40,595.05 L482.90,594.73 L483.40,594.79 L483.90,594.64 L484.40,594.36 L484.90,594.30 L485.40,594.34 L485.90,594.49 L486.40,594.47 L486.90,594.80 L487.40,594.77 L487.90,595.06 L488.40,595.10 L488.90,595.08 L489.40,594.85 L489.90,594.69 L490.40,594.67 L490.90,594.37 L491.40,594.14 L491.90,594.15 L492.40,594.12 L492.90,594.27 L493.40,594.43 L493.90,594.75 L494.40,594.94 L494.90,595.16 L495.40,594.93 L495.90,595.01 L496.40,595.17 L496.90,594.98 L497.40,595.00 L497.90,595.27 L498.40,595.03 L498.90,595.17 L499.40,595.21 L499.90,595.23 L500.40,595.18 L500.90,595.30 L501.40,595.30 L501.90,595.28 L502.40,595.21 L502.90,595.26 L503.40,595.28 L503.90,595.03 L504.40,595.19 L504.90,595.14 L505.40,595.10 L505.90,594.97 L506.40,595.20 L506.90,595.10 L507.40,594.76 L507.90,594.56 L508.40,594.32 L508.90,594.22 L509.40,594.08 L509.90,594.06 L510.40,593.84 L510.90,594.05 L511.40,594.35 L511.90,594.51 L512.40,594.90 L512.90,594.95 L513.40,594.91 L513.90,595.24 L514.40,595.09 L514.80,595.32 Z" fill="#3db6c9"/>
<path d="M284.40,613.74 L284.40,613.65 L284.90,613.50 L285.40,613.50 L285.90,613.44 L286.40,613.67 L286.90,613.66 L287.40,613.69 L287.90,613.66 L288.40,613.48 L288.90,613.69 L289.40,613.55 L289.90,613.67 L290.40,613.64 L290.90,613.59 L291.40,613.45 L291.90,613.53 L292.40,613.73 L292.90,613.64 L293.40,613.69 L293.90,613.44 L294.40,613.46 L294.90,613.46 L295.40,613.45 L295.90,613.48 L296.40,613.41 L296.90,613.46 L297.40,613.65 L297.90,613.44 L298.40,613.57 L298.90,613.48 L299.40,613.54 L299.90,613.59 L300.40,613.61 L300.90,613.59 L301.40,613.63 L301.90,613.70 L302.40,613.45 L302.90,613.46 L303.40,613.40 L303.90,613.50 L304.40,613.55 L304.90,613.48 L305.40,613.69 L305.90,613.50 L306.40,613.58 L306.90,613.68 L307.40,613.67 L307.90,613.56 L308.40,613.65 L308.90,613.58 L309.40,613.53 L309.90,613.60 L310.40,613.69 L310.90,613.57 L311.40,613.66 L311.90,613.66 L312.40,613.67 L312.90,613.61 L313.40,613.70 L313.90,613.49 L314.40,613.37 L314.90,613.54 L315.40,613.39 L315.90,613.26 L316.40,613.51 L316.90,613.38 L317.40,613.05 L317.90,612.93 L318.40,612.90 L318.90,612.98 L319.40,612.82 L319.90,612.64 L320.40,612.64 L320.90,612.72 L321.40,613.01 L321.90,612.88 L322.40,613.16 L322.90,613.03 L323.40,613.08 L323.90,612.63 L324.40,612.60 L324.90,612.42 L325.40,612.51 L325.90,612.33 L326.40,612.36 L326.90,612.43 L327.40,612.63 L327.90,612.65 L328.40,612.95 L328.90,613.12 L329.40,613.02 L329.90,612.66 L330.40,612.69 L330.90,612.51 L331.40,612.46 L331.90,612.22 L332.40,612.27 L332.90,612.35 L333.40,612.66 L333.90,612.68 L334.40,612.89 L334.90,613.15 L335.40,613.23 L335.90,612.75 L336.40,612.92 L336.90,612.75 L337.40,612.68 L337.90,612.53 L338.40,612.73 L338.90,612.65 L339.40,612.79 L339.90,612.75 L340.40,613.18 L340.90,613.19 L341.40,613.25 L341.90,613.18 L342.40,613.41 L342.90,613.48 L343.40,613.45 L343.90,613.61 L344.40,613.71 L344.90,613.56 L345.40,613.42 L345.90,613.47 L346.40,613.60 L346.90,613.35 L347.40,613.07 L347.90,612.86 L348.40,612.18 L348.90,611.71 L349.40,611.46 L349.90,611.58 L350.40,612.08 L350.90,611.77 L351.40,611.13 L351.90,610.61 L352.40,610.90 L352.90,611.30 L353.40,612.16 L353.90,612.81 L354.40,612.17 L354.90,612.18 L355.40,612.16 L355.90,612.46 L356.40,612.94 L356.90,613.28 L357.40,613.44 L357.90,613.64 L358.40,613.42 L358.90,613.70 L359.40,613.45 L359.90,613.66 L360.40,613.63 L360.90,613.60 L361.40,613.73 L361.90,613.70 L362.40,613.61 L362.90,613.59 L363.40,613.43 L363.90,613.39 L364.40,613.72 L364.90,613.55 L365.40,613.69 L365.90,613.46 L366.40,613.63 L366.90,613.43 L367.40,613.55 L367.90,613.70 L368.40,613.74 L368.90,613.65 L369.40,613.44 L369.90,613.69 L370.40,613.57 L370.90,613.61 L371.40,613.62 L371.90,613.46 L372.40,613.67 L372.90,613.49 L373.40,613.51 L373.90,613.41 L374.40,613.56 L374.90,613.42 L375.40,613.59 L375.90,613.54 L376.40,613.52 L376.90,613.45 L377.40,613.43 L377.90,613.70 L378.40,613.69 L378.90,613.55 L379.40,613.46 L379.90,613.55 L380.40,613.64 L380.90,613.40 L381.40,613.64 L381.90,613.71 L382.40,613.72 L382.90,613.72 L383.40,613.43 L383.90,613.50 L384.40,613.06 L384.90,612.84 L385.40,612.87 L385.90,613.17 L386.40,613.49 L386.90,613.50 L387.40,613.45 L387.90,613.49 L388.40,613.64 L388.90,613.47 L389.40,613.70 L389.90,613.63 L390.40,613.39 L390.90,613.58 L391.40,613.65 L391.90,613.47 L392.40,613.58 L392.90,613.74 L393.40,613.73 L393.90,613.65 L394.40,613.62 L394.90,613.41 L395.40,613.65 L395.90,613.44 L396.40,613.44 L396.90,613.59 L397.40,613.39 L397.90,613.47 L398.40,613.57 L398.90,613.65 L399.40,613.58 L399.90,613.42 L400.40,613.55 L400.90,613.67 L401.40,613.61 L401.90,613.57 L402.40,613.67 L402.90,613.54 L403.40,613.73 L403.90,613.45 L404.40,613.68 L404.90,613.70 L405.40,613.53 L405.90,613.63 L406.40,613.43 L406.90,613.57 L407.40,613.56 L407.90,613.45 L408.40,613.66 L408.90,613.48 L409.40,613.51 L409.90,613.59 L410.40,613.40 L410.90,613.73 L411.40,613.44 L411.90,613.69 L412.40,613.45 L412.90,613.69 L413.40,613.72 L413.90,613.56 L414.40,613.42 L414.90,613.65 L415.40,613.57 L415.90,613.53 L416.40,613.65 L416.90,613.55 L417.40,613.74 L417.90,613.58 L418.40,613.47 L418.90,613.62 L419.40,613.66 L419.90,613.72 L420.40,613.49 L420.90,613.59 L421.40,613.42 L421.90,613.48 L422.40,613.70 L422.90,613.42 L423.40,613.41 L423.90,613.45 L424.40,613.45 L424.90,613.50 L425.40,613.49 L425.90,613.51 L426.40,613.53 L426.90,613.65 L427.40,613.69 L427.90,613.49 L428.40,613.53 L428.90,613.72 L429.40,613.52 L429.90,613.53 L430.40,613.56 L430.90,613.47 L431.40,613.43 L431.90,613.61 L432.40,613.45 L432.90,613.57 L433.40,613.54 L433.90,613.60 L434.40,613.41 L434.90,613.58 L435.40,613.41 L435.90,613.62 L436.40,613.50 L436.90,613.42 L437.40,613.50 L437.90,613.61 L438.40,613.71 L438.90,613.57 L439.40,613.59 L439.90,613.46 L440.40,613.47 L440.90,613.39 L441.40,613.58 L441.90,613.60 L442.40,613.54 L442.90,613.48 L443.40,613.71 L443.90,613.66 L444.40,613.69 L444.90,613.63 L445.40,613.64 L445.90,613.40 L446.40,613.67 L446.90,613.41 L447.40,613.64 L447.90,613.67 L448.40,613.40 L448.90,613.71 L449.40,613.70 L449.90,613.69 L450.40,613.72 L450.90,613.60 L451.40,613.67 L451.90,613.68 L452.40,613.73 L452.90,613.48 L453.40,613.65 L453.90,613.42 L454.40,613.04 L454.90,612.74 L455.40,612.90 L455.90,613.15 L456.40,613.37 L456.90,613.43 L457.40,613.44 L457.90,613.69 L458.40,613.72 L458.90,613.52 L459.40,613.56 L459.90,613.56 L460.40,613.47 L460.90,613.68 L461.40,613.49 L461.90,613.59 L462.40,613.59 L462.90,613.65 L463.40,613.64 L463.90,613.54 L464.40,613.55 L464.90,613.42 L465.40,613.64 L465.90,613.49 L466.40,613.71 L466.90,613.51 L467.40,613.68 L467.90,613.44 L468.40,613.40 L468.90,613.65 L469.40,613.46 L469.90,613.66 L470.40,613.63 L470.90,613.70 L471.40,613.59 L471.90,613.70 L472.40,613.49 L472.90,613.54 L473.40,613.59 L473.90,613.49 L474.40,613.66 L474.90,613.62 L475.40,613.61 L475.90,613.74 L476.40,613.43 L476.90,613.71 L477.40,613.70 L477.90,613.46 L478.40,613.45 L478.90,613.58 L479.40,613.59 L479.90,613.69 L480.40,613.74 L480.90,613.56 L481.40,613.65 L481.90,613.69 L482.40,613.42 L482.90,613.73 L483.40,613.61 L483.90,613.48 L484.40,613.48 L484.90,613.70 L485.40,613.48 L485.90,613.54 L486.40,613.52 L486.90,613.41 L487.40,613.46 L487.90,613.53 L488.40,613.47 L488.90,613.57 L489.40,613.55 L489.90,613.45 L490.40,613.52 L490.90,613.61 L491.40,613.73 L491.90,613.46 L492.40,613.62 L492.90,613.59 L493.40,613.64 L493.90,613.55 L494.40,613.60 L494.90,613.45 L495.40,613.53 L495.90,613.54 L496.40,613.47 L496.90,613.59 L497.40,613.55 L497.90,613.48 L498.40,613.49 L498.90,613.48 L499.40,613.43 L499.90,613.54 L500.40,613.55 L500.90,613.67 L501.40,613.66 L501.90,613.59 L502.40,613.57 L502.90,613.43 L503.40,613.73 L503.90,613.62 L504.40,613.48 L504.90,613.58 L505.40,613.44 L505.90,613.68 L506.40,613.47 L506.90,613.59 L507.40,613.54 L507.90,613.71 L508.40,613.54 L508.90,613.26 L509.40,613.05 L509.90,612.95 L510.40,613.07 L510.90,613.44 L511.40,613.39 L511.90,613.56 L512.40,613.48 L512.90,613.53 L513.40,613.60 L513.90,613.43 L514.40,613.69 L514.80,613.74 Z" fill="#2e9e72"/>
<path d="M284.40,632.16 L284.40,632.07 L284.90,631.70 L285.40,631.34 L285.90,630.63 L286.40,630.26 L286.90,630.08 L287.40,630.31 L287.90,630.99 L288.40,631.65 L288.90,631.79 L289.40,631.99 L289.90,631.74 L290.40,631.61 L290.90,631.00 L291.40,630.36 L291.90,630.74 L292.40,631.35 L292.90,631.62 L293.40,631.88 L293.90,632.05 L294.40,631.78 L294.90,631.42 L295.40,631.05 L295.90,630.28 L296.40,630.13 L296.90,630.21 L297.40,630.83 L297.90,631.38 L298.40,631.53 L298.90,631.82 L299.40,631.30 L299.90,630.93 L300.40,630.10 L300.90,629.26 L301.40,628.93 L301.90,629.31 L302.40,629.78 L302.90,630.57 L303.40,630.25 L303.90,629.53 L304.40,628.87 L304.90,629.17 L305.40,629.92 L305.90,630.63 L306.40,631.38 L306.90,630.83 L307.40,630.33 L307.90,630.13 L308.40,630.04 L308.90,630.83 L309.40,631.36 L309.90,631.86 L310.40,631.81 L310.90,632.10 L311.40,631.92 L311.90,631.94 L312.40,631.48 L312.90,630.87 L313.40,630.32 L313.90,630.01 L314.40,630.15 L314.90,630.71 L315.40,631.25 L315.90,631.83 L316.40,631.67 L316.90,631.28 L317.40,630.31 L317.90,629.44 L318.40,629.19 L318.90,629.23 L319.40,629.68 L319.90,630.58 L320.40,630.92 L320.90,629.62 L321.40,628.44 L321.90,628.03 L322.40,628.32 L322.90,629.20 L323.40,630.21 L323.90,629.83 L324.40,628.26 L324.90,626.98 L325.40,626.47 L325.90,627.33 L326.40,628.91 L326.90,628.13 L327.40,626.64 L327.90,626.08 L328.40,626.86 L328.90,628.80 L329.40,627.93 L329.90,626.86 L330.40,627.44 L330.90,628.82 L331.40,628.21 L331.90,625.92 L332.40,624.63 L332.90,625.19 L333.40,626.98 L333.90,628.17 L334.40,626.56 L334.90,625.98 L335.40,626.89 L335.90,628.91 L336.40,628.33 L336.90,627.85 L337.40,628.06 L337.90,629.06 L338.40,630.12 L338.90,630.97 L339.40,630.26 L339.90,629.32 L340.40,629.05 L340.90,629.24 L341.40,629.76 L341.90,630.75 L342.40,630.95 L342.90,630.45 L343.40,629.85 L343.90,630.14 L344.40,630.87 L344.90,631.25 L345.40,630.59 L345.90,629.44 L346.40,628.39 L346.90,628.15 L347.40,628.79 L347.90,629.67 L348.40,628.73 L348.90,628.84 L349.40,630.04 L349.90,630.56 L350.40,629.63 L350.90,628.90 L351.40,629.36 L351.90,630.22 L352.40,629.33 L352.90,628.33 L353.40,628.18 L353.90,629.16 L354.40,630.28 L354.90,630.20 L355.40,629.44 L355.90,629.86 L356.40,630.56 L356.90,631.35 L357.40,631.87 L357.90,631.64 L358.40,631.32 L358.90,630.56 L359.40,629.75 L359.90,629.04 L360.40,629.35 L360.90,630.19 L361.40,630.95 L361.90,631.54 L362.40,631.73 L362.90,630.96 L363.40,630.39 L363.90,630.59 L364.40,631.28 L364.90,631.53 L365.40,631.93 L365.90,631.80 L366.40,631.85 L366.90,631.87 L367.40,631.83 L367.90,632.11 L368.40,631.76 L368.90,631.65 L369.40,631.17 L369.90,630.43 L370.40,629.97 L370.90,630.35 L371.40,630.80 L371.90,631.30 L372.40,631.78 L372.90,631.92 L373.40,631.91 L373.90,631.32 L374.40,630.99 L374.90,630.44 L375.40,630.64 L375.90,631.44 L376.40,631.55 L376.90,632.02 L377.40,631.81 L377.90,631.83 L378.40,631.80 L378.90,631.67 L379.40,631.42 L379.90,630.60 L380.40,629.64 L380.90,628.85 L381.40,629.44 L381.90,630.30 L382.40,629.66 L382.90,628.90 L383.40,629.32 L383.90,628.81 L384.40,627.45 L384.90,626.90 L385.40,628.01 L385.90,629.41 L386.40,628.00 L386.90,626.43 L387.40,625.99 L387.90,626.80 L388.40,628.57 L388.90,630.07 L389.40,629.48 L389.90,628.70 L390.40,628.68 L390.90,629.57 L391.40,630.44 L391.90,631.42 L392.40,631.17 L392.90,630.24 L393.40,629.69 L393.90,629.74 L394.40,630.52 L394.90,631.36 L395.40,631.63 L395.90,631.40 L396.40,630.68 L396.90,629.87 L397.40,630.23 L397.90,631.19 L398.40,631.58 L398.90,631.72 L399.40,631.26 L399.90,630.44 L400.40,630.03 L400.90,630.35 L401.40,630.93 L401.90,631.60 L402.40,631.84 L402.90,632.08 L403.40,632.03 L403.90,631.92 L404.40,632.03 L404.90,631.95 L405.40,631.99 L405.90,631.90 L406.40,632.04 L406.90,631.99 L407.40,631.87 L407.90,632.05 L408.40,632.10 L408.90,631.94 L409.40,632.11 L409.90,631.86 L410.40,632.06 L410.90,631.84 L411.40,631.97 L411.90,632.11 L412.40,631.98 L412.90,631.92 L413.40,631.99 L413.90,631.94 L414.40,632.03 L414.90,631.82 L415.40,632.10 L415.90,631.88 L416.40,632.15 L416.90,631.98 L417.40,632.14 L417.90,632.11 L418.40,631.95 L418.90,631.84 L419.40,632.05 L419.90,632.02 L420.40,631.99 L420.90,631.95 L421.40,632.04 L421.90,632.04 L422.40,631.86 L422.90,631.97 L423.40,632.03 L423.90,631.85 L424.40,631.70 L424.90,631.56 L425.40,630.93 L425.90,629.76 L426.40,628.87 L426.90,629.44 L427.40,630.45 L427.90,631.18 L428.40,631.92 L428.90,631.82 L429.40,632.04 L429.90,631.82 L430.40,631.28 L430.90,630.67 L431.40,629.91 L431.90,630.27 L432.40,630.93 L432.90,631.22 L433.40,630.69 L433.90,629.89 L434.40,630.14 L434.90,631.11 L435.40,631.61 L435.90,632.01 L436.40,631.96 L436.90,631.90 L437.40,632.03 L437.90,631.97 L438.40,632.11 L438.90,631.86 L439.40,631.94 L439.90,631.87 L440.40,632.13 L440.90,631.90 L441.40,632.13 L441.90,631.97 L442.40,632.08 L442.90,631.84 L443.40,632.12 L443.90,631.99 L444.40,632.00 L444.90,632.02 L445.40,632.14 L445.90,631.93 L446.40,631.82 L446.90,632.02 L447.40,631.76 L447.90,631.71 L448.40,631.22 L448.90,630.62 L449.40,630.37 L449.90,630.92 L450.40,631.53 L450.90,632.03 L451.40,631.97 L451.90,632.01 L452.40,631.63 L452.90,630.94 L453.40,630.59 L453.90,630.82 L454.40,631.26 L454.90,631.63 L455.40,631.78 L455.90,631.83 L456.40,632.01 L456.90,632.10 L457.40,631.82 L457.90,632.01 L458.40,632.04 L458.90,631.87 L459.40,631.96 L459.90,631.83 L460.40,631.91 L460.90,631.83 L461.40,632.11 L461.90,631.83 L462.40,631.97 L462.90,631.92 L463.40,632.05 L463.90,632.07 L464.40,632.06 L464.90,632.10 L465.40,631.82 L465.90,632.12 L466.40,632.08 L466.90,631.94 L467.40,632.09 L467.90,632.09 L468.40,632.07 L468.90,632.08 L469.40,632.16 L469.90,631.90 L470.40,631.93 L470.90,632.05 L471.40,631.85 L471.90,631.96 L472.40,632.08 L472.90,631.82 L473.40,632.08 L473.90,631.88 L474.40,631.87 L474.90,632.16 L475.40,631.86 L475.90,632.01 L476.40,631.98 L476.90,631.83 L477.40,632.00 L477.90,632.08 L478.40,632.14 L478.90,631.85 L479.40,632.00 L479.90,631.91 L480.40,631.94 L480.90,631.82 L481.40,631.83 L481.90,631.83 L482.40,631.98 L482.90,631.84 L483.40,632.05 L483.90,632.12 L484.40,631.94 L484.90,632.15 L485.40,631.82 L485.90,632.05 L486.40,632.01 L486.90,632.06 L487.40,632.05 L487.90,631.97 L488.40,631.88 L488.90,632.14 L489.40,631.93 L489.90,631.64 L490.40,630.70 L490.90,630.16 L491.40,630.08 L491.90,630.55 L492.40,631.48 L492.90,631.88 L493.40,631.99 L493.90,632.07 L494.40,631.91 L494.90,632.06 L495.40,631.98 L495.90,631.93 L496.40,631.74 L496.90,631.40 L497.40,630.91 L497.90,630.34 L498.40,630.53 L498.90,631.11 L499.40,631.65 L499.90,631.94 L500.40,632.03 L500.90,631.86 L501.40,631.99 L501.90,631.90 L502.40,632.02 L502.90,631.99 L503.40,631.95 L503.90,631.23 L504.40,630.61 L504.90,630.01 L505.40,630.17 L505.90,630.90 L506.40,631.49 L506.90,631.25 L507.40,630.63 L507.90,629.85 L508.40,630.41 L508.90,631.05 L509.40,631.49 L509.90,631.79 L510.40,631.94 L510.90,631.86 L511.40,632.10 L511.90,632.15 L512.40,632.06 L512.90,631.83 L513.40,632.15 L513.90,632.05 L514.40,631.98 L514.80,632.16 Z" fill="#5b4fa0"/>
<path d="M284.40,650.58 L284.40,650.24 L284.90,650.58 L285.40,650.32 L285.90,650.52 L286.40,650.23 L286.90,650.57 L287.40,650.27 L287.90,650.34 L288.40,650.28 L288.90,650.23 L289.40,650.50 L289.90,650.46 L290.40,650.33 L290.90,650.48 L291.40,650.49 L291.90,650.50 L292.40,650.28 L292.90,650.27 L293.40,650.30 L293.90,650.50 L294.40,650.26 L294.90,650.40 L295.40,650.50 L295.90,650.42 L296.40,650.43 L296.90,650.55 L297.40,650.38 L297.90,650.45 L298.40,650.38 L298.90,650.23 L299.40,650.22 L299.90,649.97 L300.40,649.18 L300.90,648.46 L301.40,648.42 L301.90,648.72 L302.40,649.76 L302.90,650.22 L303.40,649.64 L303.90,648.44 L304.40,647.62 L304.90,647.35 L305.40,648.08 L305.90,649.00 L306.40,649.66 L306.90,650.35 L307.40,650.50 L307.90,650.56 L308.40,650.42 L308.90,650.29 L309.40,650.39 L309.90,650.44 L310.40,650.40 L310.90,650.46 L311.40,649.99 L311.90,649.73 L312.40,649.20 L312.90,648.98 L313.40,649.21 L313.90,649.96 L314.40,650.05 L314.90,649.87 L315.40,649.22 L315.90,648.74 L316.40,648.27 L316.90,648.70 L317.40,649.48 L317.90,650.14 L318.40,650.28 L318.90,650.42 L319.40,650.22 L319.90,649.97 L320.40,649.41 L320.90,648.37 L321.40,646.97 L321.90,645.80 L322.40,646.18 L322.90,647.81 L323.40,646.41 L323.90,645.44 L324.40,645.71 L324.90,647.55 L325.40,649.09 L325.90,647.60 L326.40,646.60 L326.90,646.52 L327.40,647.36 L327.90,648.75 L328.40,649.68 L328.90,649.80 L329.40,649.21 L329.90,648.69 L330.40,648.51 L330.90,648.88 L331.40,649.63 L331.90,649.88 L332.40,648.94 L332.90,647.76 L333.40,646.96 L333.90,647.16 L334.40,647.95 L334.90,649.08 L335.40,649.81 L335.90,649.33 L336.40,648.98 L336.90,648.36 L337.40,648.65 L337.90,649.24 L338.40,649.81 L338.90,650.32 L339.40,650.44 L339.90,650.04 L340.40,649.94 L340.90,649.25 L341.40,648.92 L341.90,649.01 L342.40,649.36 L342.90,649.76 L343.40,650.09 L343.90,650.39 L344.40,650.34 L344.90,649.81 L345.40,648.64 L345.90,647.53 L346.40,647.06 L346.90,647.12 L347.40,648.27 L347.90,649.43 L348.40,647.98 L348.90,646.31 L349.40,644.58 L349.90,643.99 L350.40,644.96 L350.90,645.32 L351.40,643.25 L351.90,642.50 L352.40,644.00 L352.90,646.21 L353.40,647.90 L353.90,646.03 L354.40,645.53 L354.90,646.07 L355.40,647.61 L355.90,648.49 L356.40,647.57 L356.90,647.48 L357.40,648.23 L357.90,649.42 L358.40,650.15 L358.90,649.48 L359.40,648.29 L359.90,646.95 L360.40,645.92 L360.90,646.34 L361.40,647.81 L361.90,647.44 L362.40,646.34 L362.90,647.00 L363.40,648.35 L363.90,647.50 L364.40,645.91 L364.90,645.47 L365.40,646.66 L365.90,648.50 L366.40,649.74 L366.90,650.04 L367.40,650.35 L367.90,649.51 L368.40,648.43 L368.90,646.98 L369.40,646.55 L369.90,647.03 L370.40,648.61 L370.90,649.59 L371.40,649.96 L371.90,649.36 L372.40,648.66 L372.90,648.29 L373.40,649.05 L373.90,649.85 L374.40,650.08 L374.90,650.40 L375.40,649.93 L375.90,649.26 L376.40,648.28 L376.90,647.97 L377.40,648.12 L377.90,648.90 L378.40,649.68 L378.90,650.15 L379.40,650.23 L379.90,649.77 L380.40,649.02 L380.90,648.04 L381.40,647.28 L381.90,647.52 L382.40,648.69 L382.90,649.37 L383.40,650.26 L383.90,649.66 L384.40,648.39 L384.90,647.33 L385.40,646.37 L385.90,646.61 L386.40,647.95 L386.90,648.50 L387.40,647.46 L387.90,646.95 L388.40,647.74 L388.90,648.88 L389.40,649.92 L389.90,650.17 L390.40,650.40 L390.90,650.16 L391.40,649.64 L391.90,649.08 L392.40,648.26 L392.90,648.69 L393.40,649.45 L393.90,649.90 L394.40,650.30 L394.90,650.37 L395.40,650.36 L395.90,650.00 L396.40,649.23 L396.90,648.92 L397.40,649.05 L397.90,649.61 L398.40,650.08 L398.90,650.27 L399.40,649.60 L399.90,648.98 L400.40,648.54 L400.90,648.54 L401.40,649.30 L401.90,650.20 L402.40,650.19 L402.90,650.30 L403.40,650.29 L403.90,649.71 L404.40,648.81 L404.90,648.54 L405.40,648.62 L405.90,649.53 L406.40,650.19 L406.90,650.17 L407.40,650.03 L407.90,649.68 L408.40,648.86 L408.90,648.46 L409.40,648.70 L409.90,649.40 L410.40,649.95 L410.90,650.26 L411.40,650.40 L411.90,650.32 L412.40,650.24 L412.90,649.62 L413.40,648.83 L413.90,648.33 L414.40,648.74 L414.90,649.48 L415.40,649.89 L415.90,650.37 L416.40,650.34 L416.90,650.55 L417.40,650.53 L417.90,650.50 L418.40,650.34 L418.90,650.50 L419.40,650.35 L419.90,650.55 L420.40,650.34 L420.90,650.33 L421.40,650.49 L421.90,650.50 L422.40,650.49 L422.90,650.41 L423.40,650.52 L423.90,650.50 L424.40,650.30 L424.90,650.25 L425.40,650.52 L425.90,650.40 L426.40,650.35 L426.90,650.25 L427.40,650.38 L427.90,650.39 L428.40,650.31 L428.90,650.30 L429.40,650.33 L429.90,650.36 L430.40,650.30 L430.90,650.57 L431.40,650.31 L431.90,650.50 L432.40,650.46 L432.90,650.44 L433.40,650.40 L433.90,650.37 L434.40,650.37 L434.90,650.47 L435.40,650.43 L435.90,650.20 L436.40,649.71 L436.90,649.16 L437.40,648.65 L437.90,648.44 L438.40,649.15 L438.90,649.85 L439.40,650.25 L439.90,650.42 L440.40,650.56 L440.90,650.25 L441.40,650.33 L441.90,650.08 L442.40,648.94 L442.90,647.77 L443.40,646.94 L443.90,647.57 L444.40,648.88 L444.90,649.99 L445.40,650.42 L445.90,650.45 L446.40,650.29 L446.90,650.55 L447.40,650.53 L447.90,650.46 L448.40,650.25 L448.90,650.27 L449.40,650.24 L449.90,650.56 L450.40,650.40 L450.90,650.53 L451.40,650.36 L451.90,650.22 L452.40,650.07 L452.90,649.37 L453.40,648.61 L453.90,648.42 L454.40,649.00 L454.90,649.82 L455.40,650.13 L455.90,650.20 L456.40,650.24 L456.90,650.26 L457.40,650.28 L457.90,650.35 L458.40,650.41 L458.90,650.54 L459.40,650.30 L459.90,650.52 L460.40,650.25 L460.90,650.28 L461.40,650.48 L461.90,650.26 L462.40,650.32 L462.90,650.29 L463.40,650.53 L463.90,650.41 L464.40,650.18 L464.90,649.29 L465.40,648.76 L465.90,648.44 L466.40,648.87 L466.90,649.77 L467.40,650.16 L467.90,650.32 L468.40,650.44 L468.90,650.26 L469.40,650.35 L469.90,650.32 L470.40,650.32 L470.90,650.36 L471.40,650.52 L471.90,650.26 L472.40,650.25 L472.90,650.54 L473.40,650.45 L473.90,650.51 L474.40,650.53 L474.90,650.38 L475.40,650.43 L475.90,650.53 L476.40,650.41 L476.90,650.34 L477.40,650.53 L477.90,650.35 L478.40,650.35 L478.90,650.29 L479.40,650.23 L479.90,650.27 L480.40,650.44 L480.90,650.51 L481.40,650.26 L481.90,649.85 L482.40,648.83 L482.90,648.47 L483.40,648.65 L483.90,649.36 L484.40,648.97 L484.90,648.25 L485.40,648.62 L485.90,649.41 L486.40,650.18 L486.90,650.42 L487.40,650.33 L487.90,650.43 L488.40,650.38 L488.90,650.27 L489.40,650.34 L489.90,650.29 L490.40,650.45 L490.90,650.56 L491.40,650.48 L491.90,650.26 L492.40,650.49 L492.90,650.50 L493.40,650.36 L493.90,649.56 L494.40,649.06 L494.90,648.57 L495.40,648.72 L495.90,649.60 L496.40,649.98 L496.90,649.50 L497.40,648.62 L497.90,647.85 L498.40,648.41 L498.90,649.10 L499.40,649.93 L499.90,649.31 L500.40,648.36 L500.90,647.27 L501.40,647.64 L501.90,648.96 L502.40,649.95 L502.90,650.28 L503.40,650.32 L503.90,650.42 L504.40,650.39 L504.90,650.25 L505.40,650.33 L505.90,650.44 L506.40,650.26 L506.90,650.30 L507.40,650.57 L507.90,650.41 L508.40,650.47 L508.90,650.47 L509.40,650.45 L509.90,650.29 L510.40,650.36 L510.90,650.47 L511.40,650.46 L511.90,650.19 L512.40,649.73 L512.90,649.40 L513.40,649.54 L513.90,649.95 L514.40,650.22 L514.80,650.58 Z" fill="#eab431"/>
<path d="M284.40,669.00 L284.40,668.87 L284.90,668.83 L285.40,668.85 L285.90,668.84 L286.40,668.86 L286.90,668.77 L287.40,668.91 L287.90,668.78 L288.40,669.00 L288.90,668.89 L289.40,668.88 L289.90,668.95 L290.40,668.74 L290.90,668.89 L291.40,668.72 L291.90,668.67 L292.40,668.91 L292.90,668.69 L293.40,668.72 L293.90,668.77 L294.40,668.99 L294.90,668.84 L295.40,668.78 L295.90,668.90 L296.40,668.92 L296.90,668.89 L297.40,668.91 L297.90,668.71 L298.40,668.82 L298.90,668.65 L299.40,668.34 L299.90,668.07 L300.40,668.38 L300.90,668.70 L301.40,668.56 L301.90,668.69 L302.40,668.72 L302.90,668.82 L303.40,668.92 L303.90,668.95 L304.40,668.89 L304.90,668.84 L305.40,668.98 L305.90,668.76 L306.40,668.75 L306.90,669.00 L307.40,668.71 L307.90,668.83 L308.40,668.68 L308.90,668.83 L309.40,668.72 L309.90,668.84 L310.40,668.79 L310.90,668.83 L311.40,668.99 L311.90,668.95 L312.40,668.92 L312.90,668.86 L313.40,668.87 L313.90,668.81 L314.40,668.76 L314.90,668.84 L315.40,668.83 L315.90,668.68 L316.40,668.38 L316.90,668.23 L317.40,668.08 L317.90,667.92 L318.40,668.17 L318.90,668.39 L319.40,668.60 L319.90,668.72 L320.40,668.49 L320.90,667.92 L321.40,667.47 L321.90,667.57 L322.40,667.45 L322.90,667.66 L323.40,668.09 L323.90,668.62 L324.40,668.20 L324.90,667.92 L325.40,667.55 L325.90,667.40 L326.40,667.32 L326.90,667.52 L327.40,668.23 L327.90,668.57 L328.40,668.33 L328.90,668.06 L329.40,667.54 L329.90,667.25 L330.40,667.43 L330.90,667.90 L331.40,668.30 L331.90,668.58 L332.40,668.19 L332.90,667.69 L333.40,667.44 L333.90,667.37 L334.40,667.42 L334.90,667.70 L335.40,668.23 L335.90,668.58 L336.40,668.42 L336.90,667.97 L337.40,667.88 L337.90,667.50 L338.40,667.57 L338.90,667.98 L339.40,668.37 L339.90,668.65 L340.40,668.65 L340.90,668.67 L341.40,668.69 L341.90,668.92 L342.40,668.85 L342.90,668.99 L343.40,668.89 L343.90,668.89 L344.40,668.91 L344.90,668.84 L345.40,668.31 L345.90,668.17 L346.40,667.59 L346.90,667.08 L347.40,666.84 L347.90,666.92 L348.40,667.38 L348.90,667.92 L349.40,668.25 L349.90,667.55 L350.40,667.03 L350.90,666.75 L351.40,667.01 L351.90,667.39 L352.40,667.80 L352.90,668.27 L353.40,668.78 L353.90,668.81 L354.40,668.92 L354.90,668.75 L355.40,668.85 L355.90,668.82 L356.40,668.75 L356.90,668.36 L357.40,667.88 L357.90,667.79 L358.40,668.20 L358.90,668.53 L359.40,668.68 L359.90,668.96 L360.40,668.68 L360.90,668.99 L361.40,668.78 L361.90,668.95 L362.40,668.67 L362.90,668.76 L363.40,668.92 L363.90,668.82 L364.40,668.70 L364.90,668.70 L365.40,668.77 L365.90,668.78 L366.40,668.74 L366.90,668.68 L367.40,668.82 L367.90,668.78 L368.40,668.72 L368.90,668.82 L369.40,668.92 L369.90,668.80 L370.40,668.88 L370.90,668.75 L371.40,668.74 L371.90,668.68 L372.40,668.96 L372.90,668.99 L373.40,668.67 L373.90,668.74 L374.40,668.65 L374.90,668.72 L375.40,668.67 L375.90,668.95 L376.40,668.93 L376.90,668.79 L377.40,668.73 L377.90,668.96 L378.40,668.67 L378.90,668.92 L379.40,668.93 L379.90,668.85 L380.40,668.94 L380.90,668.97 L381.40,668.97 L381.90,668.99 L382.40,668.95 L382.90,668.76 L383.40,668.71 L383.90,668.63 L384.40,668.52 L384.90,668.01 L385.40,667.97 L385.90,667.83 L386.40,668.37 L386.90,668.79 L387.40,668.83 L387.90,668.91 L388.40,668.64 L388.90,668.53 L389.40,668.27 L389.90,667.94 L390.40,668.11 L390.90,668.18 L391.40,668.68 L391.90,668.69 L392.40,668.79 L392.90,668.86 L393.40,668.74 L393.90,668.81 L394.40,668.98 L394.90,668.65 L395.40,668.88 L395.90,668.77 L396.40,668.85 L396.90,668.66 L397.40,668.94 L397.90,668.98 L398.40,668.99 L398.90,668.86 L399.40,668.70 L399.90,668.84 L400.40,668.67 L400.90,668.95 L401.40,668.66 L401.90,668.94 L402.40,668.69 L402.90,668.93 L403.40,668.80 L403.90,668.79 L404.40,668.66 L404.90,668.86 L405.40,668.71 L405.90,668.98 L406.40,668.69 L406.90,668.82 L407.40,668.81 L407.90,668.66 L408.40,668.89 L408.90,668.79 L409.40,668.79 L409.90,668.89 L410.40,668.95 L410.90,668.85 L411.40,668.90 L411.90,668.79 L412.40,668.86 L412.90,668.97 L413.40,668.76 L413.90,668.68 L414.40,668.78 L414.90,668.90 L415.40,668.89 L415.90,668.66 L416.40,668.84 L416.90,668.75 L417.40,668.97 L417.90,668.72 L418.40,668.69 L418.90,668.91 L419.40,668.89 L419.90,668.77 L420.40,668.66 L420.90,668.71 L421.40,668.91 L421.90,668.69 L422.40,668.11 L422.90,668.07 L423.40,667.97 L423.90,668.46 L424.40,668.57 L424.90,668.89 L425.40,668.66 L425.90,668.83 L426.40,669.00 L426.90,668.93 L427.40,668.97 L427.90,668.85 L428.40,668.66 L428.90,668.66 L429.40,668.68 L429.90,668.86 L430.40,668.73 L430.90,668.74 L431.40,668.71 L431.90,668.66 L432.40,668.71 L432.90,668.73 L433.40,668.89 L433.90,668.94 L434.40,668.85 L434.90,668.88 L435.40,668.66 L435.90,668.68 L436.40,668.35 L436.90,667.95 L437.40,668.29 L437.90,668.58 L438.40,668.86 L438.90,668.96 L439.40,668.96 L439.90,668.74 L440.40,668.91 L440.90,668.96 L441.40,668.83 L441.90,668.87 L442.40,669.00 L442.90,668.98 L443.40,668.91 L443.90,668.85 L444.40,668.96 L444.90,668.85 L445.40,668.83 L445.90,668.68 L446.40,668.79 L446.90,668.89 L447.40,668.92 L447.90,668.94 L448.40,668.86 L448.90,668.67 L449.40,668.66 L449.90,668.95 L450.40,668.77 L450.90,668.73 L451.40,668.68 L451.90,668.73 L452.40,668.78 L452.90,668.97 L453.40,668.91 L453.90,668.67 L454.40,668.68 L454.90,668.69 L455.40,668.88 L455.90,668.73 L456.40,668.72 L456.90,668.86 L457.40,668.88 L457.90,668.84 L458.40,668.81 L458.90,668.99 L459.40,668.99 L459.90,668.65 L460.40,668.86 L460.90,668.86 L461.40,668.79 L461.90,668.81 L462.40,668.76 L462.90,668.81 L463.40,668.99 L463.90,668.98 L464.40,668.91 L464.90,668.87 L465.40,668.65 L465.90,668.83 L466.40,668.95 L466.90,668.71 L467.40,668.89 L467.90,668.85 L468.40,668.78 L468.90,668.75 L469.40,668.91 L469.90,668.86 L470.40,669.00 L470.90,668.67 L471.40,668.69 L471.90,668.71 L472.40,668.93 L472.90,668.78 L473.40,668.85 L473.90,668.95 L474.40,668.93 L474.90,668.69 L475.40,668.79 L475.90,668.79 L476.40,668.95 L476.90,668.79 L477.40,668.69 L477.90,668.93 L478.40,668.92 L478.90,668.67 L479.40,668.90 L479.90,668.82 L480.40,668.60 L480.90,668.47 L481.40,668.31 L481.90,668.09 L482.40,668.22 L482.90,668.60 L483.40,668.68 L483.90,668.92 L484.40,668.91 L484.90,668.71 L485.40,668.96 L485.90,668.97 L486.40,668.98 L486.90,668.78 L487.40,668.91 L487.90,668.91 L488.40,668.82 L488.90,668.74 L489.40,668.66 L489.90,668.98 L490.40,668.88 L490.90,668.99 L491.40,668.88 L491.90,668.77 L492.40,668.88 L492.90,668.85 L493.40,668.89 L493.90,668.66 L494.40,668.72 L494.90,668.69 L495.40,668.79 L495.90,668.69 L496.40,668.77 L496.90,668.97 L497.40,668.95 L497.90,668.67 L498.40,668.81 L498.90,668.74 L499.40,668.80 L499.90,668.69 L500.40,668.93 L500.90,668.94 L501.40,668.92 L501.90,668.74 L502.40,668.79 L502.90,668.81 L503.40,668.93 L503.90,668.85 L504.40,668.90 L504.90,668.97 L505.40,668.67 L505.90,668.72 L506.40,668.72 L506.90,668.87 L507.40,668.70 L507.90,668.70 L508.40,668.82 L508.90,668.33 L509.40,667.99 L509.90,667.99 L510.40,668.10 L510.90,668.49 L511.40,668.59 L511.90,668.68 L512.40,668.37 L512.90,668.20 L513.40,668.15 L513.90,668.51 L514.40,668.67 L514.80,669.00 Z" fill="#3a7fb5"/>
<path d="M284.40,687.42 L284.40,687.24 L284.90,687.14 L285.40,687.08 L285.90,687.30 L286.40,687.07 L286.90,686.90 L287.40,686.61 L287.90,686.59 L288.40,686.72 L288.90,686.90 L289.40,687.02 L289.90,687.30 L290.40,687.24 L290.90,687.31 L291.40,687.12 L291.90,687.09 L292.40,687.28 L292.90,687.07 L293.40,687.40 L293.90,687.12 L294.40,687.03 L294.90,687.10 L295.40,686.59 L295.90,686.43 L296.40,686.39 L296.90,686.96 L297.40,687.09 L297.90,687.08 L298.40,687.19 L298.90,687.31 L299.40,687.39 L299.90,687.09 L300.40,687.25 L300.90,687.06 L301.40,687.29 L301.90,686.87 L302.40,686.56 L302.90,686.31 L303.40,686.72 L303.90,686.90 L304.40,687.26 L304.90,687.13 L305.40,687.29 L305.90,687.08 L306.40,687.28 L306.90,687.12 L307.40,687.04 L307.90,687.13 L308.40,686.79 L308.90,686.35 L309.40,686.20 L309.90,686.10 L310.40,686.20 L310.90,686.28 L311.40,686.80 L311.90,686.93 L312.40,687.11 L312.90,687.08 L313.40,687.09 L313.90,686.71 L314.40,686.37 L314.90,686.32 L315.40,686.10 L315.90,685.80 L316.40,685.96 L316.90,686.24 L317.40,686.58 L317.90,686.58 L318.40,686.94 L318.90,687.06 L319.40,687.02 L319.90,686.68 L320.40,686.38 L320.90,686.25 L321.40,686.10 L321.90,685.68 L322.40,685.75 L322.90,686.25 L323.40,686.32 L323.90,686.56 L324.40,686.90 L324.90,686.95 L325.40,686.73 L325.90,686.62 L326.40,686.38 L326.90,686.13 L327.40,685.86 L327.90,685.77 L328.40,685.84 L328.90,686.01 L329.40,686.10 L329.90,686.52 L330.40,686.70 L330.90,686.86 L331.40,686.83 L331.90,686.88 L332.40,686.31 L332.90,686.32 L333.40,685.86 L333.90,685.73 L334.40,685.84 L334.90,686.11 L335.40,686.49 L335.90,686.77 L336.40,686.81 L336.90,687.12 L337.40,687.02 L337.90,686.96 L338.40,686.80 L338.90,686.56 L339.40,686.24 L339.90,686.25 L340.40,686.32 L340.90,686.42 L341.40,686.58 L341.90,686.80 L342.40,686.99 L342.90,686.93 L343.40,687.08 L343.90,687.31 L344.40,687.20 L344.90,687.08 L345.40,686.72 L345.90,686.42 L346.40,685.77 L346.90,685.63 L347.40,685.77 L347.90,685.95 L348.40,686.57 L348.90,686.84 L349.40,686.52 L349.90,686.24 L350.40,685.82 L350.90,685.70 L351.40,685.57 L351.90,686.00 L352.40,686.58 L352.90,686.92 L353.40,686.71 L353.90,686.38 L354.40,686.02 L354.90,685.96 L355.40,685.91 L355.90,686.16 L356.40,686.51 L356.90,686.93 L357.40,687.12 L357.90,687.07 L358.40,686.87 L358.90,686.64 L359.40,686.55 L359.90,686.33 L360.40,686.14 L360.90,686.41 L361.40,686.80 L361.90,686.92 L362.40,687.25 L362.90,687.29 L363.40,687.23 L363.90,687.17 L364.40,687.41 L364.90,687.24 L365.40,687.02 L365.90,686.94 L366.40,686.49 L366.90,686.59 L367.40,686.41 L367.90,686.74 L368.40,687.27 L368.90,687.20 L369.40,687.15 L369.90,687.34 L370.40,687.19 L370.90,687.12 L371.40,687.14 L371.90,687.27 L372.40,687.40 L372.90,687.23 L373.40,687.35 L373.90,687.23 L374.40,687.33 L374.90,687.30 L375.40,687.23 L375.90,687.13 L376.40,687.08 L376.90,687.28 L377.40,687.42 L377.90,687.16 L378.40,687.30 L378.90,687.15 L379.40,687.13 L379.90,687.41 L380.40,687.16 L380.90,687.32 L381.40,687.31 L381.90,687.30 L382.40,687.23 L382.90,687.33 L383.40,687.25 L383.90,687.32 L384.40,687.38 L384.90,687.33 L385.40,687.18 L385.90,687.31 L386.40,687.35 L386.90,687.29 L387.40,687.35 L387.90,687.08 L388.40,687.14 L388.90,687.37 L389.40,687.32 L389.90,687.27 L390.40,687.24 L390.90,687.28 L391.40,687.24 L391.90,687.15 L392.40,687.37 L392.90,687.22 L393.40,687.36 L393.90,687.23 L394.40,687.31 L394.90,687.14 L395.40,687.11 L395.90,687.09 L396.40,687.28 L396.90,687.20 L397.40,687.36 L397.90,687.17 L398.40,687.15 L398.90,687.27 L399.40,687.31 L399.90,687.15 L400.40,687.16 L400.90,687.14 L401.40,687.32 L401.90,687.34 L402.40,687.33 L402.90,687.33 L403.40,687.32 L403.90,687.04 L404.40,686.52 L404.90,686.28 L405.40,686.24 L405.90,686.81 L406.40,687.19 L406.90,687.06 L407.40,687.39 L407.90,687.30 L408.40,687.15 L408.90,687.31 L409.40,687.08 L409.90,687.16 L410.40,687.31 L410.90,687.12 L411.40,687.10 L411.90,687.24 L412.40,687.37 L412.90,687.38 L413.40,687.13 L413.90,687.11 L414.40,687.19 L414.90,687.15 L415.40,687.14 L415.90,687.34 L416.40,687.35 L416.90,687.12 L417.40,687.13 L417.90,687.27 L418.40,687.33 L418.90,687.39 L419.40,687.28 L419.90,687.10 L420.40,687.35 L420.90,687.31 L421.40,687.41 L421.90,687.22 L422.40,687.40 L422.90,687.16 L423.40,687.15 L423.90,686.94 L424.40,686.61 L424.90,686.32 L425.40,686.24 L425.90,686.61 L426.40,686.99 L426.90,687.31 L427.40,687.34 L427.90,687.29 L428.40,687.11 L428.90,687.09 L429.40,687.34 L429.90,687.20 L430.40,687.29 L430.90,687.26 L431.40,687.35 L431.90,687.17 L432.40,687.15 L432.90,687.09 L433.40,687.25 L433.90,687.27 L434.40,687.19 L434.90,687.37 L435.40,687.11 L435.90,687.15 L436.40,687.34 L436.90,687.28 L437.40,687.25 L437.90,687.12 L438.40,687.18 L438.90,687.34 L439.40,687.09 L439.90,687.09 L440.40,687.12 L440.90,687.25 L441.40,687.25 L441.90,687.28 L442.40,687.08 L442.90,687.25 L443.40,687.08 L443.90,687.36 L444.40,687.41 L444.90,687.25 L445.40,687.35 L445.90,687.33 L446.40,687.41 L446.90,687.38 L447.40,687.27 L447.90,687.39 L448.40,687.31 L448.90,687.19 L449.40,687.23 L449.90,686.97 L450.40,686.56 L450.90,686.34 L451.40,686.36 L451.90,686.67 L452.40,687.24 L452.90,687.19 L453.40,687.13 L453.90,686.76 L454.40,686.45 L454.90,686.33 L455.40,686.34 L455.90,686.62 L456.40,686.92 L456.90,687.11 L457.40,687.38 L457.90,687.29 L458.40,687.25 L458.90,687.30 L459.40,687.15 L459.90,687.25 L460.40,687.08 L460.90,687.42 L461.40,687.14 L461.90,687.38 L462.40,687.24 L462.90,687.37 L463.40,687.28 L463.90,687.18 L464.40,686.96 L464.90,687.00 L465.40,686.41 L465.90,686.19 L466.40,686.12 L466.90,686.79 L467.40,687.15 L467.90,687.09 L468.40,687.40 L468.90,687.09 L469.40,687.21 L469.90,686.67 L470.40,686.51 L470.90,686.20 L471.40,686.21 L471.90,686.73 L472.40,686.99 L472.90,687.27 L473.40,687.30 L473.90,687.39 L474.40,687.27 L474.90,687.02 L475.40,686.39 L475.90,685.92 L476.40,686.19 L476.90,686.73 L477.40,687.05 L477.90,687.11 L478.40,687.11 L478.90,687.39 L479.40,687.19 L479.90,687.32 L480.40,687.09 L480.90,687.17 L481.40,687.21 L481.90,687.19 L482.40,687.15 L482.90,687.40 L483.40,687.31 L483.90,687.41 L484.40,687.37 L484.90,687.10 L485.40,687.22 L485.90,687.35 L486.40,687.32 L486.90,687.27 L487.40,687.39 L487.90,687.13 L488.40,687.29 L488.90,687.40 L489.40,687.24 L489.90,687.28 L490.40,687.15 L490.90,687.33 L491.40,687.34 L491.90,687.24 L492.40,687.28 L492.90,687.37 L493.40,687.16 L493.90,687.12 L494.40,687.13 L494.90,687.19 L495.40,687.26 L495.90,687.14 L496.40,687.35 L496.90,687.39 L497.40,687.35 L497.90,687.23 L498.40,687.35 L498.90,687.27 L499.40,687.14 L499.90,687.20 L500.40,687.35 L500.90,687.38 L501.40,687.42 L501.90,687.40 L502.40,687.33 L502.90,687.17 L503.40,687.13 L503.90,687.28 L504.40,687.40 L504.90,687.22 L505.40,687.09 L505.90,687.41 L506.40,687.20 L506.90,687.07 L507.40,687.31 L507.90,687.21 L508.40,687.14 L508.90,687.19 L509.40,687.36 L509.90,687.14 L510.40,687.21 L510.90,687.19 L511.40,687.21 L511.90,687.13 L512.40,687.22 L512.90,687.10 L513.40,687.38 L513.90,687.41 L514.40,687.37 L514.80,687.42 Z" fill="#c8642a"/>
<rect x="311.2" y="560.0" width="33.90" height="127.60" fill="#bdbdbd" fill-opacity="0.42"/>
<line x1="284.40" y1="576.90" x2="514.80" y2="576.90" stroke="#4d4d4d" stroke-width="0.9" />
<line x1="284.40" y1="560.30" x2="284.40" y2="576.90" stroke="#4d4d4d" stroke-width="0.9" />
<line x1="284.40" y1="560.30" x2="286.00" y2="560.30" stroke="#4d4d4d" stroke-width="0.6" />
<text x="286.80" y="564.30" font-size="4.2" font-family='"Liberation Sans", sans-serif' font-weight="normal" fill="#444" text-anchor="start" stroke="none">40</text>
<line x1="284.40" y1="595.32" x2="514.80" y2="595.32" stroke="#4d4d4d" stroke-width="0.9" />
<line x1="284.40" y1="578.72" x2="284.40" y2="595.32" stroke="#4d4d4d" stroke-width="0.9" />
<line x1="284.40" y1="578.72" x2="286.00" y2="578.72" stroke="#4d4d4d" stroke-width="0.6" />
<text x="286.80" y="582.72" font-size="4.2" font-family='"Liberation Sans", sans-serif' font-weight="normal" fill="#444" text-anchor="start" stroke="none">40</text>
<line x1="284.40" y1="613.74" x2="514.80" y2="613.74" stroke="#4d4d4d" stroke-width="0.9" />
<line x1="284.40" y1="597.14" x2="284.40" y2="613.74" stroke="#4d4d4d" stroke-width="0.9" />
<line x1="284.40" y1="597.14" x2="286.00" y2="597.14" stroke="#4d4d4d" stroke-width="0.6" />
<text x="286.80" y="601.14" font-size="4.2" font-family='"Liberation Sans", sans-serif' font-weight="normal" fill="#444" text-anchor="start" stroke="none">40</text>
<line x1="284.40" y1="632.16" x2="514.80" y2="632.16" stroke="#4d4d4d" stroke-width="0.9" />
<line x1="284.40" y1="615.56" x2="284.40" y2="632.16" stroke="#4d4d4d" stroke-width="0.9" />
<line x1="284.40" y1="615.56" x2="286.00" y2="615.56" stroke="#4d4d4d" stroke-width="0.6" />
<text x="286.80" y="619.56" font-size="4.2" font-family='"Liberation Sans", sans-serif' font-weight="normal" fill="#444" text-anchor="start" stroke="none">90</text>
<line x1="284.40" y1="650.58" x2="514.80" y2="650.58" stroke="#4d4d4d" stroke-width="0.9" />
<line x1="284.40" y1="633.98" x2="284.40" y2="650.58" stroke="#4d4d4d" stroke-width="0.9" />
<line x1="284.40" y1="633.98" x2="286.00" y2="633.98" stroke="#4d4d4d" stroke-width="0.6" />
<text x="286.80" y="637.98" font-size="4.2" font-family='"Liberation Sans", sans-serif' font-weight="normal" fill="#444" text-anchor="start" stroke="none">90</text>
<line x1="284.40" y1="669.00" x2="514.80" y2="669.00" stroke="#4d4d4d" stroke-width="0.9" />
<line x1="284.40" y1="652.40" x2="284.40" y2="669.00" stroke="#4d4d4d" stroke-width="0.9" />
<line x1="284.40" y1="652.40" x2="286.00" y2="652.40" stroke="#4d4d4d" stroke-width="0.6" />
<text x="286.80" y="656.40" font-size="4.2" font-family='"Liberation Sans", sans-serif' font-weight="normal" fill="#444" text-anchor="start" stroke="none">90</text>
<line x1="284.40" y1="687.42" x2="514.80" y2="687.42" stroke="#4d4d4d" stroke-width="0.9" />
<line x1="284.40" y1="670.82" x2="284.40" y2="687.42" stroke="#4d4d4d" stroke-width="0.9" />
<line x1="284.40" y1="670.82" x2="286.00" y2="670.82" stroke="#4d4d4d" stroke-width="0.6" />
<text x="286.80" y="674.82" font-size="4.2" font-family='"Liberation Sans", sans-serif' font-weight="normal" fill="#444" text-anchor="start" stroke="none">90</text>
<line x1="311.20" y1="560.00" x2="311.20" y2="691.00" stroke="#333" stroke-width="0.9" stroke-dasharray="3,2.2"/>
<line x1="345.10" y1="560.00" x2="345.10" y2="691.00" stroke="#333" stroke-width="0.9" stroke-dasharray="3,2.2"/>
<text x="265.10" y="571.90" font-size="6.8" font-family='"Liberation Sans", sans-serif' font-weight="normal" fill="#222" text-anchor="middle"  stroke="#222" stroke-width="0.15">IPF rep1</text>
<text x="265.10" y="591.00" font-size="6.8" font-family='"Liberation Sans", sans-serif' font-weight="normal" fill="#222" text-anchor="middle"  stroke="#222" stroke-width="0.15">IPF rep2</text>
<text x="265.10" y="603.90" font-size="6.8" font-family='"Liberation Sans", sans-serif' font-weight="normal" fill="#222" text-anchor="middle"  stroke="#222" stroke-width="0.15">healthy</text>
<text x="265.10" y="612.30" font-size="6.8" font-family='"Liberation Sans", sans-serif' font-weight="normal" fill="#222" text-anchor="middle"  stroke="#222" stroke-width="0.15">Control</text>
<text x="265.30" y="627.60" font-size="6.8" font-family='"Liberation Sans", sans-serif' font-weight="normal" fill="#222" text-anchor="middle"  stroke="#222" stroke-width="0.15">Keloid rep1</text>
<text x="265.30" y="643.90" font-size="6.8" font-family='"Liberation Sans", sans-serif' font-weight="normal" fill="#222" text-anchor="middle"  stroke="#222" stroke-width="0.15">Keloid rep2</text>
<text x="266.00" y="662.60" font-size="6.8" font-family='"Liberation Sans", sans-serif' font-weight="normal" fill="#222" text-anchor="middle"  stroke="#222" stroke-width="0.15">Control1</text>
<text x="266.00" y="680.90" font-size="6.8" font-family='"Liberation Sans", sans-serif' font-weight="normal" fill="#222" text-anchor="middle"  stroke="#222" stroke-width="0.15">Control2</text>
<line x1="246.30" y1="560.10" x2="246.30" y2="615.90" stroke="#333" stroke-width="0.9" />
<line x1="246.30" y1="622.80" x2="246.30" y2="682.80" stroke="#333" stroke-width="0.9" />
<text transform="translate(243.3,578.0) rotate(-90)" font-size="7.1" font-family='"Liberation Sans", sans-serif' fill="#222" stroke="#222" stroke-width="0.12" text-anchor="middle">lung fibroblast ATAC-seq</text>
<text transform="translate(243.3,661.9) rotate(-90)" font-size="7.1" font-family='"Liberation Sans", sans-serif' fill="#222" stroke="#222" stroke-width="0.12" text-anchor="middle">skin fibroblast ATAC-seq</text>
<rect x="326.00" y="691.80" width="189.40" height="4.00" fill="#2155a8" />
<path d="M329.00,692.80 L330.20,693.80 L329.00,694.80" fill="none" stroke="#ffffff" stroke-width="0.6"/>
<path d="M335.20,692.80 L336.40,693.80 L335.20,694.80" fill="none" stroke="#ffffff" stroke-width="0.6"/>
<path d="M341.40,692.80 L342.60,693.80 L341.40,694.80" fill="none" stroke="#ffffff" stroke-width="0.6"/>
<path d="M347.60,692.80 L348.80,693.80 L347.60,694.80" fill="none" stroke="#ffffff" stroke-width="0.6"/>
<path d="M353.80,692.80 L355.00,693.80 L353.80,694.80" fill="none" stroke="#ffffff" stroke-width="0.6"/>
<path d="M360.00,692.80 L361.20,693.80 L360.00,694.80" fill="none" stroke="#ffffff" stroke-width="0.6"/>
<path d="M366.20,692.80 L367.40,693.80 L366.20,694.80" fill="none" stroke="#ffffff" stroke-width="0.6"/>
<path d="M372.40,692.80 L373.60,693.80 L372.40,694.80" fill="none" stroke="#ffffff" stroke-width="0.6"/>
<path d="M378.60,692.80 L379.80,693.80 L378.60,694.80" fill="none" stroke="#ffffff" stroke-width="0.6"/>
<path d="M384.80,692.80 L386.00,693.80 L384.80,694.80" fill="none" stroke="#ffffff" stroke-width="0.6"/>
<path d="M391.00,692.80 L392.20,693.80 L391.00,694.80" fill="none" stroke="#ffffff" stroke-width="0.6"/>
<path d="M397.20,692.80 L398.40,693.80 L397.20,694.80" fill="none" stroke="#ffffff" stroke-width="0.6"/>
<path d="M403.40,692.80 L404.60,693.80 L403.40,694.80" fill="none" stroke="#ffffff" stroke-width="0.6"/>
<path d="M409.60,692.80 L410.80,693.80 L409.60,694.80" fill="none" stroke="#ffffff" stroke-width="0.6"/>
<path d="M415.80,692.80 L417.00,693.80 L415.80,694.80" fill="none" stroke="#ffffff" stroke-width="0.6"/>
<path d="M422.00,692.80 L423.20,693.80 L422.00,694.80" fill="none" stroke="#ffffff" stroke-width="0.6"/>
<path d="M428.20,692.80 L429.40,693.80 L428.20,694.80" fill="none" stroke="#ffffff" stroke-width="0.6"/>
<path d="M434.40,692.80 L435.60,693.80 L434.40,694.80" fill="none" stroke="#ffffff" stroke-width="0.6"/>
<path d="M440.60,692.80 L441.80,693.80 L440.60,694.80" fill="none" stroke="#ffffff" stroke-width="0.6"/>
<path d="M446.80,692.80 L448.00,693.80 L446.80,694.80" fill="none" stroke="#ffffff" stroke-width="0.6"/>
<path d="M453.00,692.80 L454.20,693.80 L453.00,694.80" fill="none" stroke="#ffffff" stroke-width="0.6"/>
<path d="M459.20,692.80 L460.40,693.80 L459.20,694.80" fill="none" stroke="#ffffff" stroke-width="0.6"/>
<path d="M465.40,692.80 L466.60,693.80 L465.40,694.80" fill="none" stroke="#ffffff" stroke-width="0.6"/>
<path d="M471.60,692.80 L472.80,693.80 L471.60,694.80" fill="none" stroke="#ffffff" stroke-width="0.6"/>
<path d="M477.80,692.80 L479.00,693.80 L477.80,694.80" fill="none" stroke="#ffffff" stroke-width="0.6"/>
<path d="M484.00,692.80 L485.20,693.80 L484.00,694.80" fill="none" stroke="#ffffff" stroke-width="0.6"/>
<path d="M490.20,692.80 L491.40,693.80 L490.20,694.80" fill="none" stroke="#ffffff" stroke-width="0.6"/>
<path d="M496.40,692.80 L497.60,693.80 L496.40,694.80" fill="none" stroke="#ffffff" stroke-width="0.6"/>
<path d="M502.60,692.80 L503.80,693.80 L502.60,694.80" fill="none" stroke="#ffffff" stroke-width="0.6"/>
<path d="M508.80,692.80 L510.00,693.80 L508.80,694.80" fill="none" stroke="#ffffff" stroke-width="0.6"/>
<path d="M325.1,699.0 L325.1,702.7 L347.5,702.7" fill="none" stroke="#111" stroke-width="1.0"/>
<path d="M350.0,702.7 L345.6,700.6 L345.6,704.8 Z" fill="#111"/>
<text x="350.90" y="705.60" font-size="7.4" font-family='"Liberation Sans", sans-serif' font-weight="normal" fill="#222" text-anchor="start"  stroke="#222" stroke-width="0.15">CTHRC1</text>
<line x1="285.80" y1="708.50" x2="350.50" y2="708.50" stroke="#333" stroke-width="0.9" />
<line x1="285.80" y1="706.40" x2="285.80" y2="710.60" stroke="#333" stroke-width="0.9" />
<line x1="350.50" y1="706.40" x2="350.50" y2="710.60" stroke="#333" stroke-width="0.9" />
<text x="351.60" y="710.60" font-size="5.9" font-family='"Liberation Sans", sans-serif' font-weight="normal" fill="#222" text-anchor="start"  stroke="#222" stroke-width="0.06">2kb</text>
<text x="386.20" y="710.60" font-size="6.1" font-family='"Liberation Sans", sans-serif' font-weight="normal" fill="#222" text-anchor="start"  stroke="#222" stroke-width="0.06">hg38 chr8:103,370,537-103,377,363</text>
</svg></body></html>
